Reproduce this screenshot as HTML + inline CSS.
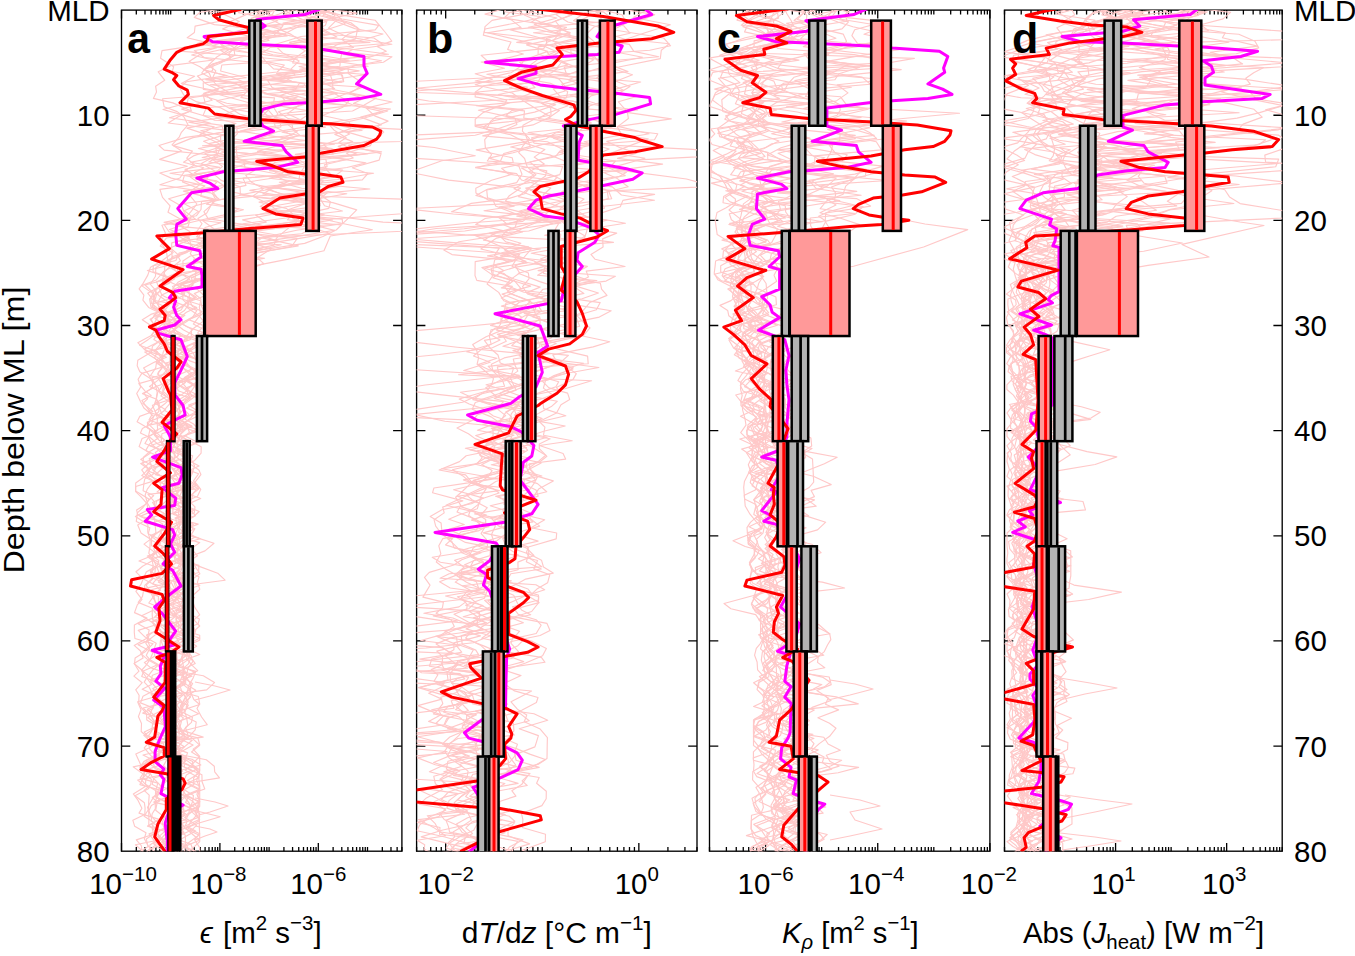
<!DOCTYPE html>
<html><head><meta charset="utf-8"><style>
html,body{margin:0;padding:0;background:#fff;}
svg{display:block;}
text{font-family:"Liberation Sans", sans-serif;font-size:29.5px;fill:#000;}
</style></head><body>
<svg width="1355" height="956" viewBox="0 0 1355 956">
<path d="M121.50 851.20v-8.3M121.50 10.10v8.3M136.31 851.20v-4.3M136.31 10.10v4.3M144.98 851.20v-4.3M144.98 10.10v4.3M151.12 851.20v-4.3M151.12 10.10v4.3M155.89 851.20v-4.3M155.89 10.10v4.3M159.79 851.20v-4.3M159.79 10.10v4.3M163.08 851.20v-4.3M163.08 10.10v4.3M165.93 851.20v-4.3M165.93 10.10v4.3M168.45 851.20v-4.3M168.45 10.10v4.3M170.70 851.20v-4.3M170.70 10.10v4.3M185.51 851.20v-4.3M185.51 10.10v4.3M194.18 851.20v-4.3M194.18 10.10v4.3M200.32 851.20v-4.3M200.32 10.10v4.3M205.09 851.20v-4.3M205.09 10.10v4.3M208.99 851.20v-4.3M208.99 10.10v4.3M212.28 851.20v-4.3M212.28 10.10v4.3M215.14 851.20v-4.3M215.14 10.10v4.3M217.65 851.20v-4.3M217.65 10.10v4.3M219.90 851.20v-8.3M219.90 10.10v8.3M234.71 851.20v-4.3M234.71 10.10v4.3M243.38 851.20v-4.3M243.38 10.10v4.3M249.53 851.20v-4.3M249.53 10.10v4.3M254.29 851.20v-4.3M254.29 10.10v4.3M258.19 851.20v-4.3M258.19 10.10v4.3M261.48 851.20v-4.3M261.48 10.10v4.3M264.34 851.20v-4.3M264.34 10.10v4.3M266.85 851.20v-4.3M266.85 10.10v4.3M269.11 851.20v-4.3M269.11 10.10v4.3M283.92 851.20v-4.3M283.92 10.10v4.3M292.58 851.20v-4.3M292.58 10.10v4.3M298.73 851.20v-4.3M298.73 10.10v4.3M303.50 851.20v-4.3M303.50 10.10v4.3M307.39 851.20v-4.3M307.39 10.10v4.3M310.69 851.20v-4.3M310.69 10.10v4.3M313.54 851.20v-4.3M313.54 10.10v4.3M316.06 851.20v-4.3M316.06 10.10v4.3M318.31 851.20v-8.3M318.31 10.10v8.3M333.12 851.20v-4.3M333.12 10.10v4.3M341.78 851.20v-4.3M341.78 10.10v4.3M347.93 851.20v-4.3M347.93 10.10v4.3M352.70 851.20v-4.3M352.70 10.10v4.3M356.59 851.20v-4.3M356.59 10.10v4.3M359.89 851.20v-4.3M359.89 10.10v4.3M362.74 851.20v-4.3M362.74 10.10v4.3M365.26 851.20v-4.3M365.26 10.10v4.3M367.51 851.20v-4.3M367.51 10.10v4.3M382.32 851.20v-4.3M382.32 10.10v4.3M390.98 851.20v-4.3M390.98 10.10v4.3M397.13 851.20v-4.3M397.13 10.10v4.3M401.90 851.20v-4.3M401.90 10.10v4.3M121.50 115.24h8.8M401.90 115.24h-8.8M121.50 220.38h8.8M401.90 220.38h-8.8M121.50 325.51h8.8M401.90 325.51h-8.8M121.50 430.65h8.8M401.90 430.65h-8.8M121.50 535.79h8.8M401.90 535.79h-8.8M121.50 640.93h8.8M401.90 640.93h-8.8M121.50 746.06h8.8M401.90 746.06h-8.8" stroke="#000" stroke-width="1.3" fill="none"/>
<rect x="121.50" y="10.10" width="280.40" height="841.10" stroke="#000" stroke-width="1.35" fill="none"/>
<path d="M416.60 851.20v-4.3M416.60 10.10v4.3M424.25 851.20v-4.3M424.25 10.10v4.3M430.71 851.20v-4.3M430.71 10.10v4.3M436.32 851.20v-4.3M436.32 10.10v4.3M441.26 851.20v-4.3M441.26 10.10v4.3M445.68 851.20v-8.3M445.68 10.10v8.3M474.75 851.20v-4.3M474.75 10.10v4.3M491.76 851.20v-4.3M491.76 10.10v4.3M503.83 851.20v-4.3M503.83 10.10v4.3M513.19 851.20v-4.3M513.19 10.10v4.3M520.83 851.20v-4.3M520.83 10.10v4.3M527.30 851.20v-4.3M527.30 10.10v4.3M532.90 851.20v-4.3M532.90 10.10v4.3M537.84 851.20v-4.3M537.84 10.10v4.3M542.26 851.20v-4.3M542.26 10.10v4.3M571.34 851.20v-4.3M571.34 10.10v4.3M588.35 851.20v-4.3M588.35 10.10v4.3M600.41 851.20v-4.3M600.41 10.10v4.3M609.77 851.20v-4.3M609.77 10.10v4.3M617.42 851.20v-4.3M617.42 10.10v4.3M623.89 851.20v-4.3M623.89 10.10v4.3M629.49 851.20v-4.3M629.49 10.10v4.3M634.43 851.20v-4.3M634.43 10.10v4.3M638.85 851.20v-8.3M638.85 10.10v8.3M667.92 851.20v-4.3M667.92 10.10v4.3M684.93 851.20v-4.3M684.93 10.10v4.3M697.00 851.20v-4.3M697.00 10.10v4.3M416.60 115.24h8.8M697.00 115.24h-8.8M416.60 220.38h8.8M697.00 220.38h-8.8M416.60 325.51h8.8M697.00 325.51h-8.8M416.60 430.65h8.8M697.00 430.65h-8.8M416.60 535.79h8.8M697.00 535.79h-8.8M416.60 640.93h8.8M697.00 640.93h-8.8M416.60 746.06h8.8M697.00 746.06h-8.8" stroke="#000" stroke-width="1.3" fill="none"/>
<rect x="416.60" y="10.10" width="280.40" height="841.10" stroke="#000" stroke-width="1.35" fill="none"/>
<path d="M709.50 851.20v-4.3M709.50 10.10v4.3M726.38 851.20v-4.3M726.38 10.10v4.3M736.26 851.20v-4.3M736.26 10.10v4.3M743.26 851.20v-4.3M743.26 10.10v4.3M748.70 851.20v-4.3M748.70 10.10v4.3M753.14 851.20v-4.3M753.14 10.10v4.3M756.89 851.20v-4.3M756.89 10.10v4.3M760.15 851.20v-4.3M760.15 10.10v4.3M763.01 851.20v-4.3M763.01 10.10v4.3M765.58 851.20v-8.3M765.58 10.10v8.3M782.46 851.20v-4.3M782.46 10.10v4.3M792.34 851.20v-4.3M792.34 10.10v4.3M799.34 851.20v-4.3M799.34 10.10v4.3M804.78 851.20v-4.3M804.78 10.10v4.3M809.22 851.20v-4.3M809.22 10.10v4.3M812.97 851.20v-4.3M812.97 10.10v4.3M816.23 851.20v-4.3M816.23 10.10v4.3M819.09 851.20v-4.3M819.09 10.10v4.3M821.66 851.20v-4.3M821.66 10.10v4.3M838.54 851.20v-4.3M838.54 10.10v4.3M848.42 851.20v-4.3M848.42 10.10v4.3M855.42 851.20v-4.3M855.42 10.10v4.3M860.86 851.20v-4.3M860.86 10.10v4.3M865.30 851.20v-4.3M865.30 10.10v4.3M869.05 851.20v-4.3M869.05 10.10v4.3M872.31 851.20v-4.3M872.31 10.10v4.3M875.17 851.20v-4.3M875.17 10.10v4.3M877.74 851.20v-8.3M877.74 10.10v8.3M894.62 851.20v-4.3M894.62 10.10v4.3M904.50 851.20v-4.3M904.50 10.10v4.3M911.50 851.20v-4.3M911.50 10.10v4.3M916.94 851.20v-4.3M916.94 10.10v4.3M921.38 851.20v-4.3M921.38 10.10v4.3M925.13 851.20v-4.3M925.13 10.10v4.3M928.39 851.20v-4.3M928.39 10.10v4.3M931.25 851.20v-4.3M931.25 10.10v4.3M933.82 851.20v-4.3M933.82 10.10v4.3M950.70 851.20v-4.3M950.70 10.10v4.3M960.58 851.20v-4.3M960.58 10.10v4.3M967.58 851.20v-4.3M967.58 10.10v4.3M973.02 851.20v-4.3M973.02 10.10v4.3M977.46 851.20v-4.3M977.46 10.10v4.3M981.21 851.20v-4.3M981.21 10.10v4.3M984.47 851.20v-4.3M984.47 10.10v4.3M987.33 851.20v-4.3M987.33 10.10v4.3M989.90 851.20v-8.3M989.90 10.10v8.3M709.50 115.24h8.8M989.90 115.24h-8.8M709.50 220.38h8.8M989.90 220.38h-8.8M709.50 325.51h8.8M989.90 325.51h-8.8M709.50 430.65h8.8M989.90 430.65h-8.8M709.50 535.79h8.8M989.90 535.79h-8.8M709.50 640.93h8.8M989.90 640.93h-8.8M709.50 746.06h8.8M989.90 746.06h-8.8" stroke="#000" stroke-width="1.3" fill="none"/>
<rect x="709.50" y="10.10" width="280.40" height="841.10" stroke="#000" stroke-width="1.35" fill="none"/>
<path d="M1004.50 851.20v-4.3M1004.50 10.10v4.3M1021.22 851.20v-4.3M1021.22 10.10v4.3M1031.00 851.20v-4.3M1031.00 10.10v4.3M1037.94 851.20v-4.3M1037.94 10.10v4.3M1043.32 851.20v-4.3M1043.32 10.10v4.3M1047.72 851.20v-4.3M1047.72 10.10v4.3M1051.44 851.20v-4.3M1051.44 10.10v4.3M1054.66 851.20v-4.3M1054.66 10.10v4.3M1057.50 851.20v-4.3M1057.50 10.10v4.3M1060.04 851.20v-4.3M1060.04 10.10v4.3M1076.76 851.20v-4.3M1076.76 10.10v4.3M1086.54 851.20v-4.3M1086.54 10.10v4.3M1093.48 851.20v-4.3M1093.48 10.10v4.3M1098.86 851.20v-4.3M1098.86 10.10v4.3M1103.26 851.20v-4.3M1103.26 10.10v4.3M1106.98 851.20v-4.3M1106.98 10.10v4.3M1110.20 851.20v-4.3M1110.20 10.10v4.3M1113.04 851.20v-4.3M1113.04 10.10v4.3M1115.58 851.20v-8.3M1115.58 10.10v8.3M1132.30 851.20v-4.3M1132.30 10.10v4.3M1142.08 851.20v-4.3M1142.08 10.10v4.3M1149.02 851.20v-4.3M1149.02 10.10v4.3M1154.40 851.20v-4.3M1154.40 10.10v4.3M1158.80 851.20v-4.3M1158.80 10.10v4.3M1162.52 851.20v-4.3M1162.52 10.10v4.3M1165.74 851.20v-4.3M1165.74 10.10v4.3M1168.58 851.20v-4.3M1168.58 10.10v4.3M1171.12 851.20v-4.3M1171.12 10.10v4.3M1187.84 851.20v-4.3M1187.84 10.10v4.3M1197.62 851.20v-4.3M1197.62 10.10v4.3M1204.56 851.20v-4.3M1204.56 10.10v4.3M1209.94 851.20v-4.3M1209.94 10.10v4.3M1214.34 851.20v-4.3M1214.34 10.10v4.3M1218.06 851.20v-4.3M1218.06 10.10v4.3M1221.28 851.20v-4.3M1221.28 10.10v4.3M1224.12 851.20v-4.3M1224.12 10.10v4.3M1226.66 851.20v-8.3M1226.66 10.10v8.3M1243.38 851.20v-4.3M1243.38 10.10v4.3M1253.16 851.20v-4.3M1253.16 10.10v4.3M1260.10 851.20v-4.3M1260.10 10.10v4.3M1265.48 851.20v-4.3M1265.48 10.10v4.3M1269.88 851.20v-4.3M1269.88 10.10v4.3M1273.60 851.20v-4.3M1273.60 10.10v4.3M1276.82 851.20v-4.3M1276.82 10.10v4.3M1279.66 851.20v-4.3M1279.66 10.10v4.3M1282.20 851.20v-4.3M1282.20 10.10v4.3M1004.50 115.24h8.8M1282.20 115.24h-8.8M1004.50 220.38h8.8M1282.20 220.38h-8.8M1004.50 325.51h8.8M1282.20 325.51h-8.8M1004.50 430.65h8.8M1282.20 430.65h-8.8M1004.50 535.79h8.8M1282.20 535.79h-8.8M1004.50 640.93h8.8M1282.20 640.93h-8.8M1004.50 746.06h8.8M1282.20 746.06h-8.8" stroke="#000" stroke-width="1.3" fill="none"/>
<rect x="1004.50" y="10.10" width="277.70" height="841.10" stroke="#000" stroke-width="1.35" fill="none"/>
<defs>
<clipPath id="cpa"><rect x="121.50" y="10.10" width="280.40" height="841.10"/></clipPath>
<clipPath id="cpb"><rect x="416.60" y="10.10" width="280.40" height="841.10"/></clipPath>
<clipPath id="cpc"><rect x="709.50" y="10.10" width="280.40" height="841.10"/></clipPath>
<clipPath id="cpd"><rect x="1004.50" y="10.10" width="277.70" height="841.10"/></clipPath>
</defs>
<g clip-path="url(#cpa)">
<g fill="none" stroke="#ffc8c8" stroke-width="1.15" stroke-linejoin="round"><polyline points="283.5,7.1 264.1,13.7 251.3,18.4 251.4,24.6 271.7,31.6 308.8,40.0 284.7,45.1 220.5,50.3 231.4,57.0 213.0,64.2 212.6,70.5 197.4,76.0 205.5,83.4 218.2,89.6 203.0,94.3 205.1,102.3 181.7,109.1 203.0,115.5 269.3,122.6 236.8,128.6 237.3,133.8 232.3,138.8 208.7,143.6 227.5,151.4 283.5,157.3 249.9,162.5 229.7,169.4 184.4,175.4 182.5,181.9 202.2,190.0 200.7,196.1 215.1,200.8 209.5,206.7 203.9,211.6 208.1,218.6 243.3,224.5 201.7,230.9 196.5,236.8 220.4,241.4 229.9,248.0 190.4,256.0 182.9,261.1 183.1,267.0 179.5,274.9 162.8,280.3 161.9,284.9 147.7,293.2 154.3,301.5 164.5,306.8 155.2,314.7 151.3,319.5 154.3,327.0 164.2,332.9 175.5,339.0 180.7,344.0 179.9,349.1 165.0,355.0 156.8,363.3 167.3,369.6 162.0,375.1 157.5,380.6 149.5,386.5 162.6,392.7 169.4,399.3 164.8,403.8 155.1,411.2 157.4,418.0 157.2,423.4 157.7,430.2 148.6,437.1 144.9,443.5 163.1,450.7 172.8,457.5 160.1,462.5 149.7,467.3 148.4,472.4 155.7,480.4 135.7,486.5 135.6,491.7 141.1,496.9 147.0,503.7 148.1,510.6 154.7,518.3 154.7,523.0 164.8,529.1 165.9,534.2 169.8,539.1 169.7,543.9 161.0,548.7 151.4,555.0 158.9,560.6 157.1,565.6 151.9,571.3 157.0,577.8 168.6,583.3 143.9,588.6 142.5,596.3 138.2,602.4 152.4,608.3 152.2,614.4 152.5,619.2 160.0,624.0 156.8,629.6 149.4,634.8 145.8,643.2 149.5,648.9 146.3,655.3 150.0,659.8 158.2,664.5 142.8,671.3 153.2,678.7 160.9,687.1 163.3,691.8 158.0,699.2 159.9,705.8 162.4,712.6 159.0,718.0 157.5,722.9 180.7,729.9 203.2,737.1 158.3,742.6 148.9,747.9 135.8,753.9 139.0,760.9 141.4,766.4 148.8,771.0 143.0,778.2 139.9,784.6 159.4,789.9 157.2,796.2 155.2,801.8 155.4,808.6 152.2,813.7 151.1,821.0 156.6,825.6 155.3,831.3 162.6,839.1 163.4,844.1 148.7,849.8 142.6,856.6"/><polyline points="248.4,7.1 238.5,12.6 269.0,18.6 283.0,25.6 277.2,33.0 217.3,40.5 225.0,48.7 199.9,54.4 189.1,61.5 199.9,66.7 209.3,73.2 211.8,79.5 216.8,85.4 228.3,92.1 188.2,98.3 187.2,103.0 163.0,109.5 183.4,115.1 210.5,123.4 186.9,128.1 207.4,134.9 223.7,142.7 217.5,147.7 193.4,155.9 183.5,162.3 203.8,167.7 194.3,172.7 208.1,177.6 201.4,183.7 159.9,189.4 162.5,197.4 170.1,205.8 168.0,212.3 181.2,219.4 161.9,225.3 165.4,233.0 160.4,241.4 163.7,246.8 166.7,253.2 167.7,260.4 166.9,265.7 147.4,270.5 168.9,277.9 169.3,283.2 154.3,290.3 158.8,295.5 170.3,303.8 165.1,309.7 150.8,314.4 142.3,319.7 151.5,325.9 167.6,330.5 164.0,338.0 152.4,346.3 151.6,352.1 137.8,360.2 137.2,365.7 139.8,371.7 152.6,379.9 152.4,387.7 144.0,393.5 147.6,398.8 142.8,403.4 152.9,411.5 139.7,416.4 137.1,421.8 150.0,429.3 148.3,437.1 152.1,444.6 158.3,449.7 163.0,455.8 140.7,463.5 149.4,469.9 147.3,474.6 135.7,483.0 135.6,490.9 149.2,499.2 145.4,504.6 136.6,510.1 137.8,514.7 148.4,520.4 155.2,525.2 155.9,532.2 151.7,538.4 144.0,544.1 154.3,552.1 152.0,559.5 153.2,565.7 151.5,572.0 152.6,579.1 146.1,585.1 150.4,591.7 154.0,599.4 159.1,607.6 141.6,615.8 154.0,623.6 158.6,629.8 146.5,635.1 149.7,640.1 138.0,644.8 153.0,652.6 149.9,659.7 145.6,665.9 141.4,670.5 146.8,678.0 151.4,684.4 142.2,689.3 157.7,696.3 162.4,702.9 167.4,711.2 160.0,718.6 172.0,725.1 162.1,732.7 166.3,740.2 164.7,748.0 158.4,753.3 158.1,758.0 159.2,765.2 145.5,770.2 140.1,778.1 157.8,783.1 155.6,790.8 155.4,796.7 169.7,804.2 172.5,811.2 164.2,817.0 151.1,823.9 156.1,829.0 154.4,833.5 146.3,838.9 147.7,845.9 154.6,851.4"/><polyline points="300.3,7.1 284.5,14.2 333.6,20.5 354.9,28.6 383.0,34.0 359.5,40.7 277.2,47.7 282.6,52.9 299.2,60.9 291.1,68.8 295.0,75.1 267.1,79.8 272.2,87.6 288.9,93.9 312.8,100.9 298.7,105.5 287.3,113.8 299.8,119.6 232.1,126.9 229.3,134.7 226.4,142.1 323.5,149.1 368.0,153.7 328.4,158.8 272.6,165.8 231.2,172.7 323.3,180.8 315.9,189.0 324.1,193.7 268.1,201.5 260.2,206.4 280.7,212.6 242.6,219.9 265.3,226.4 201.7,232.6 196.8,239.9 281.3,244.8 263.4,249.3 211.5,257.0 206.0,264.8 192.6,270.2 209.5,277.2 180.0,284.9 182.6,290.9 183.7,295.5 169.8,302.0 162.5,308.4 168.5,315.5 166.9,323.3 174.7,329.6 181.5,335.9 173.0,341.7 175.9,346.8 174.6,351.9 195.9,359.3 202.0,365.4 194.8,371.6 185.2,376.9 177.8,384.6 186.9,391.0 190.2,398.4 179.1,405.9 179.9,413.9 172.1,421.2 182.8,428.2 174.9,435.5 169.0,441.8 179.4,450.1 156.7,456.1 177.0,462.8 187.9,469.4 171.1,476.7 160.2,483.3 161.5,490.6 170.8,499.0 185.9,505.1 180.3,512.4 190.8,519.9 181.8,527.6 185.2,535.2 188.7,541.9 190.7,549.0 181.4,554.6 184.8,560.6 198.6,566.1 217.7,573.2 225.1,580.2 187.1,585.3 178.1,592.1 170.8,597.9 176.9,602.7 186.8,610.6 179.2,616.0 187.8,623.2 182.5,629.9 199.7,635.3 199.7,640.2 184.8,646.6 187.6,653.9 193.0,661.4 188.3,667.9 186.0,676.4 190.3,683.5 190.6,692.0 193.8,699.5 199.7,704.5 176.2,712.1 183.4,718.0 178.6,723.9 181.4,731.9 190.8,736.9 199.7,745.2 191.5,752.0 199.7,756.9 199.7,764.5 199.7,770.5 198.8,778.5 199.7,785.5 199.7,791.7 199.7,799.6 196.9,807.6 174.0,814.4 187.3,820.9 184.3,828.2 198.9,835.1 188.5,842.7 179.9,850.8 199.8,857.9"/><polyline points="278.9,7.1 291.4,14.6 307.8,21.9 245.9,28.6 252.5,36.7 235.2,44.8 194.3,50.5 204.2,57.5 269.9,63.8 301.2,72.2 249.5,79.8 249.8,85.6 210.8,93.3 274.5,97.9 272.8,106.3 277.8,113.9 273.5,119.6 275.4,127.2 292.1,135.3 223.3,143.0 215.9,149.6 217.2,157.2 208.9,162.0 257.4,168.8 245.8,175.5 251.1,182.0 263.4,188.6 252.7,196.3 268.8,203.9 276.9,210.4 255.7,215.2 266.2,222.1 228.2,228.9 258.1,234.5 279.2,241.5 238.0,249.9 212.3,255.9 220.0,264.0 212.7,271.3 208.6,276.2 180.4,284.1 197.4,289.3 204.5,296.0 187.1,302.5 180.0,307.4 168.4,314.9 166.4,321.3 158.4,327.3 151.4,335.4 165.2,340.5 168.7,346.5 170.1,354.7 169.8,363.1 166.7,369.1 177.9,375.4 176.4,381.6 177.0,387.2 170.5,393.6 174.8,400.6 184.8,408.4 178.4,414.7 171.6,420.7 181.4,429.1 168.4,435.7 170.8,443.9 173.1,450.1 175.9,456.7 185.9,464.5 189.6,469.7 182.1,474.9 187.5,481.5 179.4,487.4 166.1,492.3 173.4,499.4 171.4,504.1 193.8,510.0 186.2,515.9 188.0,523.6 193.4,529.2 185.6,533.8 176.5,538.7 178.0,545.4 177.7,552.9 179.6,559.2 183.0,564.1 181.0,570.9 173.8,579.0 168.4,586.1 164.5,590.7 194.6,597.6 173.5,603.6 154.1,611.5 160.0,617.6 161.1,624.8 175.7,629.3 174.4,634.6 186.6,640.7 184.9,649.1 191.6,656.1 188.4,663.8 183.4,668.4 182.7,674.3 183.4,682.5 171.5,690.7 169.1,698.9 173.2,706.3 169.3,711.7 173.2,719.8 175.6,724.4 164.6,732.8 172.3,741.1 179.9,749.1 175.5,755.8 183.6,762.4 196.7,769.0 186.3,775.1 183.4,782.1 199.7,790.0 183.8,797.0 173.7,801.9 183.6,808.0 179.4,813.6 179.7,820.9 169.8,827.5 185.3,835.0 185.5,841.6 185.6,847.1 183.8,854.0"/><polyline points="343.0,7.1 319.8,12.8 342.1,19.0 378.7,25.4 375.2,29.9 301.0,36.5 284.1,41.7 256.6,49.8 272.9,54.7 330.4,60.4 368.1,66.3 276.4,73.3 291.9,81.4 258.5,86.3 295.6,93.6 341.0,100.3 352.4,104.8 382.6,111.6 364.6,116.7 327.5,123.3 277.4,131.6 257.8,139.3 290.4,144.3 349.6,151.3 315.9,156.6 305.1,162.7 305.2,168.2 373.6,173.3 337.6,179.5 288.3,184.3 249.8,190.4 295.3,198.4 318.1,202.9 318.8,208.8 231.6,217.1 226.6,223.2 310.9,228.8 301.8,233.8 226.6,240.5 249.1,246.5 239.9,253.3 206.0,261.3 171.0,268.1 181.2,274.3 206.4,281.5 204.6,289.0 194.3,293.6 201.0,299.0 199.3,307.2 200.8,314.6 185.9,320.6 175.3,327.7 174.1,332.9 197.4,341.0 179.8,349.5 185.4,355.1 179.4,362.3 194.4,369.9 202.3,376.9 176.9,383.4 188.4,390.2 201.7,397.3 201.6,404.6 198.1,410.3 188.0,416.5 178.2,421.9 177.2,428.2 173.7,436.0 170.2,441.3 187.3,447.8 188.9,454.5 188.1,460.0 199.0,465.9 183.5,473.1 184.2,477.6 196.5,484.9 189.2,490.4 186.2,498.7 182.8,506.5 183.4,511.1 192.4,516.8 180.5,521.9 194.9,528.7 190.9,535.1 174.5,540.7 178.5,548.3 171.8,553.9 193.1,561.1 195.5,567.1 199.9,573.7 189.8,581.1 185.4,588.2 189.8,596.4 192.8,601.3 194.8,607.4 199.7,614.8 194.0,619.9 199.7,626.0 193.7,631.4 184.7,639.2 179.0,643.9 186.8,648.5 199.7,654.5 181.1,661.3 170.5,667.5 174.7,673.6 174.5,681.0 172.5,687.2 167.3,695.1 174.9,700.5 159.9,707.3 166.2,712.8 181.5,721.2 179.5,729.0 184.7,736.4 181.1,743.6 173.8,751.5 161.4,758.1 182.3,765.1 159.2,772.3 178.2,778.7 182.2,784.8 177.2,793.1 199.7,801.3 190.1,806.2 188.7,814.1 185.9,819.6 166.8,825.6 170.3,831.5 178.4,839.6 190.9,844.2 193.4,850.7 196.5,858.9"/><polyline points="289.3,7.1 335.6,13.4 332.3,19.8 251.9,26.8 223.4,35.2 197.1,43.5 229.6,49.2 216.8,57.0 208.3,65.3 215.8,70.7 212.7,77.7 232.3,82.5 249.3,89.3 240.9,97.4 275.4,104.2 236.8,109.6 215.7,118.0 236.0,123.5 200.7,130.8 230.0,137.3 232.4,142.4 198.4,148.5 226.2,155.4 190.5,162.2 219.7,167.4 170.0,173.3 216.4,180.7 224.5,185.9 212.5,192.9 215.3,199.2 206.5,204.1 238.7,208.8 226.7,216.2 202.8,220.7 213.9,228.7 218.5,236.4 178.3,241.3 204.9,247.4 179.1,253.1 175.9,260.5 153.3,265.8 153.0,271.8 168.2,276.9 164.0,283.9 154.2,290.9 150.8,297.7 151.4,303.2 161.8,311.6 169.2,320.0 167.9,326.7 160.0,333.6 159.1,341.5 144.4,348.9 156.6,357.0 167.4,364.7 170.6,372.4 151.8,377.8 155.5,384.9 157.2,392.3 156.2,398.5 158.9,406.9 162.1,414.5 176.1,419.3 149.5,425.1 154.5,429.8 154.8,434.5 164.2,439.6 161.2,444.7 150.2,451.2 143.5,457.3 142.8,463.4 149.0,468.7 141.7,475.6 151.0,480.2 182.5,488.6 192.5,495.2 173.8,500.0 173.6,505.4 166.6,511.0 164.3,518.6 152.0,523.3 164.7,529.4 150.5,535.6 160.3,543.2 156.8,550.2 148.5,557.5 158.5,564.6 146.3,572.0 143.5,578.3 140.8,584.7 135.9,591.4 142.0,599.3 137.3,604.9 134.5,612.6 147.0,618.1 134.4,625.0 134.3,632.5 134.9,638.5 153.1,643.7 145.1,651.8 135.1,658.1 134.5,664.0 139.0,671.2 133.9,676.1 142.2,682.7 135.7,689.8 139.1,695.3 138.7,702.2 141.4,707.7 146.6,714.2 146.8,719.9 157.0,725.9 144.2,732.1 151.2,740.0 144.2,747.9 151.1,755.8 156.3,762.0 133.2,766.9 142.1,773.2 151.4,779.3 150.7,784.7 144.1,790.4 149.2,795.2 148.7,801.7 148.5,809.5 144.1,816.2 153.4,822.3 152.1,827.6 153.5,834.2 136.3,839.9 141.3,845.6 142.2,852.3"/><polyline points="307.2,7.1 304.8,15.3 316.5,22.5 325.7,30.8 336.9,37.0 289.9,44.0 351.2,49.3 388.4,54.3 341.9,58.9 316.0,64.3 359.2,70.9 316.9,77.5 341.7,82.2 272.7,88.5 334.4,93.5 348.7,101.5 342.9,107.2 322.5,115.5 349.1,121.3 350.5,128.6 334.8,134.4 352.7,141.6 338.2,146.4 357.0,154.4 286.9,160.1 309.5,166.5 305.3,173.3 324.9,177.8 304.0,183.0 369.9,189.0 287.7,196.4 299.3,201.5 261.0,208.3 334.8,216.2 383.0,222.1 488.1,227.2 381.6,232.2 263.1,237.1 253.7,243.7 271.2,249.0 260.8,255.5 250.1,261.9 232.1,267.4 206.8,272.0 213.0,280.1 198.1,286.9 171.9,292.4 174.1,299.4 163.6,307.1 169.6,315.4 177.3,320.9 187.1,326.7 203.5,332.6 185.1,339.0 181.7,346.5 184.6,354.4 199.4,360.3 202.5,367.8 193.8,375.9 175.9,382.7 178.1,390.7 201.7,399.0 199.4,404.5 196.3,410.8 190.6,418.1 180.0,425.8 195.9,431.9 177.5,437.7 181.7,442.3 175.5,450.0 185.3,455.9 186.9,462.8 177.1,470.1 182.9,475.1 184.9,480.4 196.4,485.8 171.4,491.8 188.4,500.3 195.0,506.9 194.2,513.2 175.0,518.1 198.2,524.1 185.3,528.9 178.8,534.9 172.6,541.5 181.8,547.4 173.8,554.6 175.6,562.7 194.7,568.5 178.4,573.6 179.2,579.7 178.9,587.2 170.2,595.6 188.9,601.6 191.4,607.3 183.8,614.9 191.7,622.9 194.4,628.7 193.8,637.1 191.5,645.3 188.1,650.3 186.6,658.6 191.6,664.9 197.7,670.7 182.9,677.4 192.6,683.4 188.7,690.4 179.2,698.2 183.1,703.8 179.6,711.3 179.4,716.2 176.0,723.2 179.3,731.5 178.8,739.2 168.3,745.9 175.4,750.9 186.8,757.4 177.9,763.5 182.6,771.2 163.1,778.7 177.6,786.2 173.7,791.2 188.3,796.8 185.6,802.4 198.4,809.6 199.7,816.9 187.6,821.4 173.2,826.1 178.9,830.8 176.1,837.8 179.7,843.2 177.8,850.9 169.5,855.5"/><polyline points="288.1,7.1 305.0,14.0 326.7,21.7 298.4,26.5 284.8,33.7 267.2,38.9 245.0,46.4 281.7,53.7 346.7,61.0 299.6,69.2 365.9,74.5 321.7,81.5 334.6,88.6 264.3,93.8 295.3,100.1 206.3,107.7 203.1,115.4 214.8,120.3 332.8,125.8 349.6,134.1 336.7,140.1 323.6,144.7 328.8,149.2 333.4,153.9 240.3,159.7 265.4,166.7 309.4,172.8 243.0,178.1 246.0,185.4 224.2,190.1 258.1,197.5 320.4,203.9 313.3,208.6 302.2,214.7 296.5,222.1 286.2,229.9 276.4,238.1 274.1,245.1 252.3,249.7 256.4,257.0 263.8,263.6 241.5,271.8 196.5,279.5 190.5,287.2 188.4,292.9 194.6,297.5 185.9,302.5 196.8,307.4 186.4,312.3 180.3,317.2 162.3,322.3 176.9,326.8 170.0,333.7 163.8,340.7 185.8,348.4 173.0,353.0 186.4,361.0 183.1,368.3 189.8,374.1 197.3,381.2 186.8,389.7 188.6,395.9 177.6,404.0 180.8,412.1 176.3,419.9 183.2,426.6 161.9,433.7 161.2,441.8 167.2,447.2 165.3,452.7 164.8,459.0 170.8,466.5 175.6,473.7 164.6,480.8 169.4,488.1 170.0,492.6 185.6,499.1 182.0,506.7 174.0,512.8 181.0,517.7 179.5,522.3 172.1,530.0 176.2,535.3 170.6,542.2 179.4,547.0 175.9,553.8 190.5,561.7 192.2,569.1 178.4,575.1 175.4,582.8 178.2,588.2 170.1,594.1 163.1,598.8 165.0,603.4 173.6,610.8 176.0,616.0 170.1,620.8 179.1,627.5 190.8,634.2 191.2,639.2 185.0,644.4 186.6,649.9 171.9,654.7 170.0,661.9 172.5,668.3 182.8,674.8 179.9,681.5 188.1,688.6 185.9,696.1 183.1,701.3 180.3,706.1 185.2,711.2 171.5,719.4 177.9,727.7 153.7,736.0 170.0,741.4 181.3,747.7 175.9,753.8 206.3,759.8 214.3,766.2 214.7,771.8 219.5,777.9 188.1,783.0 199.7,789.2 186.3,794.7 199.0,802.2 198.5,808.4 188.8,813.2 179.8,818.0 171.8,825.3 172.4,831.9 166.1,838.7 186.6,844.7 188.8,850.8 196.6,858.1"/><polyline points="309.7,7.1 337.5,15.4 345.2,23.8 324.1,30.5 314.3,36.5 369.9,42.4 270.3,47.4 260.4,54.5 265.4,61.1 273.6,68.9 342.4,75.0 343.7,81.7 289.8,89.2 354.2,94.4 392.1,102.0 366.3,108.1 374.7,115.9 388.1,121.1 377.2,125.7 383.8,132.1 374.9,139.6 348.2,145.2 381.1,153.6 379.1,160.1 352.3,167.8 367.9,173.5 362.3,179.9 275.6,186.2 262.8,194.0 311.7,202.2 269.3,209.7 292.6,214.4 287.4,219.8 341.3,225.0 336.2,230.0 291.2,237.4 250.2,243.4 248.1,249.2 233.9,254.4 239.1,260.2 209.5,267.4 193.1,274.6 177.9,282.3 171.4,290.5 179.5,298.2 203.3,305.7 204.0,313.7 203.8,320.9 194.0,328.0 187.4,335.3 181.8,343.5 188.7,349.2 176.5,354.7 189.2,360.6 202.6,365.5 196.3,371.6 186.5,379.1 194.5,386.6 190.0,393.1 176.9,400.9 176.0,406.6 178.7,413.8 180.6,419.7 186.4,424.3 189.4,432.3 181.9,438.4 180.7,445.6 184.0,453.8 183.8,461.8 177.9,468.3 174.6,473.8 180.9,481.9 196.0,489.8 189.0,498.0 172.9,506.2 172.9,514.1 187.1,519.1 171.6,525.0 167.2,533.0 158.1,539.0 158.1,544.8 174.8,550.7 182.0,558.8 178.0,567.1 164.3,575.3 158.3,582.1 170.4,587.1 170.2,593.7 178.4,600.6 182.2,608.0 166.9,614.2 157.9,622.6 160.1,630.6 168.5,638.7 181.0,646.7 159.7,651.4 165.7,658.8 172.1,663.9 183.4,668.5 183.3,673.9 184.0,681.5 172.8,689.2 183.9,694.6 188.2,702.0 186.1,707.3 198.6,713.8 177.6,721.9 180.3,727.1 185.0,734.5 174.0,740.4 184.4,746.7 167.4,752.3 167.1,759.2 163.5,765.6 170.0,771.5 169.6,778.9 160.4,786.0 172.8,790.7 165.0,798.0 179.0,803.2 195.8,810.8 220.2,816.7 199.9,822.8 177.5,830.9 167.7,837.3 153.0,843.2 161.0,849.6 169.4,857.3"/><polyline points="309.4,7.1 340.1,14.9 375.1,20.2 379.7,25.6 385.8,33.0 391.8,41.1 377.1,46.4 386.3,51.3 362.6,59.7 320.3,64.3 343.4,69.4 271.9,77.8 304.4,83.9 308.6,92.3 286.4,97.5 305.5,104.1 278.4,111.7 288.1,118.6 349.1,126.6 450.8,131.8 471.9,139.7 273.2,144.9 221.7,151.3 325.9,159.4 327.1,166.6 296.0,172.4 269.1,178.2 339.4,186.2 315.9,190.8 323.6,196.5 490.2,202.1 474.2,208.4 374.6,215.8 291.1,222.3 245.5,227.9 230.5,236.4 198.7,243.9 218.4,252.2 231.1,257.3 229.2,264.0 223.8,270.0 228.7,276.4 198.6,281.0 180.9,288.4 189.4,293.5 189.3,300.0 192.5,306.4 202.2,311.8 188.0,319.4 203.7,325.6 197.7,332.9 203.2,340.6 191.7,347.9 180.8,352.9 171.3,358.9 186.9,364.1 196.1,372.5 185.0,378.5 192.9,383.8 201.9,390.6 187.1,398.9 181.1,406.1 188.8,414.4 184.6,419.0 193.6,424.0 201.3,432.2 201.3,436.7 195.8,442.4 178.0,450.5 192.6,455.8 190.1,464.1 198.9,469.9 200.9,474.6 195.1,482.1 200.8,489.3 197.5,496.3 181.8,503.0 188.8,508.0 195.4,515.7 183.7,522.5 181.8,527.2 188.7,532.7 183.9,539.1 177.9,544.5 193.4,551.0 197.5,555.8 186.2,562.9 188.2,571.1 199.1,576.9 197.4,582.1 199.8,589.2 192.5,595.7 185.7,603.1 185.5,609.3 189.5,613.8 176.1,618.7 178.4,624.2 178.3,631.5 199.7,638.1 187.7,644.7 188.7,651.1 182.3,658.9 177.3,663.9 194.7,672.3 188.1,677.3 179.7,684.7 181.9,692.0 198.3,696.5 199.7,703.6 197.0,708.5 201.6,717.0 207.2,724.7 174.8,733.0 171.0,738.3 167.5,744.3 167.3,749.9 183.1,757.1 179.3,764.7 191.7,770.2 177.5,775.8 180.7,782.2 181.2,788.2 186.3,795.6 179.6,802.7 191.1,808.3 174.7,816.7 182.7,824.4 182.7,832.1 170.0,837.6 184.2,845.5 190.0,851.3 199.8,856.9"/><polyline points="311.8,7.1 356.8,13.1 327.4,19.2 325.5,25.2 308.5,32.8 373.9,38.0 382.2,43.7 317.6,49.2 311.1,53.8 349.1,60.3 299.0,66.5 330.4,75.0 332.6,81.8 332.9,89.5 376.5,98.0 364.2,105.0 352.5,111.0 234.5,118.6 292.2,124.9 292.9,129.8 300.1,135.4 274.6,140.6 332.2,148.5 295.3,154.4 348.5,159.2 304.6,166.3 299.7,174.2 299.1,180.2 280.0,187.3 239.4,195.0 309.1,202.4 288.1,209.7 324.2,214.9 299.7,220.5 269.6,225.7 238.2,230.7 241.9,236.4 235.2,244.1 203.2,251.9 264.6,258.2 239.1,263.1 216.4,271.5 212.4,276.7 176.6,284.8 187.1,291.4 196.4,297.2 188.8,302.0 187.4,307.7 198.8,315.7 203.8,321.3 203.6,326.7 203.4,333.7 197.9,340.0 191.7,348.3 187.1,353.8 196.1,359.2 202.6,365.7 193.9,373.7 185.8,381.1 195.3,386.3 197.1,393.9 198.9,401.7 186.6,408.1 201.5,414.3 185.1,422.2 188.2,427.2 180.1,434.8 189.2,442.0 183.1,448.1 181.9,456.1 189.5,462.9 172.4,469.2 182.1,477.4 179.5,484.2 182.6,489.9 179.2,497.0 181.8,504.1 199.2,511.5 193.8,516.2 184.7,521.1 177.8,527.4 184.9,532.4 181.3,537.3 199.7,542.6 188.4,550.8 179.6,559.1 188.6,566.7 194.5,572.8 180.0,579.6 186.2,586.3 188.1,594.3 192.0,601.4 184.0,607.1 176.2,614.1 176.1,620.4 176.6,625.4 165.0,631.1 194.5,638.6 185.6,646.0 181.5,652.5 191.6,658.2 195.2,663.6 178.9,671.4 192.0,676.3 175.4,681.7 172.2,686.8 182.1,694.9 167.5,699.5 177.8,706.3 180.5,711.3 192.4,717.3 191.5,722.4 185.5,727.7 187.7,733.8 188.0,738.5 172.9,744.6 175.7,749.4 175.9,755.0 174.8,760.6 195.7,767.7 199.7,773.1 187.4,780.5 199.7,786.1 196.9,794.4 199.7,799.7 199.7,806.4 194.9,811.9 199.7,819.3 186.0,825.7 195.6,831.0 184.7,837.0 175.0,843.1 195.8,851.4 192.9,857.7"/><polyline points="342.2,7.1 316.2,14.7 345.4,22.4 357.6,27.6 356.7,33.5 355.5,38.9 337.3,44.6 326.8,50.8 392.0,56.8 383.4,62.3 322.9,69.2 253.4,77.5 300.0,82.5 294.8,90.3 280.7,95.4 285.0,100.7 229.8,107.7 240.2,114.4 259.1,119.3 238.6,126.4 226.3,132.7 224.7,137.7 280.7,144.9 257.4,151.4 295.7,157.6 308.3,166.0 269.4,170.6 319.5,176.8 297.0,182.2 265.9,189.3 295.8,197.8 332.8,202.6 356.7,209.9 349.8,216.8 342.6,223.7 296.6,230.2 262.1,237.9 298.3,245.9 249.0,253.9 244.2,261.7 218.5,267.7 175.3,273.6 156.6,281.7 158.9,288.1 161.8,295.0 176.0,302.4 196.9,310.4 192.5,317.5 184.5,322.9 164.8,328.7 175.9,337.0 181.6,342.9 184.1,350.5 188.2,356.9 165.7,363.0 177.6,368.8 176.1,376.1 190.8,382.7 200.7,388.0 200.2,392.5 190.0,400.1 178.4,408.5 173.3,414.3 176.6,421.1 188.6,426.1 180.8,433.4 178.5,441.0 163.9,448.6 163.8,453.5 172.5,458.3 178.4,463.1 178.2,469.2 181.8,474.7 178.9,481.3 178.0,487.0 178.1,492.8 168.1,499.2 161.3,505.5 182.0,511.1 161.1,516.2 182.0,522.2 172.4,527.2 175.2,534.4 162.0,540.6 153.7,548.8 157.9,557.0 187.5,565.5 187.0,571.5 179.6,577.9 199.8,585.3 183.0,591.3 177.4,599.6 169.2,604.3 170.5,612.8 187.9,618.0 186.1,624.2 195.8,630.4 194.2,635.2 191.9,643.2 186.2,649.9 182.1,657.0 183.1,664.8 185.2,671.9 183.1,676.6 185.0,682.9 172.2,690.6 168.1,698.3 188.3,705.1 184.7,711.7 186.5,717.1 187.8,725.1 183.3,730.6 183.2,736.5 166.2,744.9 187.6,752.9 184.4,760.5 184.3,767.2 201.9,774.8 202.1,781.8 204.8,789.0 184.7,795.9 193.2,801.8 198.2,808.6 195.8,816.1 190.0,822.6 188.0,828.3 199.7,833.8 194.6,839.6 199.7,847.7 199.8,852.2 191.3,857.2"/><polyline points="276.2,7.1 272.2,14.7 248.3,22.4 281.7,27.4 273.6,35.6 216.9,41.1 226.5,47.5 254.1,53.7 249.2,58.4 284.3,65.0 277.2,72.0 205.7,79.6 248.9,85.7 267.3,93.7 290.7,98.7 350.6,105.6 285.4,113.2 262.2,119.4 261.5,125.4 240.5,131.1 270.2,135.9 334.4,144.3 262.8,151.7 213.7,159.8 293.6,165.5 342.6,170.1 335.8,175.5 310.1,182.3 261.2,186.8 313.2,191.7 252.1,196.4 201.5,201.5 201.0,209.5 196.3,215.8 164.1,222.4 184.2,226.9 252.5,233.1 202.5,241.1 193.5,246.8 190.2,253.7 197.4,261.5 207.7,266.8 184.9,273.9 163.1,282.1 162.3,288.6 156.4,294.8 154.9,300.7 161.2,309.1 153.8,315.2 176.2,320.7 162.9,326.3 166.1,334.4 166.4,341.7 167.3,347.1 144.7,352.1 154.9,358.4 160.5,363.2 168.7,371.2 158.2,378.1 162.6,385.5 157.7,392.3 156.7,397.5 154.0,405.8 148.6,412.0 161.9,416.6 147.4,422.3 147.8,427.9 153.6,433.0 158.3,438.1 149.5,444.0 145.8,450.4 158.7,456.6 155.8,463.2 162.7,468.2 155.4,474.6 183.2,480.4 198.4,488.8 148.0,494.4 154.7,502.2 154.3,507.0 164.6,513.8 147.9,518.6 137.7,525.0 141.0,532.9 150.2,539.0 150.0,546.3 148.8,553.3 153.1,560.2 142.6,566.2 136.0,571.8 142.5,578.4 155.0,585.1 160.6,590.1 153.8,595.3 155.4,603.1 158.3,608.9 164.2,615.4 156.6,622.0 157.6,628.3 156.3,634.1 147.7,640.7 149.6,645.6 140.9,653.6 147.5,659.4 156.4,664.6 165.8,670.2 152.4,675.2 150.8,681.5 157.1,688.8 143.0,696.2 140.5,702.9 152.8,707.7 149.7,714.8 154.0,720.4 156.2,727.1 143.8,735.4 148.8,739.9 156.6,747.4 161.2,752.5 192.0,759.3 200.8,765.0 171.5,772.7 137.7,780.0 145.3,786.6 133.3,793.9 137.7,799.8 141.9,808.3 139.0,813.1 159.2,819.4 147.5,826.1 167.1,832.0 160.1,839.8 135.4,844.8 144.8,853.1 156.8,858.7"/><polyline points="274.9,7.1 267.6,14.4 296.3,20.0 312.4,25.2 261.4,33.0 268.9,40.5 239.5,46.4 224.2,54.2 286.6,60.0 319.0,67.8 304.6,76.2 210.2,84.7 252.9,89.3 201.5,95.2 226.7,103.3 267.6,109.4 273.6,116.2 280.0,121.1 280.9,127.0 220.5,134.7 220.8,142.9 228.5,151.4 202.2,157.5 259.9,165.4 286.6,170.5 277.0,176.7 288.2,181.7 267.9,188.9 289.3,197.3 259.1,202.1 286.4,208.4 292.5,213.8 332.6,220.0 290.4,226.4 241.4,233.1 243.8,239.5 256.8,247.4 213.6,255.8 216.6,262.3 204.9,269.2 191.0,276.1 183.2,283.9 176.9,290.5 172.4,298.4 153.1,303.6 155.8,310.0 184.9,315.2 174.4,322.7 183.2,329.8 198.6,338.0 197.9,345.8 186.9,353.2 186.1,361.6 191.3,369.4 176.6,375.7 164.2,383.1 162.7,391.0 168.1,395.6 155.2,403.3 165.6,409.7 157.9,415.2 173.7,422.3 162.5,429.5 177.9,436.8 165.3,443.4 169.1,448.6 174.4,454.7 174.0,461.2 181.2,465.7 181.6,472.0 171.8,477.9 175.6,483.9 175.8,490.3 178.1,495.0 167.5,501.6 164.1,507.5 149.6,516.0 162.7,523.9 161.2,532.0 157.6,538.7 188.9,546.1 181.1,553.2 165.7,559.9 160.9,567.6 163.7,573.2 156.8,578.9 152.6,583.7 176.2,590.2 178.7,598.6 161.3,603.9 170.6,611.0 173.6,616.7 151.8,621.7 160.8,630.1 160.8,635.0 161.2,641.2 163.1,646.3 176.7,653.6 177.2,659.0 169.4,666.2 172.1,671.0 185.6,677.8 185.7,683.8 174.8,689.8 169.4,698.3 173.2,706.4 171.6,712.1 161.1,720.2 165.4,725.0 175.1,730.7 177.9,738.1 158.7,744.5 160.3,752.4 145.5,760.4 152.5,766.0 167.9,773.0 165.3,780.6 183.5,788.4 175.1,793.8 170.8,800.7 174.2,808.5 185.4,813.6 170.4,819.3 176.8,825.8 184.0,832.3 162.6,840.6 167.2,847.1 181.5,854.6"/><polyline points="299.1,7.1 325.0,12.1 308.9,18.6 283.1,23.1 315.8,28.6 331.0,34.2 289.6,42.4 305.4,50.7 294.8,58.3 292.7,63.0 348.2,68.6 348.3,73.5 360.1,81.5 359.0,87.5 349.2,93.6 363.5,98.5 353.5,103.4 387.7,111.0 363.6,118.2 334.8,124.6 362.1,130.5 297.1,135.9 281.8,141.7 329.6,149.5 322.2,154.9 274.9,162.5 268.0,167.7 276.0,172.5 303.5,180.3 320.6,186.9 306.1,191.6 271.8,197.6 320.5,205.7 270.7,212.9 342.2,219.1 342.7,223.7 250.3,230.3 277.8,235.2 233.1,243.2 263.2,249.0 244.6,255.0 256.7,259.6 235.4,265.1 197.4,270.0 208.2,276.5 181.2,283.0 185.7,287.6 184.1,295.8 200.7,300.7 201.7,306.2 204.0,312.2 197.9,318.2 193.3,324.1 203.6,329.4 203.3,337.7 192.8,343.9 203.0,349.8 179.0,357.4 183.5,363.2 198.4,370.6 202.3,375.7 181.4,381.7 188.1,389.8 181.5,394.9 166.5,400.3 182.2,406.9 184.8,412.9 182.6,420.9 191.9,426.0 175.4,434.3 190.7,441.2 201.2,446.8 201.1,453.2 194.7,460.4 186.3,465.2 192.7,471.4 187.3,478.6 189.5,486.4 189.9,493.2 180.2,499.4 187.3,504.2 189.2,512.1 185.8,519.1 193.4,524.4 184.7,529.4 194.8,537.3 183.9,542.8 182.9,551.2 179.2,557.2 180.4,563.9 180.0,569.1 176.7,573.7 176.0,580.2 184.1,586.2 167.0,591.5 160.0,599.1 171.3,605.6 186.7,612.2 199.4,619.0 198.1,623.8 179.8,631.6 187.7,640.1 196.7,646.2 182.7,654.1 180.1,662.1 177.4,669.4 169.0,674.2 182.6,682.3 195.8,690.2 187.9,695.5 182.9,702.0 179.5,708.8 182.1,715.0 196.2,722.0 195.2,729.8 188.4,737.1 168.7,741.9 174.5,748.6 181.9,756.8 188.4,761.6 199.7,770.0 193.6,778.1 193.9,784.4 184.2,789.7 193.5,795.4 192.5,801.9 189.4,808.7 199.7,813.4 198.9,821.0 186.0,828.5 191.9,833.8 199.5,840.3 183.5,846.9 180.7,851.5 185.8,858.9"/><polyline points="297.0,7.1 278.6,14.3 254.9,22.7 276.6,28.1 291.1,34.4 303.5,42.3 336.0,47.2 341.7,53.5 340.4,60.0 339.9,66.3 277.5,73.2 292.4,77.9 234.4,82.5 247.1,90.7 297.2,97.7 271.5,104.6 313.3,111.5 300.3,119.7 325.5,127.1 282.0,132.3 319.7,139.4 236.1,146.3 236.7,153.2 237.5,158.3 267.2,166.7 313.1,173.2 226.7,179.4 268.2,187.0 327.2,192.7 320.2,198.6 324.5,205.8 342.4,211.0 300.9,216.0 243.1,223.7 257.3,228.9 252.2,233.7 297.3,238.4 291.6,246.5 251.0,254.2 193.6,259.3 194.0,266.7 196.0,273.5 194.5,280.8 187.1,288.0 180.9,293.1 192.1,299.6 184.2,305.0 181.1,310.0 169.0,314.8 176.1,320.7 191.3,328.9 191.6,334.5 190.3,339.6 175.9,344.1 193.2,352.6 195.5,359.0 202.6,366.5 202.3,374.0 202.2,381.4 186.4,387.9 191.1,394.4 201.6,400.5 188.6,405.1 201.5,413.4 171.2,418.6 158.4,425.1 168.7,430.3 182.7,437.3 177.1,443.0 177.2,448.6 178.3,455.5 169.7,461.8 182.1,467.6 198.5,473.8 193.5,480.9 198.9,488.7 193.0,493.5 191.0,501.5 190.2,506.4 182.8,511.3 180.4,517.2 191.4,524.0 181.1,530.9 200.3,538.8 182.4,543.8 186.2,552.2 176.1,559.6 160.2,567.6 175.5,572.6 187.3,578.2 185.5,582.9 175.6,590.8 181.3,597.3 185.7,604.2 162.8,611.9 182.6,619.2 173.5,626.1 168.5,631.1 186.2,637.0 169.6,643.9 166.8,649.6 186.8,655.6 178.1,660.8 167.2,666.1 179.5,671.7 171.0,677.7 170.8,684.4 184.3,692.5 190.5,697.0 183.4,703.2 182.4,709.5 176.8,716.0 175.4,723.8 167.4,731.1 175.0,737.1 167.9,743.6 170.1,748.3 173.7,754.8 186.2,760.5 179.8,765.9 180.4,771.4 182.0,776.0 179.5,783.0 184.1,790.6 183.5,795.7 189.2,803.1 191.5,811.6 199.4,818.7 199.3,826.6 199.7,834.1 199.7,841.6 191.4,849.3 174.7,856.9"/><polyline points="340.1,7.1 323.3,13.0 336.8,19.8 328.5,28.2 346.4,36.6 391.8,44.3 352.0,49.7 343.8,54.5 381.6,60.8 354.8,65.7 332.7,73.6 267.1,80.4 362.6,87.2 343.3,94.8 321.0,103.3 390.6,109.0 360.7,117.1 381.4,124.9 346.8,131.9 373.3,139.6 370.5,145.6 346.4,153.0 353.2,158.0 324.4,164.8 326.7,170.0 333.9,177.4 279.3,182.2 301.7,188.3 346.8,193.8 313.9,199.5 317.9,207.3 302.3,214.1 292.6,218.8 315.6,225.6 335.1,230.5 322.9,236.5 304.7,243.4 257.9,250.5 224.7,255.0 215.7,263.5 210.6,269.3 191.5,277.6 193.0,285.2 183.1,291.7 182.8,299.6 188.3,304.9 184.5,310.5 174.4,317.1 167.3,325.0 176.2,330.8 184.4,335.4 202.0,340.3 182.8,348.2 185.7,355.1 186.6,361.8 182.1,367.6 191.9,372.9 184.4,378.3 171.0,386.4 169.9,391.3 190.0,398.0 170.2,405.0 173.8,410.6 175.3,418.2 191.9,426.6 174.1,431.9 179.1,439.6 167.5,445.9 186.8,450.8 190.7,458.5 194.6,465.8 192.0,474.1 188.3,482.3 181.6,487.2 183.2,492.0 200.7,498.5 187.8,504.1 182.5,508.8 180.6,513.5 181.4,519.2 179.4,525.5 175.9,533.0 179.4,538.4 179.0,546.0 188.1,551.6 177.0,558.9 198.9,565.4 198.6,572.5 173.4,580.1 175.8,588.1 181.2,593.6 174.2,600.0 172.8,607.7 183.6,613.1 180.3,620.7 163.3,626.3 182.3,633.7 184.5,639.5 183.0,646.3 189.9,653.5 188.1,659.6 178.4,666.5 195.8,671.4 193.0,678.4 188.0,686.5 191.4,694.7 186.2,702.9 181.6,708.5 182.0,715.2 172.9,719.7 168.1,724.9 172.5,729.8 171.7,735.5 192.2,740.3 185.0,746.4 177.0,754.2 192.7,761.4 192.6,766.5 199.7,773.7 196.7,780.1 199.7,788.3 197.8,796.3 199.7,802.0 190.6,806.8 191.2,812.2 184.7,817.5 196.7,825.2 191.7,830.1 178.8,836.1 178.8,844.4 179.0,850.3 177.1,854.9"/><polyline points="235.3,7.1 200.1,12.2 194.3,17.4 214.4,24.6 267.2,29.9 287.3,35.9 207.9,42.9 216.8,47.6 191.7,55.0 213.5,60.0 171.3,65.4 158.2,71.8 164.7,80.2 155.6,86.2 156.5,91.9 153.4,98.4 172.9,102.9 190.7,110.8 178.3,116.8 168.2,123.0 230.3,130.9 193.0,137.6 173.2,145.6 192.4,151.1 186.8,158.2 194.4,165.0 185.1,170.5 179.9,178.0 159.9,184.7 210.9,192.9 219.0,199.0 183.8,203.5 198.5,211.4 191.2,216.9 187.4,223.5 169.4,229.5 183.5,234.6 190.0,239.6 170.5,247.8 173.2,252.5 162.0,260.7 150.5,267.2 147.8,275.1 143.1,283.4 139.1,288.8 143.9,295.2 142.9,300.1 148.6,307.4 160.5,313.2 150.0,319.2 156.6,327.5 151.3,335.4 137.8,342.7 145.1,350.2 159.0,354.9 163.4,360.8 166.7,365.8 141.8,373.4 138.1,379.2 140.7,387.0 136.7,393.5 140.3,401.3 143.9,408.0 153.5,416.1 151.9,423.2 142.4,428.4 140.4,432.9 150.4,437.7 157.7,444.0 173.4,449.8 160.6,456.9 150.4,462.0 141.7,469.9 146.0,475.9 153.5,481.0 147.2,489.4 145.1,495.3 147.8,503.7 150.5,508.5 135.4,516.4 147.9,524.6 147.8,532.1 150.2,539.6 162.5,546.3 154.3,554.8 139.0,561.0 155.5,566.8 154.8,573.9 164.9,581.6 162.3,586.5 154.7,594.8 148.8,603.0 164.8,609.8 162.8,616.5 151.7,621.5 156.8,629.2 170.6,635.9 160.4,640.7 159.8,647.8 177.2,653.0 162.6,661.4 153.1,669.7 147.3,677.0 144.2,682.1 149.3,687.4 152.9,694.5 154.9,701.5 153.0,708.4 142.7,713.1 159.3,717.6 152.7,723.3 151.7,731.1 148.4,735.9 163.2,742.5 163.9,747.1 158.8,755.2 144.0,761.4 139.8,767.2 150.2,774.5 145.8,779.7 145.5,784.3 157.8,792.1 152.0,799.7 147.5,807.2 150.6,815.5 155.9,821.1 169.2,827.9 149.0,833.9 153.8,840.1 155.5,845.1 146.8,851.9 147.1,858.6"/><polyline points="253.1,7.1 221.2,13.1 239.3,21.5 222.6,29.0 250.9,36.9 210.2,43.8 178.9,51.1 245.6,56.0 212.9,63.7 203.4,70.0 226.9,75.6 186.5,81.7 179.7,87.6 183.8,95.1 196.9,101.9 220.9,107.9 236.1,116.0 188.8,122.1 214.2,126.9 200.0,134.4 214.5,141.2 227.4,148.4 204.9,153.4 212.0,159.1 222.5,166.4 213.9,174.1 221.2,180.4 240.0,186.8 240.5,195.2 219.7,199.9 196.0,205.5 184.2,210.7 195.6,219.1 164.4,225.0 169.0,231.8 189.4,238.1 171.7,242.9 171.6,248.9 179.8,256.2 164.9,261.7 155.8,267.8 155.5,276.3 150.4,284.3 156.2,290.9 153.7,299.2 152.5,307.5 167.4,314.4 161.9,321.5 177.2,327.3 165.8,335.2 159.6,343.3 171.1,348.0 165.5,354.3 156.9,359.8 155.7,367.9 150.4,375.8 172.5,380.7 155.9,386.5 142.5,393.6 156.6,399.2 159.2,403.9 158.8,411.6 150.4,419.5 146.9,427.3 157.7,433.7 165.4,440.8 149.7,445.8 165.9,451.7 149.2,458.6 151.7,467.0 146.3,474.3 159.2,480.5 168.5,487.8 165.0,495.9 156.5,501.3 155.2,508.8 167.8,515.6 165.7,523.9 160.4,530.4 151.6,537.5 151.5,545.7 170.7,553.3 153.0,558.4 156.3,566.0 158.8,571.7 150.8,577.3 170.0,585.1 151.1,589.7 165.4,598.0 168.1,604.1 166.5,609.9 168.8,617.0 156.1,624.7 138.2,630.4 145.1,637.1 156.2,643.2 153.7,650.0 154.9,656.0 144.4,662.6 150.6,667.6 168.8,674.1 150.4,680.0 166.6,687.4 151.1,694.8 163.8,703.1 143.0,708.0 151.0,715.6 154.3,722.5 156.6,729.1 158.6,736.5 148.4,743.6 150.0,749.5 156.7,756.6 141.3,765.0 148.5,770.4 152.8,777.7 160.9,786.0 155.6,794.5 159.7,800.9 151.4,805.5 148.7,811.1 148.9,819.0 148.8,825.0 157.6,833.0 159.9,838.4 149.9,845.1 149.7,852.0 155.7,857.3"/><polyline points="274.1,7.1 247.8,13.9 230.9,21.4 234.0,26.5 285.5,34.1 224.9,42.0 233.8,47.5 234.8,55.3 220.2,63.2 203.9,69.8 230.2,76.8 246.6,83.0 219.7,87.9 203.7,93.4 212.1,100.3 189.7,106.0 191.4,111.0 169.5,117.8 222.0,125.4 223.5,132.3 185.5,137.4 159.0,145.5 164.2,150.1 216.2,155.5 201.4,163.4 214.8,171.0 189.1,176.1 200.4,184.3 191.7,190.2 190.2,195.8 196.9,204.0 191.1,211.3 185.2,218.2 221.0,222.7 205.1,227.5 201.3,233.3 166.4,238.0 160.2,246.1 171.4,251.7 172.5,257.8 164.8,264.0 164.6,272.0 162.7,278.8 179.9,286.6 161.7,294.9 157.7,302.7 158.9,307.9 164.5,313.7 173.3,318.2 176.4,324.9 173.2,331.6 187.7,339.3 161.9,346.0 153.9,351.4 166.5,357.2 154.6,362.1 143.5,367.9 148.8,374.7 152.3,381.9 158.3,387.8 159.9,393.0 170.9,399.2 152.4,405.3 155.3,411.8 159.0,416.7 172.2,423.5 155.6,430.5 154.5,435.4 160.2,441.4 164.2,446.4 155.3,452.5 160.5,460.9 163.9,465.5 166.1,470.4 171.1,476.5 180.5,483.4 174.0,487.9 167.7,495.4 152.5,502.4 157.1,509.2 140.0,516.4 168.9,522.9 172.9,528.6 171.1,534.8 162.0,539.7 174.8,545.2 161.1,551.3 147.3,556.1 158.4,562.3 161.1,569.9 164.8,577.2 171.7,583.3 175.5,590.6 190.5,597.0 189.1,602.6 186.9,610.0 172.5,614.7 186.2,620.1 160.1,625.8 168.5,632.8 163.0,641.1 188.7,647.0 166.0,655.1 181.2,661.3 172.4,667.3 186.9,672.5 163.4,680.3 162.8,686.6 160.5,692.5 175.7,697.9 177.1,705.5 176.3,713.3 176.3,717.8 164.6,724.1 166.9,728.9 174.4,736.5 193.1,744.9 179.9,752.5 172.7,757.3 174.0,762.9 178.6,770.4 153.9,778.0 152.1,784.3 162.4,790.0 156.0,797.3 173.4,804.4 183.8,810.0 183.5,816.1 170.8,821.7 168.1,828.6 158.5,836.9 156.7,843.9 167.7,849.2 160.2,854.5"/><polyline points="263.2,7.1 258.6,14.4 277.7,20.7 251.9,29.1 262.8,34.5 234.2,39.4 213.2,45.3 237.2,51.3 297.8,59.0 221.8,65.0 220.6,71.0 246.3,77.7 203.2,82.9 203.4,89.4 244.8,94.7 216.6,100.8 229.7,108.4 264.9,114.8 302.1,123.2 256.2,128.2 229.0,133.4 203.6,141.3 219.9,149.0 217.0,155.3 243.8,160.9 245.0,167.7 286.6,176.0 235.9,183.8 183.4,191.1 213.4,198.9 212.5,203.4 243.5,209.7 223.2,215.1 202.2,219.7 178.8,225.3 189.8,231.4 188.7,237.4 191.2,245.3 188.1,250.1 177.7,255.7 180.4,260.7 173.7,266.0 163.5,271.6 156.3,280.0 141.6,285.6 152.3,293.1 154.7,300.5 178.2,305.0 171.9,311.1 179.5,316.4 183.3,323.3 172.8,331.0 167.5,337.1 162.0,342.0 155.2,350.3 163.0,357.1 158.1,362.5 162.1,367.9 157.5,374.1 167.0,381.5 169.8,389.7 172.2,397.8 172.3,404.6 178.2,409.7 169.1,415.9 172.2,422.5 196.5,429.0 185.0,436.0 198.0,442.5 179.9,450.6 177.6,456.2 166.6,462.8 146.3,470.3 166.6,478.4 163.5,486.4 157.1,492.0 178.2,498.4 170.4,503.9 182.5,511.6 175.8,517.8 176.4,522.9 178.4,527.6 165.5,532.5 162.7,537.5 171.7,544.0 174.6,551.0 175.4,557.6 181.3,565.7 168.4,572.0 182.1,579.2 181.1,585.7 175.1,593.1 162.2,601.3 186.8,608.3 182.9,616.0 185.0,622.9 174.1,628.0 162.6,633.6 184.6,640.6 166.8,648.7 166.9,656.2 172.7,663.6 177.3,669.9 177.4,675.2 168.4,683.2 170.3,688.3 176.0,694.3 158.6,702.2 162.0,710.2 147.8,717.5 157.6,725.6 155.2,731.3 167.3,736.7 156.3,742.4 165.4,749.7 143.0,755.0 152.5,759.7 158.2,764.9 169.2,773.3 178.8,780.8 165.5,789.1 152.3,797.4 157.2,802.1 155.7,810.2 164.5,817.3 162.1,822.5 164.1,828.1 173.6,835.0 168.2,841.6 162.0,850.0 163.8,854.7"/><polyline points="331.2,7.1 322.9,15.4 350.9,22.7 359.8,29.8 348.2,34.3 341.7,39.4 353.5,47.5 302.1,55.2 321.2,62.2 309.2,68.4 341.0,73.6 343.5,80.9 310.0,85.5 337.4,93.1 313.7,98.5 276.2,103.5 262.8,111.4 270.3,118.3 327.9,123.1 333.8,129.9 346.2,137.7 338.9,142.5 347.4,147.1 381.6,151.9 333.1,157.8 365.9,162.9 346.9,167.5 298.8,174.0 310.4,180.1 275.9,187.9 320.7,195.5 330.4,201.8 328.8,208.4 304.6,213.6 295.7,220.3 304.9,225.7 329.7,233.2 293.7,239.4 251.2,245.8 219.1,251.7 216.9,259.3 177.1,264.5 177.6,271.4 189.8,279.2 172.5,286.5 175.8,292.1 188.2,297.0 187.7,301.8 181.8,307.1 166.3,312.7 163.7,317.8 173.2,323.7 169.1,330.8 181.4,336.0 162.9,341.6 179.6,349.3 176.6,354.7 180.5,360.9 180.4,367.1 168.2,375.2 185.5,382.5 176.4,388.4 168.9,396.5 176.7,401.8 170.9,408.0 172.2,413.8 162.4,422.0 172.8,428.4 172.9,436.3 170.7,443.0 167.4,449.8 168.4,457.6 169.3,465.3 175.5,470.4 180.1,476.7 188.0,483.4 179.0,490.7 172.5,498.3 179.1,505.4 178.4,512.0 178.9,520.2 179.3,525.6 178.8,532.7 197.4,537.9 214.0,543.2 205.0,550.9 187.8,557.5 165.3,564.1 179.9,569.2 171.7,576.4 179.2,582.0 182.7,587.6 189.3,593.0 183.4,598.2 180.2,606.4 174.5,614.6 180.2,620.7 181.6,625.7 173.5,633.4 178.7,641.8 162.9,648.2 174.8,654.9 177.5,662.3 174.2,668.3 164.3,674.8 173.5,680.8 172.9,688.9 175.8,694.2 180.3,701.8 174.1,707.2 182.6,713.4 172.5,720.7 177.9,726.3 178.6,733.1 197.7,737.7 199.7,744.4 193.1,749.1 199.7,756.3 191.9,764.6 185.2,770.2 198.9,777.7 182.9,785.3 176.5,792.5 174.0,799.1 173.8,806.9 175.7,813.5 176.7,821.0 184.3,826.3 169.1,833.9 161.6,842.0 170.7,847.6 154.1,854.5"/><polyline points="262.4,7.1 209.9,12.6 221.2,21.0 195.1,26.1 194.4,32.5 187.2,37.7 210.5,43.4 162.0,50.6 160.6,58.2 173.7,66.7 172.3,71.3 194.6,76.3 181.4,83.4 203.2,88.3 229.8,93.5 162.6,98.8 164.1,106.7 177.2,111.6 184.0,116.9 188.0,124.8 181.4,132.3 179.4,136.8 172.0,144.8 181.7,150.9 159.6,159.4 187.3,166.3 159.8,173.0 171.3,178.1 204.9,185.9 196.7,190.9 168.6,198.7 182.0,206.5 184.4,212.8 189.8,220.6 187.8,227.3 171.1,232.2 186.0,240.2 193.0,246.7 186.3,252.8 167.0,260.3 171.5,265.0 163.7,272.7 167.6,279.1 145.0,285.0 153.9,293.3 153.9,300.2 151.9,306.2 163.4,312.4 157.3,317.9 153.8,324.0 159.7,331.3 148.4,339.4 139.6,345.2 157.4,351.6 154.6,358.0 163.4,366.0 158.2,372.4 159.6,377.8 138.8,383.6 144.9,390.9 151.2,395.4 141.9,400.6 147.5,408.1 151.9,414.9 148.9,420.0 168.0,426.7 160.1,431.7 142.1,438.5 139.1,446.6 150.2,453.2 140.7,459.4 156.0,467.5 152.9,474.4 144.7,479.1 143.8,484.2 143.1,490.8 153.7,495.5 149.0,500.0 143.0,507.5 137.4,512.9 136.3,521.4 149.9,527.7 148.3,533.7 157.8,538.4 166.7,544.0 157.8,552.1 163.3,558.8 163.6,564.2 150.2,570.5 152.1,578.8 144.9,585.1 144.1,590.6 158.5,596.4 158.3,601.2 160.4,609.3 154.8,617.5 137.6,623.6 149.2,629.9 147.6,637.7 134.2,645.4 140.5,651.0 143.1,658.0 134.0,663.5 143.6,671.5 141.7,676.5 162.7,684.1 152.8,688.6 159.2,695.5 137.6,701.7 141.0,709.8 138.4,716.6 141.5,723.5 141.2,731.5 147.1,736.7 148.2,742.9 158.8,749.1 159.3,756.7 144.2,764.2 144.8,772.2 141.9,780.3 148.8,788.4 135.0,795.7 144.4,802.7 145.1,808.1 144.8,814.6 132.8,820.2 134.7,826.3 146.0,832.8 144.3,838.7 148.5,846.3 139.8,851.9 142.6,857.5"/><polyline points="294.8,7.1 258.5,12.1 255.3,17.3 310.4,21.9 291.8,27.3 260.3,34.5 242.8,39.8 235.7,46.5 228.8,53.8 230.3,58.8 206.7,66.8 201.7,73.0 216.2,81.0 303.4,86.5 219.6,94.8 239.0,100.0 270.0,108.5 262.4,115.7 286.3,123.4 297.2,131.7 279.0,139.9 202.5,145.7 285.7,150.5 231.8,158.2 206.7,164.4 185.0,169.2 194.9,175.8 216.9,182.0 210.5,189.0 216.8,197.2 210.8,205.7 206.8,213.1 197.9,218.5 202.0,223.7 196.7,231.7 182.1,239.3 205.7,243.8 186.9,252.1 172.0,256.8 169.7,263.5 176.8,271.9 174.4,279.1 164.5,285.0 159.8,291.2 149.6,299.0 151.0,307.2 161.6,312.4 155.0,318.6 165.6,325.3 158.2,332.9 153.9,339.4 165.6,346.9 163.1,352.4 162.0,359.8 162.0,365.7 168.1,373.7 173.7,380.4 165.1,387.7 161.0,395.9 170.5,402.8 164.2,410.2 173.1,415.3 175.5,423.4 168.4,431.7 173.4,437.7 175.3,443.1 171.4,451.1 187.7,457.4 162.7,464.1 152.6,469.7 161.1,476.2 172.8,484.5 172.0,491.2 173.5,498.5 168.4,504.9 165.4,511.7 171.6,519.6 169.1,525.1 160.5,531.2 163.2,537.1 165.6,544.1 179.7,549.7 183.5,558.0 173.9,564.3 162.9,572.5 164.6,578.9 189.4,585.2 177.5,591.4 176.8,596.3 163.4,602.2 165.2,609.2 154.9,616.8 178.8,623.7 181.7,629.5 177.3,636.2 166.1,642.1 168.8,646.7 175.3,652.0 160.3,656.7 176.3,664.1 175.8,671.0 203.3,675.7 214.5,682.6 206.7,689.9 152.5,697.3 161.3,701.9 147.4,709.3 156.6,717.5 163.6,724.9 176.0,731.4 187.8,737.8 181.3,742.5 175.6,750.4 168.0,758.0 153.3,763.3 155.2,768.7 172.0,774.8 184.0,782.9 166.8,789.7 172.7,795.1 153.7,802.1 183.7,809.1 183.7,814.9 175.5,822.7 161.3,829.5 155.6,834.9 166.8,843.0 161.4,848.9 166.5,856.9"/><polyline points="318.0,218.0 345.0,224.0 372.4,229.7 330.3,236.0 324.0,250.7 288.3,259.1 256.7,265.4 230.0,272.0"/><polyline points="195.0,682.0 215.0,686.0 230.0,690.0 210.0,696.0 195.0,700.0"/><polyline points="195.0,798.0 215.0,802.0 228.0,806.0 210.0,812.0 195.0,816.0"/><polyline points="195.0,826.0 210.0,829.0 217.0,832.0 205.0,836.0 195.0,840.0"/></g>
<polyline points="319.8,9.2 305.1,14.5 263.0,18.7 256.7,19.7 265.1,26.0 260.0,29.0 248.3,31.9 204.1,36.6 212.6,41.8 246.2,43.9 305.1,47.1 321.9,49.2 364.0,56.5 364.0,66.0 367.2,73.4 356.6,83.9 380.8,94.4 359.8,98.6 321.9,101.8 284.1,103.9 263.0,109.1 258.0,118.0 263.0,126.0 273.6,131.2 244.1,141.3 282.0,145.5 286.2,151.8 297.7,162.3 275.7,167.6 234.6,170.8 223.1,171.8 196.8,178.1 210.4,183.4 217.8,188.6 191.5,192.8 177.8,208.6 186.3,219.1 176.8,224.4 175.7,233.9 176.8,245.4 199.9,250.7 201.0,257.0 187.3,266.5 201.0,269.2 202.0,275.5 202.0,287.1 174.7,291.3 169.4,297.6 175.7,300.8 173.6,307.1 176.8,315.5 181.0,319.7 174.7,325.0 155.8,330.2 158.9,333.4 181.0,339.7 187.3,356.5 181.0,370.2 174.7,382.8 175.0,395.0 183.1,405.5 185.2,415.0 174.7,420.2 164.2,425.5 170.5,437.1 170.5,450.7 152.6,457.1 181.0,467.6 182.1,474.9 178.9,483.3 162.1,487.6 175.7,498.1 174.7,505.4 147.3,509.6 151.6,514.9 145.2,521.2 172.6,529.6 174.7,535.0 170.5,543.9 174.7,552.3 163.1,563.9 172.6,570.2 181.0,586.0 168.4,595.5 154.7,607.0 162.1,613.3 175.7,631.2 168.4,641.7 174.2,645.0 152.2,650.3 164.7,655.4 160.3,666.4 161.0,673.7 155.9,681.1 164.7,688.4 153.7,700.1 163.9,707.4 165.4,726.5 159.5,739.7 155.1,751.4 155.1,761.7 163.9,769.0 160.3,774.9 163.9,779.3 161.0,793.6 183.1,805.2 168.4,812.6 165.2,823.1 167.3,841.0 167.3,852.0" fill="none" stroke="#ff00ff" stroke-width="3" stroke-linejoin="round"/>
<polyline points="241.0,9.2 213.6,15.5 218.9,19.7 237.8,25.0 248.3,27.5 248.3,32.3 208.3,36.6 207.3,40.8 203.1,43.9 185.2,48.1 176.8,52.3 170.5,59.7 164.2,69.2 171.5,72.3 176.8,75.5 173.6,79.7 178.9,86.0 187.3,90.2 188.4,94.4 180.0,102.8 208.3,108.1 214.7,114.0 246.2,118.6 305.1,122.8 330.3,123.8 372.4,127.0 380.8,131.2 379.8,135.0 376.6,139.2 364.0,145.5 321.9,152.9 305.1,157.1 256.7,161.3 271.5,165.5 288.3,171.8 305.1,173.9 319.8,173.9 340.9,177.1 343.0,182.3 328.2,186.5 319.8,191.8 305.1,193.9 279.9,198.1 263.0,208.6 275.7,213.9 303.0,218.1 300.9,224.4 235.7,229.7 204.1,232.8 156.8,236.0 169.4,248.6 151.6,259.1 183.1,269.6 182.1,270.3 160.0,286.0 172.6,292.3 175.7,297.6 170.5,301.8 160.0,309.2 165.2,315.5 164.2,320.7 149.4,327.0 155.8,330.2 158.9,336.5 164.2,343.9 167.3,351.2 181.0,361.8 176.8,368.1 163.1,378.6 168.4,391.2 170.5,395.0 172.0,410.0 162.1,422.3 176.8,433.9 169.4,441.3 164.2,450.7 156.8,461.3 170.5,472.8 153.7,483.3 162.1,489.7 161.0,504.4 153.7,511.7 171.5,522.3 164.2,533.8 154.7,546.0 163.1,553.4 171.5,563.9 162.1,573.4 131.6,579.7 130.5,586.0 162.1,594.4 164.2,600.7 158.9,608.1 160.0,620.7 155.8,632.3 167.3,639.6 178.9,647.0 171.5,652.3 156.8,657.5 165.2,662.4 165.2,682.3 153.7,697.1 164.2,705.5 162.1,710.7 157.9,716.0 154.7,737.0 146.3,742.3 164.2,747.6 164.2,756.0 151.6,762.3 141.0,769.4 166.3,773.7 183.1,778.9 185.2,783.1 182.1,789.4 166.3,798.9 166.3,809.4 157.9,824.1 154.7,836.8 164.2,850.4 166.0,853.0" fill="none" stroke="#ff0000" stroke-width="3" stroke-linejoin="round"/>
<rect x="249.30" y="20.61" width="11.30" height="105.14" fill="#b3b3b3" stroke="#000" stroke-width="2.5"/>
<line x1="254.60" y1="21.61" x2="254.60" y2="124.75" stroke="#000" stroke-width="2.7"/>
<rect x="307.30" y="20.61" width="14.40" height="105.14" fill="#ff9999" stroke="#000" stroke-width="2.5"/>
<line x1="315.50" y1="21.61" x2="315.50" y2="124.75" stroke="#ff0000" stroke-width="3"/>
<rect x="225.30" y="125.75" width="8.10" height="105.14" fill="#b3b3b3" stroke="#000" stroke-width="2.5"/>
<line x1="229.30" y1="126.75" x2="229.30" y2="229.89" stroke="#000" stroke-width="2.7"/>
<rect x="306.30" y="125.75" width="12.50" height="105.14" fill="#ff9999" stroke="#000" stroke-width="2.5"/>
<line x1="313.10" y1="126.75" x2="313.10" y2="229.89" stroke="#ff0000" stroke-width="3"/>
<rect x="204.20" y="230.89" width="3.10" height="105.14" fill="#b3b3b3" stroke="#000" stroke-width="2.5"/>
<line x1="205.50" y1="231.89" x2="205.50" y2="335.03" stroke="#000" stroke-width="2.7"/>
<rect x="204.90" y="230.89" width="50.80" height="105.14" fill="#ff9999" stroke="#000" stroke-width="2.5"/>
<line x1="239.40" y1="231.89" x2="239.40" y2="335.03" stroke="#ff0000" stroke-width="3"/>
<rect x="196.90" y="336.03" width="10.20" height="105.14" fill="#b3b3b3" stroke="#000" stroke-width="2.5"/>
<line x1="202.00" y1="337.03" x2="202.00" y2="440.16" stroke="#000" stroke-width="2.7"/>
<rect x="171.70" y="336.03" width="2.80" height="105.14" fill="#ff9999" stroke="#000" stroke-width="2.5"/>
<line x1="173.10" y1="337.03" x2="173.10" y2="440.16" stroke="#ff0000" stroke-width="3"/>
<rect x="183.70" y="441.16" width="6.00" height="105.14" fill="#b3b3b3" stroke="#000" stroke-width="2.5"/>
<line x1="186.70" y1="442.16" x2="186.70" y2="545.30" stroke="#000" stroke-width="2.7"/>
<rect x="167.10" y="441.16" width="2.20" height="105.14" fill="#ff9999" stroke="#000" stroke-width="2.5"/>
<line x1="168.20" y1="442.16" x2="168.20" y2="545.30" stroke="#ff0000" stroke-width="3"/>
<rect x="183.90" y="546.30" width="8.90" height="105.14" fill="#b3b3b3" stroke="#000" stroke-width="2.5"/>
<line x1="188.40" y1="547.30" x2="188.40" y2="650.44" stroke="#000" stroke-width="2.7"/>
<rect x="166.00" y="546.30" width="2.20" height="105.14" fill="#ff9999" stroke="#000" stroke-width="2.5"/>
<line x1="167.10" y1="547.30" x2="167.10" y2="650.44" stroke="#ff0000" stroke-width="3"/>
<rect x="171.00" y="651.44" width="4.20" height="105.14" fill="#000" stroke="#000" stroke-width="2.5"/>
<line x1="173.30" y1="652.44" x2="173.30" y2="755.58" stroke="#000" stroke-width="2.7"/>
<rect x="166.60" y="651.44" width="2.70" height="105.14" fill="#ff9999" stroke="#000" stroke-width="2.5"/>
<line x1="168.20" y1="652.44" x2="168.20" y2="755.58" stroke="#ff0000" stroke-width="3"/>
<rect x="173.20" y="756.58" width="7.10" height="105.14" fill="#000" stroke="#000" stroke-width="2.5"/>
<line x1="176.80" y1="757.58" x2="176.80" y2="860.71" stroke="#000" stroke-width="2.7"/>
<rect x="168.50" y="756.58" width="2.80" height="105.14" fill="#ff9999" stroke="#000" stroke-width="2.5"/>
<line x1="170.00" y1="757.58" x2="170.00" y2="860.71" stroke="#ff0000" stroke-width="3"/>
</g>
<g clip-path="url(#cpb)">
<g fill="none" stroke="#ffc8c8" stroke-width="1.15" stroke-linejoin="round"><polyline points="548.6,7.1 571.4,15.1 555.2,21.0 560.5,27.4 559.7,34.6 516.7,42.4 570.5,47.2 571.3,55.4 481.1,62.0 504.4,68.3 475.2,73.8 492.4,79.2 475.2,84.8 512.2,93.0 523.6,101.1 537.3,109.4 550.7,116.8 532.9,124.9 494.6,131.9 357.9,137.2 383.1,142.3 434.3,147.5 475.3,155.7 441.8,160.7 423.6,167.2 409.3,172.1 448.6,180.1 520.6,188.0 509.3,195.7 505.4,201.1 539.8,209.2 498.6,217.3 507.2,224.1 464.8,231.0 353.4,238.0 408.4,246.4 519.7,254.5 512.8,261.2 484.5,268.2 503.9,273.5 511.7,280.3 530.7,286.1 502.1,294.1 518.9,300.8 501.4,306.1 529.8,312.1 524.5,320.3 494.7,328.4 489.5,333.9 500.0,339.9 483.3,347.9 473.5,356.0 490.2,362.2 463.7,370.5 499.6,376.8 425.2,385.0 395.8,389.7 439.8,394.6 503.5,401.6 497.3,409.0 477.5,414.7 473.5,419.7 457.0,428.0 468.4,433.7 475.1,438.6 494.3,445.5 481.0,452.9 497.4,460.9 501.1,468.2 513.8,475.9 495.8,481.5 485.2,488.4 464.4,496.8 446.0,505.3 474.4,511.9 485.7,519.4 485.6,525.8 481.1,533.6 486.6,539.7 487.8,547.7 471.5,555.0 476.6,559.5 464.6,564.8 479.2,569.8 480.2,574.7 490.5,580.4 481.6,587.6 466.6,594.7 476.3,602.9 489.4,609.3 496.4,614.6 478.5,622.3 453.1,630.5 437.8,637.0 454.9,643.9 461.7,652.2 419.9,659.1 458.1,663.9 447.0,672.2 448.0,679.9 419.6,687.5 456.2,694.5 465.4,699.6 456.1,704.2 431.7,709.8 473.8,715.3 462.3,723.4 447.4,728.8 483.9,736.9 497.2,742.9 456.2,748.9 465.9,755.3 455.4,761.0 477.7,766.7 449.7,772.0 439.9,779.3 446.8,784.3 469.9,791.2 465.6,796.6 475.2,802.0 469.8,808.7 439.7,813.3 444.2,819.5 460.0,826.5 468.0,834.7 477.7,840.8 482.3,845.4 478.1,853.7"/><polyline points="505.8,7.1 504.8,11.8 540.2,16.5 531.2,22.3 566.5,27.4 555.8,32.6 574.8,38.0 603.3,45.4 547.3,52.3 552.3,58.7 568.1,64.9 541.0,71.5 559.2,79.1 565.7,87.2 589.0,92.0 545.5,98.4 568.0,105.8 547.3,113.2 538.6,118.6 586.2,124.7 577.8,132.4 537.1,137.4 523.6,142.6 544.9,149.5 534.2,157.1 544.3,163.9 528.8,171.7 557.3,177.0 551.2,183.7 530.3,190.4 574.8,198.5 538.0,205.8 518.8,211.2 551.4,216.9 529.5,225.2 512.4,233.3 459.0,241.8 443.8,250.0 452.0,254.6 515.3,260.9 512.0,266.2 528.4,273.0 529.1,278.7 522.6,286.7 527.5,294.0 547.5,300.4 505.2,308.8 521.3,316.7 519.3,325.2 532.0,329.7 498.4,336.3 525.8,340.9 522.0,347.0 516.6,352.0 562.5,360.5 551.5,366.2 525.1,374.6 528.4,381.2 518.9,386.2 485.1,391.6 472.9,399.6 513.9,407.9 516.3,415.6 520.1,420.6 491.3,428.4 514.0,435.2 486.9,442.5 484.1,448.8 480.0,455.4 492.4,460.4 507.3,465.8 495.3,473.8 473.4,480.4 483.2,487.1 466.3,494.9 472.1,499.7 487.3,507.7 480.1,516.0 502.4,520.7 512.7,526.0 510.4,534.1 482.7,542.0 473.2,548.0 469.3,556.0 484.6,564.3 493.0,570.9 503.3,578.7 496.6,587.0 467.0,591.7 460.3,599.2 483.0,605.5 469.5,611.4 477.1,616.4 477.5,623.2 466.1,628.9 490.4,635.7 473.3,642.8 425.9,648.0 332.3,652.9 286.8,660.2 363.8,667.5 460.0,673.6 464.8,679.0 437.3,684.5 458.7,689.9 466.6,695.7 472.8,703.9 496.9,709.3 466.5,715.2 482.5,723.2 487.9,729.6 417.8,734.1 403.7,741.2 490.9,745.7 453.7,754.1 433.6,762.5 459.8,770.9 441.3,779.4 444.7,784.8 421.1,791.1 436.7,798.3 451.2,806.3 467.5,812.2 471.3,820.1 460.6,827.5 453.0,832.1 454.7,836.8 448.5,842.5 454.2,849.9 447.9,856.1"/><polyline points="574.5,7.1 603.8,12.3 614.2,20.4 594.0,27.0 585.8,34.6 595.7,43.0 566.9,49.1 593.0,54.0 597.1,60.2 607.7,65.5 587.2,71.9 568.4,79.7 590.1,87.9 637.5,96.3 618.4,101.8 625.8,110.2 608.9,114.7 610.7,120.3 611.0,128.1 555.9,132.8 546.0,138.7 510.7,147.0 549.7,154.9 564.1,160.8 566.2,167.4 626.4,172.3 618.9,176.8 583.6,185.2 561.8,191.5 584.0,199.0 576.6,204.9 525.4,209.7 557.9,218.1 564.9,224.1 573.0,229.1 585.1,236.0 575.4,242.2 550.1,247.2 572.0,255.0 551.2,260.5 587.4,266.4 573.5,274.0 574.6,281.7 552.6,288.9 553.0,295.0 542.5,301.3 575.4,309.6 524.9,315.7 514.2,321.8 466.4,326.3 396.6,332.3 385.9,338.8 457.2,347.2 523.3,353.7 547.5,361.0 531.2,367.3 535.6,375.1 558.7,381.8 555.9,386.8 537.3,393.4 525.6,401.0 526.9,407.5 514.6,415.0 521.7,419.6 515.1,425.3 512.7,430.4 527.1,438.1 534.5,444.2 489.5,450.8 491.5,458.5 527.2,466.7 504.3,473.2 524.2,479.6 524.1,485.7 521.1,491.2 497.8,496.7 512.2,504.3 512.8,509.9 498.8,517.0 518.0,522.3 520.4,530.2 504.9,534.8 513.1,541.3 527.7,546.9 528.9,553.3 526.3,561.8 541.3,569.0 510.8,573.8 507.0,581.2 528.0,589.0 532.6,595.0 484.6,600.2 493.9,608.5 505.2,615.4 547.0,623.4 550.0,630.4 540.1,635.5 511.2,641.5 502.5,647.4 510.1,652.4 541.4,657.4 545.0,662.3 488.0,670.6 457.2,678.5 451.7,683.4 531.6,691.0 521.2,696.4 511.0,701.8 517.4,709.2 526.8,714.9 524.3,721.8 540.2,729.1 547.4,737.6 547.2,745.8 547.1,752.9 547.0,758.6 538.7,764.1 506.8,772.0 539.2,777.5 536.6,783.3 546.3,791.2 546.2,798.8 541.9,805.6 521.5,813.5 522.9,819.7 522.2,827.5 545.5,834.2 545.3,841.8 522.4,850.3 537.6,855.9"/><polyline points="562.9,7.1 556.2,14.7 567.9,22.0 588.4,27.3 533.5,32.8 575.9,38.3 554.4,43.6 562.7,50.5 547.1,59.0 529.8,67.2 569.5,73.9 395.1,82.2 359.5,90.6 561.8,97.4 541.4,103.1 559.4,110.6 548.1,118.3 592.9,126.1 657.8,133.8 654.5,139.8 574.9,145.9 559.9,151.1 555.5,156.7 533.9,161.3 501.6,168.2 508.8,174.3 558.6,181.4 530.2,187.6 524.6,193.8 508.4,198.6 471.3,203.4 451.5,211.8 517.7,219.5 515.3,226.9 505.1,232.0 501.2,237.4 505.8,241.9 531.4,248.1 500.3,255.7 551.3,261.2 514.4,267.4 498.5,272.2 514.0,279.0 540.1,287.1 526.7,292.6 542.4,297.5 506.0,303.0 504.3,310.4 501.3,315.8 500.6,324.0 496.6,330.1 540.9,338.4 556.2,343.5 541.8,350.0 504.2,357.9 491.3,364.2 493.0,371.0 510.0,376.5 512.2,382.1 516.1,390.3 495.0,396.8 519.7,401.8 514.4,407.3 505.1,413.3 500.9,421.2 498.2,426.8 504.0,433.9 493.5,441.2 506.2,447.9 520.5,452.5 489.0,459.4 520.1,467.2 506.7,471.8 463.4,479.9 477.3,484.7 519.4,489.5 516.8,495.8 503.2,500.7 514.6,505.9 514.4,512.4 490.7,517.6 498.3,525.9 510.0,530.6 512.7,538.8 504.3,547.0 481.1,552.2 454.6,560.3 464.1,567.2 455.2,574.7 466.5,582.3 482.1,589.6 445.5,596.0 474.3,603.3 468.9,608.7 433.3,615.9 457.6,621.0 407.4,627.1 374.6,634.2 352.5,640.9 442.9,647.6 451.8,654.1 431.8,659.0 429.4,666.2 478.3,673.4 450.0,679.9 418.5,687.6 445.0,695.6 462.3,703.4 440.2,708.1 433.4,713.9 472.4,721.5 464.5,728.5 458.7,735.7 449.8,743.9 444.7,751.2 449.2,758.0 462.0,766.2 443.8,771.9 476.2,778.4 470.0,784.2 448.1,792.3 441.4,799.5 457.8,807.3 460.5,814.1 446.0,820.4 448.4,826.4 449.6,832.1 486.3,839.0 468.9,845.3 456.1,852.2"/><polyline points="547.6,7.1 510.1,12.3 504.0,18.0 548.0,25.3 570.2,32.6 546.5,38.4 546.7,44.2 568.7,52.4 593.7,59.8 585.8,64.5 558.5,69.8 508.5,75.6 550.4,83.3 567.7,91.4 566.5,97.7 549.1,105.5 512.0,110.4 506.1,115.2 521.7,120.7 497.9,128.8 475.2,135.3 394.7,141.2 310.5,146.7 287.5,152.2 393.4,157.0 513.4,164.7 546.8,170.9 545.2,176.3 537.4,181.5 527.1,189.5 518.5,196.6 543.7,202.2 499.3,206.7 527.7,213.9 546.4,219.0 519.9,226.1 496.6,232.6 483.6,240.2 528.6,246.8 501.8,252.8 526.0,261.2 515.1,265.9 519.7,273.0 511.4,278.9 505.6,285.2 524.0,292.3 572.5,299.0 574.4,307.2 524.3,313.4 539.8,318.9 530.4,325.3 514.7,331.0 502.8,336.0 506.3,341.3 492.3,347.7 439.1,354.5 359.2,362.3 393.5,368.3 520.1,376.6 530.5,384.4 510.5,391.7 494.3,398.5 516.1,404.4 497.5,409.1 505.7,415.6 496.6,422.9 477.5,430.2 511.8,436.8 507.2,445.2 525.2,451.3 485.3,458.1 475.4,464.3 501.7,470.7 505.7,476.9 471.4,482.6 463.3,490.5 455.6,497.2 460.8,505.4 457.0,512.0 474.0,518.6 489.2,526.7 460.8,532.0 456.4,537.6 465.4,542.4 490.4,547.2 490.1,555.6 473.4,560.8 470.0,567.7 483.0,574.7 496.6,582.8 487.2,590.7 484.4,598.2 465.6,605.3 494.6,611.4 473.3,617.9 486.7,622.9 452.9,629.8 389.0,634.6 326.6,642.8 344.6,648.7 458.9,653.8 494.0,660.2 464.2,665.4 486.9,673.3 497.3,679.0 460.4,686.1 472.3,694.6 474.2,701.1 447.7,706.6 443.5,712.0 459.3,717.0 465.5,722.4 479.7,727.2 501.2,733.5 457.9,738.5 445.0,746.1 468.6,751.3 486.9,757.8 508.0,764.3 511.2,772.4 470.7,779.7 481.5,788.1 469.7,796.3 499.8,802.1 499.5,809.9 467.6,817.8 456.5,824.1 462.2,832.5 477.1,838.4 472.6,846.8 491.8,852.6 494.8,858.4"/><polyline points="528.3,7.1 529.9,13.1 492.0,20.4 485.0,26.6 484.2,32.4 550.2,39.7 526.5,44.9 547.6,51.4 524.6,59.7 519.1,67.4 511.0,72.7 475.2,81.0 527.4,87.1 475.2,92.2 506.6,100.0 504.4,104.9 478.4,110.2 515.0,118.2 516.9,124.4 502.3,131.5 577.5,139.1 542.7,144.4 513.1,152.7 488.7,158.1 518.9,166.3 522.0,174.2 516.7,182.6 487.4,189.3 475.9,195.4 493.1,200.3 495.6,206.0 515.5,213.9 485.2,218.5 475.7,224.4 502.7,230.5 475.5,235.6 486.8,240.3 499.7,246.0 511.1,252.7 494.6,260.1 493.1,268.0 493.0,274.3 512.8,281.2 504.7,287.4 510.9,293.9 530.8,301.0 521.8,309.2 507.0,314.4 517.1,319.3 525.5,324.6 491.1,329.7 489.4,336.5 491.1,344.2 466.6,351.8 496.9,358.3 478.0,364.6 488.4,369.5 519.4,375.4 499.8,380.4 485.7,387.8 496.4,396.3 475.3,402.5 472.2,409.3 491.2,416.9 503.0,425.2 498.3,432.5 496.3,437.4 522.6,443.5 477.1,450.7 482.2,457.8 476.7,463.9 452.4,469.7 462.9,475.9 471.1,483.0 486.3,488.7 480.4,497.1 479.6,503.4 470.2,510.7 468.6,515.3 479.6,523.8 475.9,530.8 447.9,539.1 453.8,544.1 462.1,552.5 432.2,557.2 440.4,562.3 477.1,568.1 456.4,575.1 439.6,581.8 450.2,588.0 485.1,592.8 461.4,598.2 467.2,604.3 466.8,609.1 454.0,614.3 467.8,621.7 481.6,628.7 461.2,635.9 462.2,644.3 475.8,650.1 478.6,654.6 404.6,663.1 377.1,668.1 395.2,675.7 444.3,682.5 441.8,687.0 428.7,693.3 441.9,699.1 417.9,705.6 433.4,712.1 449.1,717.4 444.6,724.7 463.3,731.2 449.8,737.0 442.4,743.9 451.1,749.6 469.5,756.1 447.9,761.3 446.4,768.9 463.3,777.3 459.9,783.7 428.6,789.1 458.2,793.6 449.0,800.6 446.9,808.1 464.6,814.3 418.5,819.6 433.5,827.4 445.6,835.7 417.1,840.2 424.7,844.7 424.2,849.6 437.0,854.6"/><polyline points="661.7,7.1 643.4,11.8 633.2,17.5 670.3,24.8 645.1,32.8 625.9,39.2 669.3,43.8 661.3,50.2 660.3,58.6 618.8,67.0 558.1,75.2 608.0,82.4 623.5,90.2 570.2,95.2 595.0,103.2 627.2,111.0 628.4,118.5 618.0,126.4 649.1,133.8 606.8,141.4 620.8,147.9 636.8,153.2 617.5,158.4 662.6,164.1 603.6,172.4 617.3,178.6 628.1,186.8 593.6,195.3 601.3,202.0 604.5,208.3 576.1,215.3 474.3,222.5 405.1,230.1 465.2,234.9 581.2,241.0 558.8,247.5 574.9,254.4 565.9,260.1 572.2,268.2 568.7,273.6 593.6,282.0 565.3,289.0 557.2,296.6 600.2,302.6 596.4,309.8 578.2,315.2 528.8,321.8 540.0,328.6 575.9,337.1 541.0,344.9 545.6,352.8 537.2,360.3 573.2,367.5 566.7,373.2 541.8,380.6 549.0,387.9 567.6,393.1 569.7,399.5 561.0,404.8 556.5,413.0 539.2,421.4 565.2,426.0 544.7,431.0 528.2,436.2 520.5,442.3 527.6,450.2 516.0,457.3 541.2,462.9 528.7,469.4 520.1,477.8 537.5,483.6 546.7,491.8 523.2,497.6 515.4,502.3 516.1,507.0 474.6,513.9 504.0,519.3 500.9,526.5 522.4,531.5 502.8,538.6 506.2,547.0 518.6,555.2 505.6,559.8 498.1,564.5 457.6,572.9 511.4,580.7 497.4,588.6 513.7,595.3 517.6,603.5 521.5,609.9 530.7,614.8 506.5,620.1 502.3,624.9 501.9,630.8 524.7,638.6 517.9,645.7 501.0,653.5 523.7,661.6 498.6,668.2 521.0,675.6 505.4,682.7 485.8,690.0 484.9,697.7 493.7,703.1 493.4,708.7 505.2,713.2 508.0,721.3 487.0,726.5 437.0,731.2 368.8,736.5 385.4,742.8 483.4,748.5 506.7,754.7 508.7,762.8 499.0,767.5 497.3,773.1 482.6,778.9 504.9,783.5 493.8,790.4 490.1,796.5 478.4,804.6 510.3,810.7 488.8,816.9 514.7,822.7 507.9,829.4 508.1,835.8 529.6,843.9 511.8,849.2 496.8,854.6"/><polyline points="610.3,7.1 654.7,14.6 642.4,19.6 603.6,26.6 604.7,32.7 628.2,40.2 600.9,47.6 598.6,55.2 562.3,61.6 581.4,69.6 564.7,75.9 640.7,82.0 620.2,87.9 591.0,95.9 585.0,101.7 569.6,107.4 626.6,112.4 671.3,118.9 617.1,126.6 621.8,134.9 584.1,141.7 609.1,149.0 590.3,157.2 600.2,165.7 628.4,171.4 686.5,179.0 713.0,186.4 607.2,191.0 608.4,198.5 582.5,205.7 548.8,211.6 539.6,218.9 588.2,223.6 586.6,231.6 584.2,238.7 572.2,245.9 531.3,253.3 576.2,261.1 544.9,267.0 543.4,273.2 561.0,277.8 571.4,284.9 583.9,293.4 550.1,300.4 552.4,306.2 576.5,313.6 574.5,321.3 572.7,325.9 574.3,334.3 609.7,341.7 593.2,346.9 552.8,354.9 556.5,361.4 573.0,368.9 554.0,375.6 545.6,380.2 543.4,388.1 552.9,395.2 542.7,401.2 543.7,408.6 565.8,415.8 529.3,424.2 519.1,429.4 507.7,436.1 502.5,441.4 526.5,447.5 499.9,452.3 528.0,457.7 526.0,466.0 529.0,473.4 535.7,479.9 521.2,485.8 521.3,492.2 524.0,497.7 521.3,503.7 520.8,508.5 523.0,514.2 533.0,521.9 502.6,527.4 510.9,535.4 509.2,541.3 527.0,548.3 533.9,555.5 517.9,562.1 518.1,569.7 489.2,577.0 501.6,584.4 519.7,590.1 538.4,595.0 538.5,600.0 512.5,606.7 518.3,614.4 536.1,619.7 541.1,625.2 536.2,633.5 507.1,640.0 501.3,647.9 512.8,653.8 490.2,662.3 471.5,667.9 497.1,673.7 507.0,680.5 505.8,687.4 506.3,692.1 494.9,698.6 497.6,705.2 519.9,713.4 529.2,720.7 499.9,728.4 514.4,735.0 478.5,739.5 459.8,746.8 507.6,752.4 510.1,757.7 515.7,765.0 507.3,771.5 527.5,776.2 521.6,784.6 511.8,790.7 515.9,796.1 493.3,803.5 478.4,808.7 509.2,816.3 514.8,821.3 500.6,828.2 485.2,835.1 518.0,841.4 512.8,847.9 512.4,852.6"/><polyline points="616.7,7.1 593.9,13.8 580.1,20.5 623.8,25.8 630.0,33.2 601.4,39.9 629.3,44.4 633.8,51.4 658.8,56.7 598.0,61.8 610.6,68.0 632.5,74.7 615.9,81.3 630.0,86.5 620.3,92.5 609.2,100.0 590.2,105.6 579.8,113.2 589.6,118.4 613.0,126.4 598.3,131.8 648.2,138.9 632.6,144.6 611.9,152.9 645.0,158.2 616.1,166.4 566.4,174.8 564.3,181.0 605.5,189.3 560.3,195.1 512.6,203.5 406.0,208.7 453.4,214.0 559.4,222.2 555.2,229.4 560.8,234.7 559.6,241.3 550.9,249.4 555.8,256.1 534.3,263.1 558.2,270.0 554.0,276.3 600.4,283.3 601.6,289.1 607.0,295.4 589.8,302.5 582.8,310.9 576.6,315.4 582.9,321.7 590.0,327.9 584.1,334.9 537.2,342.9 560.9,349.9 587.6,356.1 588.2,363.8 504.2,369.1 458.5,374.7 591.6,380.8 564.9,388.8 528.5,395.9 557.3,401.2 551.3,406.6 535.5,415.0 539.8,422.0 544.9,427.2 543.5,435.2 572.2,440.8 539.5,445.5 563.1,453.5 565.6,459.1 529.2,463.7 530.3,469.2 537.6,476.6 534.3,483.1 528.3,491.5 520.5,497.9 503.6,504.0 519.2,508.8 519.6,513.7 544.7,519.7 531.0,527.7 556.7,533.0 556.2,538.9 528.4,547.0 526.4,552.4 541.5,560.2 543.5,567.1 553.2,573.1 525.7,579.1 516.5,584.3 504.7,589.4 538.7,596.5 538.3,603.1 531.7,611.5 514.2,617.0 497.5,623.3 519.6,631.2 514.9,636.7 532.4,641.4 546.4,648.4 542.6,655.7 525.6,663.0 506.0,669.8 497.1,677.0 492.6,684.0 468.9,692.2 489.1,699.1 507.6,704.1 497.9,708.8 534.0,713.8 547.7,720.2 519.2,728.7 538.4,735.6 536.6,741.6 534.9,746.9 516.3,754.1 509.5,762.5 495.6,767.6 530.0,773.6 522.1,780.9 527.2,785.5 488.8,792.7 482.4,799.7 493.9,804.6 480.1,812.0 501.9,819.9 487.9,825.7 505.1,832.8 484.9,839.1 496.3,846.2 511.2,851.0 510.1,857.8"/><polyline points="546.9,7.1 529.2,11.8 556.8,18.0 534.3,24.4 553.5,32.1 584.7,38.6 538.2,46.9 538.1,54.3 562.4,61.0 557.1,67.8 523.9,73.7 585.0,81.6 553.2,88.9 560.6,96.8 468.4,101.7 363.4,107.7 387.0,114.8 533.6,119.5 523.0,125.2 522.4,131.1 529.4,138.6 523.1,145.7 518.7,152.6 524.6,158.5 527.2,166.9 535.9,174.7 527.4,181.3 514.0,188.7 530.5,195.0 567.2,202.3 558.8,210.3 516.8,216.1 561.0,222.9 522.4,228.3 489.3,233.2 504.2,238.4 520.9,243.2 504.3,249.7 513.1,254.9 534.1,261.0 543.8,266.6 518.2,273.2 539.8,281.6 563.3,289.3 564.9,297.6 536.3,302.6 541.7,311.1 532.3,316.6 554.8,324.4 573.0,330.0 545.5,337.4 521.1,342.6 523.1,349.1 525.4,354.0 532.1,361.9 497.3,366.9 499.3,375.1 506.4,380.3 520.4,385.3 500.1,393.2 477.6,400.9 524.0,409.4 520.8,417.4 513.4,423.5 492.8,428.9 493.2,435.4 487.8,441.4 485.7,449.9 493.1,456.0 503.9,461.1 504.2,469.3 480.3,476.6 518.7,481.8 536.0,489.9 538.2,496.1 522.2,501.0 502.6,509.2 504.1,514.5 494.9,520.1 495.2,526.6 491.5,534.5 493.2,539.7 495.6,545.7 461.2,552.5 481.8,560.8 486.1,565.9 492.1,571.5 469.1,578.2 490.1,584.0 484.0,591.7 457.4,596.8 465.8,601.9 459.0,606.9 423.9,613.3 452.9,618.0 470.8,625.5 444.2,630.8 456.5,636.9 457.4,644.2 473.3,650.0 468.9,657.7 467.2,662.4 441.8,670.0 468.6,677.4 463.9,684.4 456.8,692.5 440.8,697.3 442.8,703.7 438.3,709.6 441.0,714.8 428.6,721.4 450.1,728.0 479.4,734.2 478.6,741.2 445.4,746.7 479.6,754.1 474.8,759.1 459.4,764.5 468.1,771.1 467.0,777.7 462.5,782.8 481.0,790.2 491.3,795.2 496.7,803.2 494.4,809.5 481.3,817.0 477.9,825.3 502.2,830.3 481.8,838.0 478.1,845.0 454.0,851.1 483.3,858.1"/><polyline points="590.7,7.1 600.1,15.5 601.8,21.9 509.8,29.6 540.5,38.0 560.9,42.8 609.5,48.2 590.4,56.2 607.0,63.4 628.0,71.6 588.9,76.4 561.8,84.3 565.1,91.0 545.6,96.9 597.9,105.2 637.8,110.0 581.6,116.5 591.4,123.0 576.1,127.7 528.1,132.5 558.8,138.8 592.0,144.9 558.7,152.5 615.5,161.0 609.3,168.1 625.2,175.6 576.2,182.8 588.8,188.2 654.6,194.4 622.9,200.4 620.3,206.7 597.7,214.1 592.2,222.3 586.8,227.8 616.7,233.1 602.6,238.9 603.1,247.0 590.9,254.4 595.0,259.2 625.0,266.5 586.2,271.1 588.4,276.9 572.6,285.1 598.4,293.0 582.1,298.8 526.6,307.3 544.3,312.3 576.5,318.2 579.7,326.2 552.1,332.6 551.6,337.8 538.1,343.5 512.9,350.6 541.6,358.4 583.6,363.2 568.3,368.0 576.3,373.6 573.1,379.4 556.3,387.4 560.0,391.9 539.8,399.5 483.9,407.5 414.4,414.5 444.8,421.2 504.1,427.0 526.4,432.6 547.1,437.3 526.0,443.4 534.2,448.3 545.8,455.3 538.6,461.1 528.9,468.0 535.0,475.5 514.0,483.0 529.5,489.5 495.5,496.2 510.5,501.0 490.2,505.7 514.1,513.2 521.3,521.3 514.0,527.4 507.6,532.4 496.9,540.7 477.3,545.7 490.8,550.8 518.6,555.9 537.6,560.5 533.8,568.9 549.8,574.7 547.6,582.8 536.9,589.1 528.9,596.6 539.1,602.6 511.2,610.0 492.5,616.4 472.4,621.8 483.3,629.8 435.8,636.3 471.4,641.0 484.8,646.4 503.5,654.3 441.2,662.7 443.7,668.3 500.5,674.4 498.1,682.4 500.2,689.3 498.2,695.5 463.0,703.6 455.6,709.7 476.5,714.8 466.3,719.4 462.0,727.8 484.2,735.2 474.5,742.1 478.7,749.9 452.5,755.2 468.0,763.4 491.0,769.1 453.4,775.5 487.3,781.5 475.0,789.8 444.3,797.1 433.7,801.9 445.7,810.3 429.9,816.7 419.6,825.1 417.1,830.7 444.0,836.7 473.3,845.0 472.2,851.4 498.2,859.2"/><polyline points="512.5,7.1 524.7,15.3 540.4,22.0 560.7,28.1 570.1,34.1 546.8,42.2 543.8,48.6 481.1,55.3 489.0,62.4 558.2,67.8 551.5,72.7 528.7,80.4 535.0,87.6 498.2,94.5 541.0,103.0 550.7,108.1 551.0,115.0 526.3,119.9 475.2,125.1 506.0,130.1 482.7,135.9 547.4,141.7 562.1,148.9 562.6,154.0 529.8,162.0 539.8,170.1 553.6,175.7 565.3,181.5 525.7,188.1 549.9,194.2 565.5,200.0 549.5,208.2 533.9,213.1 522.8,221.4 464.1,228.8 408.4,233.4 411.4,241.3 499.3,248.1 494.5,255.4 508.1,261.9 481.9,267.6 492.3,274.9 514.4,280.6 521.0,288.6 512.3,293.2 501.3,298.0 513.0,304.0 529.6,308.7 519.2,314.0 503.7,320.7 490.5,325.4 526.5,332.8 484.4,340.4 490.3,348.3 498.0,355.0 500.2,363.0 513.7,367.7 511.5,374.7 526.2,382.4 505.8,388.1 480.9,394.0 462.7,402.3 410.1,410.3 394.6,416.6 524.0,422.6 521.6,428.5 503.6,434.2 485.1,441.0 506.4,445.6 494.2,450.7 495.5,457.8 481.8,464.4 492.1,470.6 488.4,476.2 478.1,484.0 453.6,489.8 483.5,498.1 471.4,503.8 441.9,509.7 430.2,516.4 441.1,523.1 441.8,530.3 452.4,538.7 445.5,544.9 469.0,552.2 473.6,557.9 505.5,563.5 489.1,569.5 459.6,575.4 476.3,581.6 479.2,589.7 401.3,597.2 361.7,603.8 479.3,611.4 479.4,618.2 470.2,623.0 457.3,629.3 480.5,635.9 453.9,642.9 453.9,649.8 444.6,655.2 455.1,663.4 467.5,668.2 381.4,673.5 326.1,678.3 438.5,684.3 464.2,691.5 469.2,698.6 456.3,706.8 466.8,714.9 466.4,721.3 486.4,729.2 479.8,737.2 476.6,742.9 475.1,749.1 478.1,756.0 447.0,763.6 429.4,771.8 463.3,780.1 470.1,785.0 488.3,791.6 471.9,797.9 455.3,804.0 467.6,811.1 427.2,815.7 435.0,823.3 439.4,831.7 468.2,836.4 459.4,841.2 452.2,847.7 472.8,852.3 476.3,857.0"/><polyline points="591.6,7.1 622.1,14.8 626.5,23.0 613.0,29.7 663.7,38.0 670.6,45.8 649.7,50.3 571.5,55.7 616.0,61.8 564.2,67.1 566.8,75.2 487.3,81.6 415.4,88.3 499.2,95.3 572.8,101.1 588.9,107.4 581.2,115.4 590.4,122.6 567.3,129.5 531.6,137.8 534.0,143.1 582.1,148.8 567.2,154.5 595.9,161.5 568.7,166.4 576.5,172.7 576.2,180.2 612.3,186.9 621.4,195.0 654.5,200.2 595.9,207.3 560.4,213.5 607.0,220.3 575.7,227.7 544.6,235.2 571.2,240.3 562.1,245.5 557.9,252.3 540.5,259.0 558.8,265.5 538.1,270.6 615.4,276.2 606.1,281.1 543.1,289.2 536.2,296.8 575.7,304.9 611.2,310.7 599.3,317.1 576.2,321.9 544.4,328.4 517.1,335.1 537.7,339.7 539.9,346.7 525.6,354.7 554.5,361.8 598.9,367.5 557.4,375.0 547.6,380.2 520.4,385.2 536.0,391.7 530.0,398.3 513.6,403.3 527.4,410.5 512.9,418.1 482.7,424.3 512.1,431.5 550.1,438.8 539.3,443.9 539.3,448.7 546.9,456.3 539.9,461.8 512.5,469.2 536.9,476.1 553.3,480.9 538.6,489.1 535.3,493.8 532.8,500.7 515.8,506.8 529.9,512.7 530.1,518.4 539.7,526.1 513.7,533.5 538.1,541.1 510.0,547.5 526.6,553.2 531.0,559.1 541.8,566.8 449.2,573.8 440.1,578.3 535.9,584.8 544.7,589.7 523.9,596.5 505.1,604.8 487.2,609.5 463.2,616.8 500.3,621.6 496.3,628.7 513.0,636.8 511.0,643.3 518.5,651.7 511.7,658.5 411.7,666.6 421.5,672.7 500.1,677.3 506.0,685.1 514.6,690.9 538.0,697.5 536.4,702.5 521.7,710.2 497.4,718.0 513.4,723.1 513.9,730.8 507.4,739.1 502.0,744.0 517.0,748.9 530.4,754.4 545.4,759.5 531.2,767.5 492.0,775.7 518.1,783.4 487.6,788.8 493.7,794.1 473.0,801.9 486.7,809.3 505.2,814.5 486.6,822.1 516.6,826.9 495.1,833.6 523.0,839.7 509.4,847.0 505.8,852.9"/><polyline points="631.8,7.1 585.2,12.5 573.5,20.6 598.5,27.0 613.0,33.8 610.9,39.8 605.8,46.3 614.5,51.8 642.6,57.2 604.9,64.6 605.6,70.8 596.9,77.6 605.7,86.1 609.3,92.7 545.6,99.4 476.2,105.7 524.5,110.9 523.8,118.1 576.6,125.5 576.6,130.8 553.3,138.2 567.4,142.9 692.9,149.4 735.1,155.0 590.4,162.4 521.5,168.0 533.9,174.9 525.0,179.8 580.3,185.0 608.5,190.8 611.7,198.8 574.5,203.9 575.3,209.3 585.7,216.3 625.4,223.3 579.6,230.3 568.5,236.4 613.5,242.4 531.1,248.7 487.5,255.9 517.2,260.8 551.9,266.8 537.6,275.3 596.8,280.6 553.5,287.5 557.4,295.6 547.2,301.8 533.0,307.0 535.2,313.5 538.7,318.9 558.4,326.7 558.4,335.1 518.8,340.8 502.9,346.2 524.6,350.8 568.4,355.4 561.2,361.8 542.0,369.4 521.8,377.0 486.1,384.8 507.3,391.0 529.0,399.2 521.0,404.2 505.7,411.9 511.4,416.5 511.9,424.2 515.1,432.1 518.8,437.0 495.1,445.2 492.5,452.9 519.1,459.3 491.3,464.8 522.1,470.4 541.9,476.0 517.8,480.8 520.6,486.0 514.3,492.7 522.6,499.2 516.9,507.1 501.0,515.6 514.1,521.7 503.1,527.4 483.3,532.9 512.1,539.0 511.9,547.1 490.2,554.6 505.0,562.4 485.4,568.5 484.2,574.4 503.6,581.0 462.4,585.8 505.2,594.2 487.9,600.9 493.0,605.7 476.8,612.7 492.3,620.4 480.4,627.7 489.9,632.3 481.8,638.3 503.8,642.8 492.1,648.6 478.7,656.0 457.1,662.3 450.8,669.6 491.0,675.3 497.7,681.8 506.8,689.1 487.7,695.7 482.3,700.3 501.6,705.1 475.5,711.1 492.2,718.1 462.2,725.0 481.6,731.4 499.9,736.7 517.5,744.3 514.3,752.2 516.1,760.3 539.2,767.4 500.2,774.5 461.3,781.5 445.0,786.4 465.0,792.8 457.3,800.0 490.5,806.4 493.3,812.1 494.9,816.8 472.3,821.6 465.8,827.9 472.5,833.4 465.1,837.9 463.8,843.8 495.4,848.6 489.6,856.6"/><polyline points="509.8,7.1 485.0,14.1 511.0,19.6 521.1,27.4 487.4,32.8 521.6,40.8 546.0,46.9 556.1,51.5 538.3,59.1 528.0,66.8 518.7,71.4 516.8,77.0 527.6,82.5 509.5,87.8 532.1,92.7 518.9,98.1 555.8,104.7 534.6,112.1 493.9,120.6 483.2,126.9 491.7,131.7 484.7,139.7 485.4,148.0 491.6,154.7 487.3,161.0 562.6,166.6 559.8,174.6 531.1,182.4 486.7,190.0 487.5,197.8 514.2,206.1 484.0,210.7 525.4,215.4 553.0,223.4 528.7,231.0 418.9,238.3 372.1,243.0 531.2,249.0 523.9,257.5 493.9,265.2 503.7,270.5 492.8,277.7 510.1,283.0 501.4,287.9 553.2,294.0 519.3,302.2 511.0,309.0 539.7,316.8 540.2,323.3 529.6,330.3 520.1,337.9 511.7,345.6 550.5,353.6 513.3,359.0 514.7,364.8 517.8,371.1 506.5,378.9 512.5,387.2 499.3,393.6 520.5,399.7 517.8,406.2 511.4,413.6 509.1,421.1 525.1,426.5 532.4,432.9 507.7,440.0 503.8,448.1 466.2,455.7 459.5,461.6 439.1,470.0 465.6,474.9 471.6,482.1 492.8,488.4 499.1,493.0 480.3,499.2 460.7,506.6 486.4,515.1 471.5,520.1 491.0,524.6 479.0,530.6 442.8,538.6 438.8,545.8 440.8,553.7 436.3,562.0 446.2,569.6 460.6,577.3 486.4,583.0 501.4,589.9 490.7,597.1 503.8,602.8 491.4,610.1 507.4,616.1 523.4,622.7 495.4,630.4 450.8,637.9 436.1,643.9 447.4,651.0 469.7,658.8 465.7,665.8 483.2,673.8 494.4,682.2 498.1,687.8 473.5,694.2 451.2,700.8 454.0,708.2 395.4,715.4 339.1,722.3 315.8,728.7 368.4,736.5 439.6,742.0 451.8,747.7 447.6,755.6 494.1,760.8 517.1,766.6 472.8,774.4 469.4,780.6 470.9,786.8 482.7,795.2 465.0,803.4 456.0,809.8 490.7,817.7 467.2,824.5 441.9,830.2 421.2,836.9 446.8,843.1 471.0,849.1 465.9,856.5"/><polyline points="563.7,7.1 561.3,12.9 524.5,21.3 485.0,29.0 483.3,35.1 511.0,42.0 507.6,49.4 523.3,54.0 491.3,62.1 540.5,66.8 486.8,74.2 515.3,79.9 484.0,85.7 475.2,92.1 475.2,96.9 509.6,102.7 493.9,108.1 483.0,112.6 475.2,119.3 475.2,126.4 510.6,134.7 524.7,141.9 476.2,149.9 512.2,157.7 513.2,162.4 475.5,167.2 513.1,173.9 491.6,180.2 475.8,188.3 475.9,193.0 489.2,200.6 540.7,205.2 520.0,212.2 527.4,218.1 504.0,225.0 522.5,232.0 496.6,238.1 489.6,242.7 480.9,249.0 509.8,255.8 475.2,261.6 475.1,269.9 475.0,275.5 476.8,280.4 512.3,286.4 507.3,292.1 526.8,300.2 536.1,304.7 535.1,310.3 502.7,315.8 510.4,324.2 501.1,330.6 486.1,336.8 472.7,344.6 476.7,350.3 478.6,357.8 477.1,364.2 484.1,370.3 493.5,378.6 492.0,383.7 486.8,391.0 459.2,399.0 469.2,404.0 484.0,409.1 493.4,416.0 515.1,423.2 498.5,429.3 475.7,435.6 493.1,443.6 470.0,450.0 499.5,456.2 479.8,463.4 441.6,468.7 485.5,476.5 468.3,482.9 433.9,488.0 432.5,492.8 462.8,500.9 442.7,507.0 444.2,512.9 434.1,519.8 435.7,526.2 441.7,534.0 452.0,541.6 454.2,547.9 481.2,552.7 461.7,559.7 453.9,565.0 429.3,572.4 424.5,577.4 430.0,585.2 426.5,591.1 422.9,597.1 443.4,602.1 442.4,607.9 436.1,613.2 451.2,620.1 454.3,626.5 440.9,634.9 420.8,640.5 460.2,645.5 436.8,651.1 442.6,656.5 442.2,664.8 431.3,669.6 437.9,674.8 434.0,681.3 454.3,689.3 472.8,694.5 460.4,702.2 468.3,710.5 446.8,718.6 444.1,724.7 407.5,730.2 366.6,737.5 378.4,746.0 447.1,751.5 417.6,757.9 435.3,764.7 457.3,769.7 433.8,776.3 435.4,783.8 442.6,789.6 426.4,797.9 419.4,804.3 445.7,808.8 438.7,816.6 417.2,822.4 440.0,827.5 439.5,834.2 488.7,839.7 455.8,844.2 449.8,850.7 417.0,858.6"/><polyline points="549.3,7.1 573.4,14.1 551.7,22.6 528.3,27.3 558.6,34.3 553.0,41.0 566.1,47.5 553.7,54.9 519.6,62.2 526.6,68.8 541.8,75.3 537.7,82.5 454.2,87.8 384.5,93.6 428.7,101.0 522.9,109.5 496.0,116.7 490.5,121.4 486.4,129.5 525.6,135.2 527.6,139.9 530.3,146.4 503.8,153.5 500.3,161.5 475.5,167.8 516.6,173.6 521.5,180.0 550.8,188.0 543.4,194.7 541.9,200.9 566.8,209.2 587.8,216.8 554.2,221.8 436.2,228.5 384.0,236.8 450.4,242.4 540.4,249.0 512.4,254.6 527.1,262.9 491.1,268.2 492.4,276.2 487.1,284.0 498.7,292.4 503.7,300.8 518.3,305.8 506.0,312.3 501.2,320.2 527.7,326.6 497.4,334.4 516.2,341.5 530.1,349.0 519.0,355.8 532.7,361.2 488.2,366.4 496.6,374.6 502.5,380.2 504.6,386.2 460.4,392.2 478.2,400.6 493.2,405.7 525.9,411.8 542.1,418.6 528.8,424.1 504.2,429.3 523.6,436.1 498.7,443.5 465.4,448.3 488.5,454.4 504.7,461.6 510.1,469.6 494.8,477.7 469.8,483.0 499.4,490.6 457.1,496.2 479.1,502.9 477.3,508.8 459.4,514.7 448.7,519.3 464.3,524.5 448.6,529.4 465.4,536.8 490.4,541.9 461.7,550.2 474.5,557.1 483.2,561.6 461.8,569.6 461.3,577.6 455.2,582.1 469.8,590.1 489.7,596.2 428.7,603.2 366.4,611.1 410.7,615.8 444.8,621.1 502.7,626.8 470.6,632.0 465.6,638.1 480.5,645.2 489.0,653.2 457.7,661.0 456.5,666.0 450.1,673.6 450.5,681.0 454.3,686.6 458.6,694.4 474.1,701.7 489.3,709.4 444.4,715.2 435.8,723.5 456.4,730.9 417.7,736.7 441.8,743.3 464.0,751.8 384.7,758.5 305.0,765.8 304.5,772.3 376.1,776.9 461.3,782.0 470.4,790.5 461.2,796.4 454.2,802.7 456.4,811.1 490.2,817.4 476.6,825.0 473.7,830.2 460.6,836.3 450.5,842.5 446.2,848.0 462.0,852.9"/></g>
<polyline points="645.4,9.2 651.7,14.5 626.5,21.8 615.9,25.0 600.0,32.0 597.0,36.6 615.9,44.0 622.2,46.0 619.1,52.3 597.0,54.4 561.2,56.5 485.5,62.2 536.0,67.1 536.0,73.4 518.1,78.6 540.2,84.9 573.9,89.1 615.9,93.3 649.6,97.6 650.6,103.9 615.9,114.4 588.6,119.6 563.3,126.0 582.3,135.4 579.1,142.4 578.1,160.2 603.3,164.4 626.5,168.7 642.2,172.9 632.8,179.2 603.3,185.5 578.1,190.7 548.6,196.0 536.0,200.2 528.6,208.6 544.4,216.0 567.6,219.1 590.7,227.6 599.1,234.9 594.9,242.3 578.1,252.8 577.0,260.2 582.3,266.5 578.1,271.3 565.0,285.0 561.2,300.8 546.5,303.9 495.0,313.8 540.2,326.0 543.4,334.4 547.6,346.0 538.1,352.3 542.3,372.3 536.0,387.0 519.2,397.0 510.8,403.4 467.6,415.0 477.1,420.2 510.8,426.6 521.3,431.8 533.9,445.5 531.8,456.0 523.4,462.3 520.0,480.0 535.0,500.2 538.1,504.4 531.8,513.8 504.5,522.3 435.0,532.4 496.0,542.9 498.1,546.0 489.7,560.8 478.2,569.2 486.6,574.4 483.4,585.0 489.7,591.3 500.0,620.0 509.7,649.1 506.6,657.5 506.0,680.0 505.5,708.6 481.3,720.2 464.5,732.8 468.7,738.1 481.3,741.2 504.5,746.5 517.1,752.8 522.3,760.2 518.1,769.6 500.2,777.9 472.9,787.3 475.0,790.5 481.0,800.0 481.0,842.0 469.0,852.0" fill="none" stroke="#ff00ff" stroke-width="3" stroke-linejoin="round"/>
<polyline points="535.0,8.8 603.3,16.6 658.0,26.0 673.8,32.3 651.7,38.7 599.1,42.9 557.0,48.1 562.3,54.4 552.8,65.0 521.3,72.3 504.5,80.7 521.3,88.1 542.3,95.5 573.9,104.9 576.0,110.2 570.7,116.5 565.5,119.6 578.1,126.0 588.6,128.1 603.3,131.2 634.9,137.5 641.2,140.3 662.2,146.6 634.9,151.8 603.3,155.0 588.6,171.8 578.1,178.1 540.2,186.5 533.9,191.8 540.2,197.1 542.3,208.6 561.2,213.9 580.2,218.1 588.6,222.3 599.1,227.6 607.5,230.7 597.0,237.0 561.2,246.5 561.2,266.5 565.5,273.8 561.2,290.2 577.0,301.8 582.3,313.4 586.5,326.0 582.3,334.4 569.7,343.9 548.6,349.1 538.1,355.5 565.5,366.0 568.6,374.4 565.5,384.9 557.0,393.3 540.2,403.8 538.1,405.5 517.1,416.0 512.9,424.4 508.7,432.9 475.0,444.4 502.3,453.9 501.3,466.5 500.2,485.5 502.3,489.7 536.0,500.2 504.5,512.8 527.6,521.2 529.7,529.6 523.4,537.6 516.0,546.0 515.0,558.7 508.7,562.9 487.6,570.2 487.6,577.6 506.6,586.0 523.4,592.3 528.6,597.6 523.4,602.8 508.7,613.3 508.7,634.4 527.6,641.7 538.1,647.0 527.6,652.3 504.5,656.5 469.7,663.8 470.8,667.6 481.3,678.1 441.3,691.8 451.9,697.1 481.3,703.4 506.6,708.6 517.1,713.9 508.7,726.5 511.8,733.9 510.8,738.1 504.5,744.4 505.5,758.9 500.2,765.2 477.1,781.0 410.0,791.0 410.0,801.5 477.1,807.3 500.2,808.4 540.2,815.7 541.3,819.9 500.2,831.5 475.0,844.1 460.3,851.5" fill="none" stroke="#ff0000" stroke-width="3" stroke-linejoin="round"/>
<rect x="577.80" y="20.61" width="9.20" height="105.14" fill="#b3b3b3" stroke="#000" stroke-width="2.5"/>
<line x1="582.30" y1="21.61" x2="582.30" y2="124.75" stroke="#000" stroke-width="2.7"/>
<rect x="599.90" y="20.61" width="14.80" height="105.14" fill="#ff9999" stroke="#000" stroke-width="2.5"/>
<line x1="607.90" y1="21.61" x2="607.90" y2="124.75" stroke="#ff0000" stroke-width="3"/>
<rect x="565.20" y="125.75" width="11.30" height="105.14" fill="#b3b3b3" stroke="#000" stroke-width="2.5"/>
<line x1="570.70" y1="126.75" x2="570.70" y2="229.89" stroke="#000" stroke-width="2.7"/>
<rect x="590.40" y="125.75" width="11.30" height="105.14" fill="#ff9999" stroke="#000" stroke-width="2.5"/>
<line x1="596.20" y1="126.75" x2="596.20" y2="229.89" stroke="#ff0000" stroke-width="3"/>
<rect x="548.40" y="230.89" width="10.20" height="105.14" fill="#b3b3b3" stroke="#000" stroke-width="2.5"/>
<line x1="553.50" y1="231.89" x2="553.50" y2="335.03" stroke="#000" stroke-width="2.7"/>
<rect x="565.20" y="230.89" width="10.20" height="105.14" fill="#ff9999" stroke="#000" stroke-width="2.5"/>
<line x1="570.10" y1="231.89" x2="570.10" y2="335.03" stroke="#ff0000" stroke-width="3"/>
<rect x="522.90" y="336.03" width="4.70" height="105.14" fill="#b3b3b3" stroke="#000" stroke-width="2.5"/>
<line x1="527.70" y1="337.03" x2="527.70" y2="440.16" stroke="#000" stroke-width="2.7"/>
<rect x="528.10" y="336.03" width="7.30" height="105.14" fill="#ff9999" stroke="#000" stroke-width="2.5"/>
<line x1="531.50" y1="337.03" x2="531.50" y2="440.16" stroke="#ff0000" stroke-width="3"/>
<rect x="505.70" y="441.16" width="7.10" height="105.14" fill="#b3b3b3" stroke="#000" stroke-width="2.5"/>
<line x1="509.50" y1="442.16" x2="509.50" y2="545.30" stroke="#000" stroke-width="2.7"/>
<rect x="512.20" y="441.16" width="8.50" height="105.14" fill="#ff9999" stroke="#000" stroke-width="2.5"/>
<line x1="516.50" y1="442.16" x2="516.50" y2="545.30" stroke="#ff0000" stroke-width="3"/>
<rect x="492.00" y="546.30" width="9.10" height="105.14" fill="#b3b3b3" stroke="#000" stroke-width="2.5"/>
<line x1="498.10" y1="547.30" x2="498.10" y2="650.44" stroke="#000" stroke-width="2.7"/>
<rect x="501.90" y="546.30" width="5.60" height="105.14" fill="#ff9999" stroke="#000" stroke-width="2.5"/>
<line x1="504.50" y1="547.30" x2="504.50" y2="650.44" stroke="#ff0000" stroke-width="3"/>
<rect x="482.90" y="651.44" width="11.90" height="105.14" fill="#b3b3b3" stroke="#000" stroke-width="2.5"/>
<line x1="491.20" y1="652.44" x2="491.20" y2="755.58" stroke="#000" stroke-width="2.7"/>
<rect x="495.20" y="651.44" width="8.50" height="105.14" fill="#ff9999" stroke="#000" stroke-width="2.5"/>
<line x1="498.80" y1="652.44" x2="498.80" y2="755.58" stroke="#ff0000" stroke-width="3"/>
<rect x="477.90" y="756.58" width="10.90" height="105.14" fill="#b3b3b3" stroke="#000" stroke-width="2.5"/>
<line x1="485.50" y1="757.58" x2="485.50" y2="860.71" stroke="#000" stroke-width="2.7"/>
<rect x="489.20" y="756.58" width="9.40" height="105.14" fill="#ff9999" stroke="#000" stroke-width="2.5"/>
<line x1="494.00" y1="757.58" x2="494.00" y2="860.71" stroke="#ff0000" stroke-width="3"/>
</g>
<g clip-path="url(#cpc)">
<g fill="none" stroke="#ffc8c8" stroke-width="1.15" stroke-linejoin="round"><polyline points="755.3,7.1 740.4,14.1 737.0,20.1 767.4,27.9 769.0,35.7 803.7,40.3 762.3,45.8 752.9,54.1 732.5,62.4 709.1,70.0 747.4,76.1 758.4,84.2 729.8,89.3 732.0,93.9 738.6,99.7 756.5,107.1 765.3,112.2 758.9,118.7 751.6,123.8 710.6,129.0 714.8,133.8 709.1,139.7 712.1,144.5 736.1,151.1 727.7,158.6 710.4,164.7 710.8,170.0 720.4,176.9 725.4,184.8 728.0,190.6 747.9,196.0 736.4,201.6 725.7,207.9 717.0,212.5 715.2,220.7 716.3,228.1 717.2,234.6 730.0,242.4 736.0,249.4 727.7,256.5 715.6,261.0 715.1,266.1 714.2,273.3 717.8,279.7 731.0,286.6 739.7,294.2 739.7,299.7 742.5,304.8 737.6,310.3 733.5,316.1 730.8,323.8 730.5,329.3 736.1,334.5 729.0,340.3 733.5,347.9 742.4,353.9 747.0,360.3 753.5,365.2 765.6,372.0 745.7,379.7 740.3,385.5 743.3,391.3 763.2,397.3 752.5,405.2 754.6,409.8 740.5,416.2 753.2,423.3 746.5,430.7 747.4,436.2 758.2,444.6 758.7,452.8 751.5,459.9 755.3,464.6 764.7,471.8 755.5,478.5 752.1,485.8 763.9,493.1 754.2,499.6 755.7,506.5 753.8,514.4 763.8,520.5 762.0,528.3 753.6,534.5 757.5,541.7 753.9,550.0 766.1,558.2 765.3,564.7 759.4,570.9 774.4,576.6 773.1,584.0 768.6,591.0 754.1,596.2 762.8,602.7 767.7,609.1 766.3,617.2 763.2,622.3 762.1,628.5 764.2,636.5 760.1,643.8 756.3,648.3 754.6,655.2 757.1,662.0 757.6,669.8 763.8,676.6 759.0,681.2 758.5,686.9 769.8,694.1 767.0,701.8 769.2,709.4 768.7,715.7 759.3,721.2 753.5,729.1 753.5,737.5 753.5,745.5 762.5,751.9 773.4,759.8 775.1,767.7 785.2,775.1 767.3,779.6 785.2,785.0 772.2,791.5 775.0,798.7 783.5,806.8 776.1,811.5 774.8,816.2 753.7,824.2 762.0,831.1 765.4,836.3 770.7,841.5 776.6,846.8 776.0,851.5 765.0,857.9"/><polyline points="851.6,7.1 845.6,13.8 846.9,21.2 812.1,26.6 843.2,34.1 846.5,41.3 841.9,46.3 814.8,53.1 782.4,61.4 777.7,68.5 829.4,74.6 884.9,79.7 837.2,84.8 848.0,92.9 836.0,101.1 786.5,106.7 830.6,112.4 861.2,117.5 798.3,122.6 854.1,129.5 874.2,135.4 794.6,143.6 795.3,152.0 801.2,158.3 805.7,164.6 876.5,172.8 854.2,178.6 831.4,187.0 835.8,193.4 834.5,200.2 854.9,205.0 829.7,211.3 818.6,216.2 825.5,220.8 798.4,225.5 778.0,232.5 817.3,238.9 808.9,246.6 797.2,255.1 802.3,261.8 777.2,269.2 774.0,275.3 776.7,281.2 765.1,289.2 752.9,295.7 757.3,302.8 784.6,309.9 780.0,315.2 774.2,323.2 790.2,328.7 773.5,336.7 769.4,341.8 785.2,349.1 775.8,355.8 770.3,363.3 771.0,370.3 772.0,374.9 770.5,383.3 781.1,391.6 766.0,399.8 773.3,407.3 775.1,413.1 777.2,418.0 785.7,426.3 769.8,433.9 758.9,440.3 775.4,448.5 778.0,454.5 793.3,460.9 786.3,467.7 800.8,475.8 769.8,480.9 784.7,486.6 775.3,495.1 788.4,503.0 802.8,509.5 790.0,515.9 789.8,520.6 796.5,527.4 800.6,534.3 801.2,542.7 796.6,548.1 780.4,553.9 780.5,561.9 793.8,569.9 799.6,577.2 804.3,585.0 812.3,592.0 813.2,598.7 807.7,605.8 801.9,611.3 803.6,619.2 816.0,626.4 829.9,633.8 801.1,638.7 788.8,646.0 786.7,653.2 784.1,658.4 804.6,666.8 792.6,672.4 787.5,678.0 779.8,685.2 771.6,693.0 800.1,700.6 793.2,708.0 788.3,714.1 776.1,718.7 795.9,723.8 793.0,730.4 813.9,738.5 797.8,743.5 805.0,748.4 806.9,756.6 793.1,762.8 808.6,769.9 816.7,776.6 793.7,784.1 799.4,788.9 810.1,797.1 813.7,802.2 825.7,807.0 798.3,813.7 808.1,822.1 813.3,829.9 798.7,837.9 813.7,843.0 811.8,847.7 804.1,853.3"/><polyline points="839.3,7.1 833.0,15.1 822.9,23.4 809.1,30.7 800.7,38.7 851.1,43.2 821.2,49.4 828.7,54.8 815.6,60.0 888.9,67.5 760.5,75.9 743.2,82.6 756.4,90.0 840.5,96.8 845.6,103.7 866.4,108.8 804.1,117.0 781.9,122.0 858.8,126.9 869.6,132.5 876.6,138.4 826.5,144.8 777.6,149.9 824.9,157.7 807.1,165.4 860.7,171.4 852.9,179.8 819.1,186.2 856.8,191.4 793.6,198.4 863.1,206.5 855.2,214.2 826.0,221.1 821.5,229.5 802.9,234.9 800.4,239.8 780.9,247.7 777.0,254.6 767.2,261.9 754.7,269.6 753.6,275.9 741.4,283.2 743.2,290.3 755.8,297.4 764.4,305.1 747.1,309.9 753.4,317.3 750.1,325.3 761.1,333.4 751.7,341.8 755.1,349.1 770.0,355.1 759.5,361.9 758.8,370.3 764.6,376.3 764.3,381.8 764.0,389.6 757.8,396.4 767.2,404.7 775.3,411.2 759.0,415.8 762.5,424.2 784.3,432.3 766.3,437.2 772.1,441.9 775.7,448.1 780.9,455.3 802.0,460.8 784.1,467.8 766.3,475.2 768.4,481.7 760.8,487.6 776.2,494.7 781.2,501.2 768.6,507.6 782.7,513.8 784.0,520.6 769.4,525.3 766.0,532.6 775.4,540.0 767.1,544.9 767.2,552.1 771.9,556.7 771.6,561.9 768.0,567.0 771.5,575.4 764.1,581.6 788.7,588.9 778.6,595.7 776.5,603.1 776.8,609.2 771.2,617.5 781.6,624.9 772.7,633.1 779.9,639.5 801.9,647.4 791.5,652.8 790.1,658.0 795.2,662.6 793.7,670.8 803.6,678.0 785.0,683.7 779.8,688.5 836.0,696.9 858.3,703.9 783.6,711.4 806.8,718.8 784.5,725.1 796.2,731.5 808.8,737.8 814.0,743.6 810.9,748.9 781.3,755.7 814.6,763.8 792.7,769.0 792.7,776.6 778.2,783.8 779.6,790.2 775.4,797.3 771.0,805.3 771.9,813.7 787.6,821.2 765.1,829.2 746.4,835.6 774.7,842.7 794.1,849.2 786.5,854.2"/><polyline points="803.9,7.1 820.1,15.4 848.5,21.8 842.0,28.9 813.8,34.5 816.4,40.6 803.3,46.6 870.7,54.5 883.5,59.7 872.0,65.6 823.9,70.7 766.6,77.5 799.9,84.4 814.3,91.0 826.3,97.8 839.6,104.6 840.2,110.3 837.1,115.3 809.9,123.7 787.3,128.4 855.3,135.4 823.6,140.3 801.5,146.4 847.2,154.8 841.9,161.3 806.6,168.7 833.5,173.9 812.0,180.9 822.7,188.4 777.4,193.0 856.4,198.6 870.6,206.1 825.7,213.0 825.2,221.3 830.2,229.7 781.0,236.8 782.8,243.1 749.6,247.9 783.2,256.1 756.7,263.7 764.0,270.2 760.7,275.7 766.1,283.5 766.7,290.8 767.6,298.2 762.9,305.6 768.6,312.7 754.0,319.1 748.1,326.0 763.6,332.0 774.6,338.6 760.1,344.3 777.6,349.1 764.5,357.5 768.1,365.1 765.7,373.3 757.5,380.9 785.0,388.9 773.1,396.0 774.0,400.9 769.9,408.2 770.0,415.6 768.2,423.4 766.8,430.7 765.1,438.2 766.1,446.6 767.6,452.9 769.7,458.5 772.1,463.4 768.1,468.9 780.4,475.1 775.8,483.0 770.6,490.7 787.4,498.6 773.4,505.0 790.8,510.7 785.7,516.5 776.1,521.5 789.8,528.7 792.4,536.6 781.6,541.9 783.3,548.5 783.3,554.5 786.9,561.1 801.3,567.0 779.7,574.3 768.8,579.4 764.2,584.3 785.9,589.6 775.3,595.9 776.9,602.7 779.8,610.4 767.3,617.2 781.5,623.6 792.1,628.7 786.4,636.9 788.5,641.5 804.3,649.0 778.8,653.7 793.9,661.7 800.8,666.5 790.9,671.8 779.9,676.8 788.6,685.2 797.2,690.4 823.9,695.1 831.0,700.5 812.2,707.4 801.1,713.8 796.1,718.5 781.1,725.0 803.2,730.4 798.4,737.0 801.7,743.8 785.8,750.5 778.8,758.0 771.8,763.5 784.3,770.8 795.7,777.6 795.2,784.0 785.4,790.9 783.0,795.9 784.3,801.2 774.5,809.4 787.5,814.7 792.6,821.5 795.3,826.0 795.1,832.8 784.9,840.4 788.6,845.8 793.5,852.0 781.5,858.7"/><polyline points="765.4,7.1 804.0,12.4 794.1,20.5 807.9,25.9 774.0,33.5 760.8,40.7 745.6,46.7 765.3,53.5 914.4,58.4 876.1,65.0 736.0,72.8 767.4,79.0 760.1,83.7 778.6,89.8 752.6,96.8 809.7,103.4 772.2,110.0 762.1,117.9 770.1,124.5 736.5,130.3 723.5,137.2 744.3,145.0 767.6,152.8 767.8,159.5 800.3,165.0 771.6,170.2 767.8,175.4 749.1,180.2 740.5,185.1 760.7,192.6 757.5,199.6 741.9,206.9 774.0,214.0 783.0,221.7 738.1,228.0 751.3,233.9 722.0,240.1 750.5,246.7 756.5,251.6 744.1,259.6 745.7,265.8 735.0,271.3 730.6,276.6 736.7,281.5 739.1,287.7 738.2,296.1 736.1,301.0 734.8,309.3 747.1,314.1 759.7,318.9 777.4,325.2 754.0,332.3 780.0,339.9 768.1,347.5 764.9,353.3 764.1,359.5 763.7,366.1 759.7,373.1 763.3,378.2 767.2,385.6 764.0,393.8 747.9,400.5 762.7,407.3 757.6,413.8 780.7,420.3 750.2,425.2 753.7,433.4 762.5,438.2 763.2,446.0 765.1,452.3 763.5,457.3 779.6,463.7 754.8,471.7 790.7,477.3 779.7,483.7 787.4,488.5 794.7,494.3 768.6,502.5 777.5,507.5 763.3,513.1 771.4,519.2 776.7,525.3 782.8,532.9 791.1,540.5 777.1,547.8 776.1,553.5 779.3,559.3 777.8,567.2 780.9,575.7 792.9,583.6 797.5,589.4 771.5,594.8 776.2,599.9 779.0,607.0 787.7,613.4 788.0,621.7 799.4,628.2 779.5,635.3 785.0,643.4 774.6,651.1 773.7,657.9 766.4,663.8 770.2,669.8 778.9,674.6 774.6,679.6 788.3,686.2 781.7,692.9 780.7,697.6 773.1,705.1 762.3,712.7 768.6,720.6 772.2,726.4 782.8,733.3 805.1,741.1 793.5,747.4 773.1,754.6 773.4,760.6 784.1,767.7 779.5,775.2 782.8,783.6 766.3,790.8 780.4,798.0 773.3,804.8 783.3,811.6 801.0,817.0 799.7,823.8 815.8,830.4 800.3,838.0 800.8,842.8 781.7,850.0 805.3,854.6"/><polyline points="850.8,7.1 817.8,14.3 837.9,22.0 852.9,26.8 878.6,32.5 881.0,38.1 865.2,45.7 803.8,53.6 808.3,58.5 821.8,64.2 808.0,69.7 862.2,77.1 870.3,84.2 809.5,89.4 805.5,96.4 834.9,104.0 868.2,109.2 843.0,115.0 906.5,121.0 827.6,129.4 840.2,133.9 839.6,140.9 803.5,146.4 811.1,154.4 818.4,159.4 883.4,166.1 854.8,174.1 808.9,180.4 816.5,188.8 861.2,195.2 773.2,203.5 760.7,209.7 766.2,215.0 769.1,222.4 777.3,229.3 775.9,234.7 771.6,242.8 745.5,249.9 747.0,255.5 753.0,263.9 753.7,271.8 736.0,276.9 752.0,282.5 757.3,288.4 775.9,296.9 776.4,304.8 751.0,310.9 744.8,317.1 748.2,323.6 762.6,328.9 777.1,336.9 760.9,343.0 765.7,349.6 755.7,356.1 767.1,360.7 758.2,367.9 766.2,373.5 762.2,379.8 765.2,385.7 780.4,392.3 785.4,399.7 785.3,407.7 788.9,412.7 785.9,419.9 777.4,424.7 773.0,430.4 775.1,436.3 756.9,440.9 759.3,447.5 757.4,452.4 762.4,457.9 766.1,464.0 787.1,471.1 775.2,478.3 787.9,484.4 783.7,489.9 771.0,495.8 773.6,502.3 779.3,508.5 769.8,514.9 781.0,523.2 784.0,528.4 778.0,536.5 811.8,544.2 821.1,552.7 798.4,559.1 767.3,565.5 784.0,572.8 774.5,578.1 777.2,583.2 773.9,589.0 794.7,594.7 799.9,601.2 794.6,609.4 787.0,617.3 795.4,623.4 774.7,628.8 778.9,635.3 796.1,643.5 795.3,649.0 792.3,655.6 792.0,663.6 800.2,671.9 822.4,677.1 830.2,682.2 824.4,686.9 806.4,691.5 778.5,697.3 801.4,703.1 788.3,708.9 790.4,715.5 786.5,720.6 789.6,725.4 804.8,730.1 795.5,737.5 800.3,744.0 791.7,750.6 792.5,758.2 769.3,764.6 785.0,771.2 769.6,777.9 775.5,785.0 784.3,790.6 796.3,799.0 799.8,804.5 780.9,811.9 787.0,819.2 797.7,825.8 786.1,831.3 804.4,837.1 787.3,843.5 774.9,850.1 789.9,856.4"/><polyline points="785.4,7.1 774.3,14.9 756.2,21.3 789.9,26.1 779.2,30.8 745.2,37.8 726.0,44.5 733.3,51.6 749.1,58.1 732.7,66.1 744.1,72.2 741.5,78.5 758.2,86.1 768.3,93.3 779.4,98.4 743.2,105.6 741.5,113.4 758.0,120.9 728.2,126.7 736.5,134.6 748.5,142.1 753.0,146.7 750.4,151.3 742.2,157.6 809.7,163.8 740.8,171.8 737.5,177.0 749.6,183.9 776.7,191.4 753.3,196.4 751.5,201.6 764.2,208.2 774.2,213.4 785.5,218.0 729.7,223.4 758.1,230.0 743.3,235.0 740.2,241.7 742.8,246.9 744.9,255.2 745.5,260.4 749.7,265.4 735.1,271.5 740.7,278.3 737.9,284.4 727.8,289.1 735.5,294.7 738.8,300.2 734.0,306.3 745.3,312.0 738.3,316.7 754.9,321.8 755.5,329.5 742.3,336.9 738.9,342.8 734.3,348.0 749.8,352.8 755.3,359.9 748.4,367.1 742.0,373.8 737.9,380.5 747.1,387.0 755.2,395.4 741.1,402.0 763.3,408.7 765.0,415.1 754.6,420.1 762.8,426.3 756.8,433.6 758.5,440.8 768.3,446.9 759.0,451.5 782.7,457.2 778.1,464.9 772.4,471.8 771.2,478.5 765.3,484.5 767.9,490.8 769.4,499.1 766.4,505.2 756.7,513.6 763.3,519.0 764.2,527.3 763.0,533.1 756.3,539.3 758.5,545.8 763.9,552.2 765.5,558.1 769.8,563.2 770.1,571.3 759.9,576.1 769.2,582.0 770.0,589.9 771.1,596.5 766.9,603.6 755.8,608.3 764.2,616.5 769.1,623.1 777.6,631.2 762.6,638.9 764.7,646.9 769.0,653.1 772.4,660.4 765.5,666.6 768.9,672.7 773.8,680.7 771.9,686.9 765.4,693.8 762.3,702.2 771.6,707.2 770.8,715.4 753.5,720.1 753.5,728.0 762.1,735.8 767.6,742.8 785.1,747.9 780.7,753.0 769.5,760.5 768.3,766.0 757.0,773.5 775.9,780.3 760.7,788.0 768.5,793.5 782.1,799.8 776.5,805.5 789.7,813.9 774.5,819.8 772.3,826.1 779.3,832.6 788.7,839.3 769.5,844.1 777.1,849.3 804.5,857.7"/><polyline points="846.4,7.1 832.2,12.3 817.2,19.6 777.0,27.1 767.7,33.2 795.0,38.9 771.7,47.3 751.4,54.0 773.9,60.1 751.2,67.3 757.1,75.2 773.9,81.1 776.4,87.5 793.1,94.1 816.4,102.1 764.1,107.0 797.3,112.0 821.3,117.7 818.8,123.3 842.2,131.6 855.4,138.6 808.9,146.1 778.0,153.2 792.1,159.9 769.9,166.3 765.9,172.2 782.3,176.8 813.3,182.3 764.7,190.0 758.7,194.7 805.8,200.8 760.8,207.3 775.3,213.3 822.3,221.7 736.8,226.6 737.3,232.2 746.2,240.5 751.2,247.0 751.3,252.7 762.1,260.2 753.5,266.4 743.7,271.0 763.7,276.5 755.5,281.4 740.4,288.7 763.3,294.6 765.7,300.3 767.3,305.9 762.5,313.7 780.6,320.4 752.9,326.4 743.0,334.3 748.4,341.1 758.5,348.4 762.0,356.2 754.0,364.1 752.5,370.1 757.8,376.6 769.0,382.5 772.5,389.8 785.9,395.2 766.8,403.0 780.0,408.8 765.3,416.6 767.1,421.8 767.8,430.0 762.1,438.3 774.9,443.3 780.7,451.1 765.6,456.3 765.9,461.1 780.9,469.1 776.3,476.0 783.0,483.5 798.2,489.8 783.6,495.5 791.0,501.0 784.3,509.1 783.5,516.6 763.5,521.8 765.3,527.8 784.6,534.6 776.6,542.1 784.5,548.9 786.7,555.5 774.5,560.7 755.3,567.6 755.7,573.3 776.1,578.3 764.5,583.5 774.5,588.1 778.4,593.9 775.5,602.3 787.2,608.5 783.5,613.8 798.6,622.2 778.7,629.0 773.7,636.7 777.8,642.8 779.1,649.8 775.5,658.1 800.4,663.5 787.2,668.8 786.3,674.4 805.0,679.9 807.0,687.2 775.7,695.1 779.2,703.0 781.4,708.5 780.8,713.1 778.7,718.7 799.1,725.7 800.3,733.1 790.5,741.3 801.9,747.5 795.8,753.4 803.3,761.8 812.1,769.6 803.1,775.6 796.8,781.6 811.0,787.0 810.1,794.6 809.8,801.7 796.5,808.4 786.9,816.5 797.9,821.8 788.3,828.2 798.9,835.3 792.4,840.6 798.3,848.3 793.4,855.3"/><polyline points="790.4,7.1 780.9,14.6 773.4,20.6 774.5,28.9 789.1,34.5 800.5,42.2 754.2,49.9 739.7,58.1 739.0,62.7 723.1,71.0 720.5,77.4 734.9,83.9 739.2,90.4 738.3,97.7 735.4,103.7 749.4,108.8 758.5,116.3 764.8,121.8 743.1,128.2 751.3,135.2 742.0,142.4 744.5,149.9 728.6,158.3 743.9,164.7 753.5,173.1 726.0,181.3 745.1,186.2 729.2,194.2 735.4,199.0 735.3,204.4 729.0,210.0 738.0,217.1 744.0,221.9 736.2,228.8 755.0,234.4 742.9,242.3 738.7,248.4 728.3,253.0 735.2,257.8 720.7,265.7 720.7,272.0 736.1,277.6 730.1,285.2 736.9,293.3 750.6,299.7 763.5,307.8 757.2,315.2 743.9,320.8 743.8,328.7 766.7,333.4 741.5,341.8 754.1,350.1 760.5,358.6 751.6,364.8 768.4,373.3 751.7,379.1 744.6,386.6 764.0,395.1 765.1,400.5 763.8,408.3 766.3,413.0 766.0,418.5 747.5,427.0 746.9,434.8 759.7,440.9 759.8,447.5 763.1,455.7 759.1,463.2 768.1,470.0 764.6,474.7 766.0,481.2 760.5,488.3 767.8,495.3 769.1,501.3 771.4,506.4 766.8,511.4 769.2,518.5 768.1,524.4 784.7,532.6 773.4,540.7 765.0,548.6 773.1,554.5 769.9,561.3 775.2,569.6 774.6,574.3 768.2,582.2 776.9,587.5 771.2,594.9 766.2,599.7 752.7,607.7 760.3,614.2 760.8,619.4 760.5,624.5 760.6,630.1 769.5,638.1 807.0,643.9 815.4,649.6 823.7,655.3 780.8,662.8 769.2,670.6 768.8,676.7 758.5,682.7 757.1,689.6 763.0,695.6 770.5,701.1 773.7,709.0 762.4,715.8 782.9,724.0 782.6,729.0 780.5,735.2 773.1,741.6 779.6,746.3 803.6,750.8 792.3,759.0 787.2,763.8 781.5,769.2 776.6,774.7 775.7,781.5 777.3,787.5 780.6,792.2 783.3,797.8 784.2,805.3 798.7,812.3 793.5,819.1 779.2,823.6 776.0,829.6 773.4,837.3 775.9,844.8 789.6,850.4 778.0,855.7"/><polyline points="825.3,7.1 807.3,12.3 821.8,18.7 786.5,23.3 800.3,28.9 807.3,34.1 770.9,42.4 778.1,48.5 854.2,54.6 891.2,62.3 801.0,67.5 829.9,73.8 794.8,80.5 810.1,85.4 752.1,92.8 754.9,99.5 738.8,107.1 728.6,113.3 758.6,120.9 758.4,125.6 770.6,131.3 803.7,137.2 832.5,145.6 831.0,151.9 827.2,158.4 826.6,164.1 791.2,168.6 766.6,176.7 777.0,181.7 749.0,188.2 797.3,193.4 839.8,200.6 803.4,206.5 763.5,211.3 795.9,219.3 777.6,226.2 800.4,232.6 801.8,239.5 786.4,245.3 771.4,253.6 769.7,261.6 757.9,269.1 763.2,276.3 758.7,283.3 757.3,288.5 754.0,295.3 762.9,300.5 761.4,308.9 768.6,314.6 755.2,320.3 763.5,326.0 765.0,332.2 771.5,338.1 776.5,343.2 780.1,348.1 780.8,354.9 771.0,359.5 769.9,365.6 771.8,371.9 774.1,378.6 768.9,385.2 769.9,393.0 784.9,398.4 785.3,404.2 805.0,411.3 774.3,417.0 788.8,423.5 790.0,431.6 784.3,440.0 783.9,445.2 797.8,450.5 789.3,456.0 784.8,461.1 768.1,469.0 794.7,476.4 787.9,482.1 793.6,487.6 784.2,494.0 814.5,499.9 797.2,508.0 804.2,515.4 825.7,522.2 817.5,529.9 789.9,537.8 786.0,545.0 788.3,550.2 807.4,557.7 802.8,562.6 797.3,570.9 770.6,576.2 822.3,582.1 844.6,588.0 797.1,593.4 781.9,600.2 769.9,607.4 771.6,613.8 815.8,622.2 816.7,628.2 788.7,634.6 785.0,640.3 785.3,647.0 778.8,654.8 790.3,660.0 779.9,664.8 806.8,672.7 795.7,679.4 821.8,684.6 813.0,689.2 796.0,694.6 793.9,702.6 783.3,710.1 781.7,717.8 783.8,724.6 788.4,732.1 823.8,737.2 828.1,744.0 840.3,750.3 826.3,755.3 830.2,761.6 839.1,766.1 822.1,771.4 781.9,777.7 797.3,783.2 816.1,788.0 784.6,796.4 787.3,801.8 781.5,807.4 804.4,813.6 779.0,821.0 808.1,827.0 820.2,834.4 824.1,839.2 810.9,846.2 811.9,853.2"/><polyline points="763.6,7.1 761.9,14.4 779.2,21.8 791.6,28.3 775.7,36.4 795.8,41.2 757.3,47.2 756.6,53.8 750.3,61.7 820.3,69.6 793.9,77.3 787.9,83.8 783.8,92.1 741.2,96.9 757.8,105.2 754.4,113.4 749.3,120.3 735.3,128.3 758.2,133.5 779.0,141.0 765.8,147.5 741.5,154.0 737.8,159.0 712.2,164.2 710.8,171.9 729.4,179.4 736.8,185.0 735.4,191.3 724.9,197.4 730.1,201.9 754.5,209.9 765.2,214.9 752.5,220.7 744.8,226.2 745.5,232.1 750.3,238.2 730.6,244.4 723.4,251.4 722.8,257.2 735.6,263.6 741.4,269.7 722.9,276.3 738.9,281.0 738.5,287.6 748.0,295.5 748.4,300.9 744.2,305.5 751.1,310.4 756.3,315.9 747.2,323.0 754.6,331.3 750.1,336.3 760.7,341.9 758.3,348.0 757.4,355.9 748.1,363.1 759.0,367.7 767.0,372.8 780.8,377.8 807.1,384.1 768.2,389.8 753.4,397.4 742.2,405.4 763.8,412.4 765.8,419.8 765.8,428.2 770.3,434.8 754.3,442.7 748.9,447.7 761.3,455.8 763.5,462.0 773.0,468.0 766.7,473.4 760.6,479.2 766.1,484.8 767.1,490.4 805.6,498.5 816.2,506.1 771.4,512.5 764.7,517.7 775.4,523.9 776.1,529.1 766.7,534.2 770.1,540.0 765.1,544.6 772.9,549.5 783.7,556.6 761.4,563.3 769.9,569.7 787.6,577.1 776.5,583.2 778.8,587.9 782.8,594.9 779.5,601.0 778.4,609.5 779.2,616.8 777.6,623.2 778.0,629.5 778.3,636.1 771.3,642.6 768.0,648.5 775.2,656.1 775.4,663.0 779.9,669.0 781.6,676.8 777.3,684.9 776.8,691.5 781.4,696.4 779.5,703.9 777.4,710.5 769.1,718.7 766.5,725.3 770.5,731.5 767.4,737.4 781.7,742.0 783.9,747.6 774.0,754.9 766.4,762.5 761.0,767.7 768.9,774.3 767.5,779.4 762.6,787.8 765.8,794.3 759.1,801.6 769.8,806.6 792.7,814.9 774.4,820.0 771.7,825.2 773.7,832.1 772.7,839.9 756.6,847.5 766.0,854.3"/><polyline points="757.6,7.1 777.3,11.8 778.5,18.2 747.3,25.8 744.5,31.9 779.6,39.6 766.2,45.9 729.1,50.4 742.1,55.3 759.3,60.2 727.2,67.2 729.3,74.4 739.9,82.6 714.7,89.1 743.6,96.1 763.7,102.8 745.5,110.1 725.6,115.9 730.5,121.3 769.7,127.9 799.3,135.5 736.5,143.1 744.8,150.7 724.1,158.3 730.6,163.7 744.5,171.0 742.3,177.6 711.4,183.1 733.2,190.5 752.5,198.4 748.1,205.9 761.6,210.7 746.0,218.0 728.9,224.5 753.7,230.4 755.5,236.6 738.2,241.8 721.8,248.9 731.4,254.3 729.3,259.5 730.2,264.5 743.2,272.0 736.2,278.3 752.6,284.2 729.7,289.1 734.4,295.5 746.2,303.3 741.0,310.1 740.2,314.9 734.7,319.5 741.7,325.5 737.7,330.8 728.6,338.6 737.5,345.1 736.4,350.6 738.9,357.9 750.3,364.7 735.4,371.0 757.6,375.7 775.6,383.9 756.8,388.6 751.7,396.9 743.2,404.5 748.2,409.8 767.5,417.9 764.9,424.4 768.9,431.6 739.8,439.0 757.1,446.9 746.4,452.7 752.0,461.2 760.9,469.0 761.5,473.9 751.8,479.9 767.3,485.5 778.7,491.8 763.9,497.5 762.0,502.5 755.4,508.9 757.7,514.5 759.8,521.5 749.0,526.8 761.8,533.0 747.8,537.7 754.9,544.1 761.5,550.3 774.9,558.4 775.0,565.0 770.3,569.6 777.6,576.0 770.4,583.9 777.8,590.2 769.1,595.0 769.4,600.2 769.8,606.3 771.3,614.6 780.5,620.3 791.3,626.5 777.7,631.5 774.6,637.5 767.5,643.1 765.0,650.0 764.0,656.7 766.2,664.0 768.3,670.1 765.7,676.3 770.6,681.6 782.7,687.4 771.2,694.9 766.3,700.5 753.6,706.5 778.8,713.9 755.1,718.5 753.5,725.2 763.2,731.8 765.3,740.0 757.3,747.1 762.0,754.2 768.6,760.2 774.6,765.7 766.2,771.4 770.7,779.0 771.5,784.8 774.4,789.7 774.8,795.3 789.7,799.9 776.0,806.1 794.7,813.9 791.3,822.2 771.1,827.6 780.4,832.7 771.7,840.4 775.7,848.9 781.4,855.3"/><polyline points="783.9,7.1 786.9,13.7 791.1,20.5 793.6,25.7 779.8,31.0 772.4,39.2 772.1,47.3 759.0,54.2 799.0,60.1 768.5,64.8 783.9,70.7 764.5,75.7 750.5,80.6 735.2,87.3 730.0,95.2 749.8,102.5 776.5,110.0 755.6,116.0 762.9,123.4 766.2,130.3 734.7,138.2 730.2,146.0 760.7,153.4 738.2,158.4 752.1,166.4 795.1,171.5 769.7,177.9 761.2,185.6 755.3,192.7 771.9,201.1 762.1,205.6 772.3,213.8 777.8,220.8 763.5,226.3 748.6,232.6 766.8,240.6 752.0,246.9 742.6,252.2 737.7,259.6 759.1,264.4 741.6,272.2 749.0,279.7 751.1,286.6 750.9,291.3 753.1,297.9 748.7,305.5 756.6,313.2 759.2,317.9 763.3,324.9 755.6,330.3 770.1,334.9 759.9,340.2 754.4,348.1 750.2,355.3 744.2,360.1 762.6,365.7 779.0,371.2 798.3,377.7 778.5,384.6 775.1,389.5 777.1,395.5 760.0,401.3 769.6,406.9 782.1,411.8 777.7,418.5 762.9,423.4 761.3,430.6 772.2,438.9 761.3,446.5 804.3,451.1 837.2,457.2 824.4,463.8 806.8,470.7 789.8,477.4 797.2,482.3 784.5,490.1 768.0,496.8 772.7,504.4 774.1,508.9 769.7,513.5 768.1,519.5 771.5,524.9 788.1,532.7 775.2,537.3 774.1,542.4 769.3,549.5 786.0,556.0 783.3,561.6 766.2,568.3 765.8,573.0 764.2,579.4 777.1,586.0 774.5,591.4 768.5,599.1 769.4,604.6 773.1,610.7 788.9,618.0 782.4,624.5 795.2,630.3 787.0,637.4 781.1,644.5 781.7,652.0 770.3,660.3 782.0,668.6 801.7,676.3 774.4,684.0 779.9,690.3 800.6,698.4 798.4,705.3 802.1,713.8 775.7,718.6 773.6,724.8 782.9,729.8 812.9,734.3 790.7,739.1 798.3,745.0 780.9,751.1 796.5,756.9 797.5,762.6 784.3,768.8 774.8,777.0 784.6,783.2 787.5,788.3 797.2,793.9 792.9,800.1 814.7,805.0 823.2,813.1 786.3,818.1 795.7,822.9 792.8,830.5 798.2,835.7 790.8,840.4 779.9,846.4 776.7,851.1 787.0,857.8"/><polyline points="756.3,7.1 757.1,14.5 747.3,20.5 741.3,25.2 799.4,32.9 791.1,39.7 771.7,44.4 754.5,51.2 743.6,58.4 768.0,64.5 745.5,72.9 760.7,78.9 756.9,85.9 762.6,90.9 750.5,97.5 751.9,103.7 754.8,111.5 746.4,119.6 751.9,125.5 760.9,132.8 736.9,138.1 741.6,146.4 767.6,152.3 781.0,160.1 736.5,166.7 730.6,174.8 759.7,179.9 761.1,185.4 764.3,193.0 774.0,201.1 739.5,209.4 757.2,214.8 780.0,220.5 755.9,228.6 752.1,233.9 747.8,240.5 740.0,248.0 737.3,253.3 733.1,261.4 745.6,266.4 735.7,273.9 735.8,281.6 745.4,289.4 738.3,296.5 738.8,304.2 735.2,312.2 747.4,317.7 762.6,323.3 760.6,330.5 756.4,336.2 760.1,341.9 754.8,347.1 736.5,353.8 747.3,358.5 746.9,364.9 759.3,372.7 760.2,378.3 757.4,385.9 746.7,392.5 743.7,400.3 745.5,406.6 751.3,411.3 757.2,419.3 752.1,424.1 754.4,431.2 765.8,437.2 776.2,445.0 754.3,453.0 756.4,457.9 769.9,465.3 782.4,473.2 772.9,481.1 764.2,487.6 768.4,494.1 761.0,499.0 782.6,504.5 775.1,510.8 773.9,519.2 770.7,527.6 767.4,534.0 773.0,542.2 769.4,550.5 758.5,558.8 767.7,564.4 751.6,572.2 750.1,577.8 752.6,583.0 766.0,589.9 753.1,597.5 759.8,604.8 774.8,610.2 782.2,615.6 769.9,621.4 760.6,629.8 760.3,637.8 769.1,645.7 762.4,652.0 761.3,660.2 763.9,668.5 765.7,676.4 753.6,682.7 763.0,690.7 767.3,698.0 778.8,703.3 768.5,708.7 773.0,714.0 765.9,722.4 753.5,727.4 753.5,732.2 753.7,740.4 757.9,745.6 775.6,750.1 774.3,755.7 769.2,763.7 764.6,771.2 773.4,777.4 792.1,784.6 790.8,789.4 780.4,797.5 776.5,802.7 771.3,809.7 775.5,817.9 756.5,825.8 769.5,833.8 762.6,840.4 750.5,848.2 750.4,855.7"/><polyline points="829.9,7.1 848.9,12.1 839.5,19.0 884.0,26.2 864.0,34.2 890.2,39.9 849.6,46.1 828.6,53.4 815.1,60.4 859.5,67.5 838.9,73.8 834.9,79.7 781.3,84.7 782.9,90.4 773.6,95.1 828.5,101.1 803.6,108.5 844.9,113.7 825.5,121.2 870.1,127.7 837.8,134.0 876.3,141.7 881.4,149.9 814.9,155.9 814.7,163.9 786.6,171.7 854.9,178.2 845.7,186.1 843.1,194.2 826.5,201.0 820.2,208.7 854.9,213.5 810.2,218.0 810.7,226.0 814.8,232.2 810.0,238.5 820.6,245.3 821.0,253.2 773.2,258.2 777.0,266.0 779.2,272.0 792.9,279.5 780.0,287.6 794.4,295.9 795.6,304.0 796.2,310.6 788.0,318.9 782.8,323.9 798.7,329.7 790.9,334.9 793.9,342.1 801.8,348.9 793.0,354.5 786.2,360.2 783.1,364.8 784.6,371.1 774.5,377.7 769.1,385.1 780.6,393.6 763.7,399.3 765.6,407.3 766.1,414.1 780.5,421.2 794.3,429.4 810.9,437.9 811.7,446.0 804.4,450.7 805.6,457.6 788.4,464.4 789.8,470.3 813.3,476.3 831.2,484.6 811.1,490.4 814.4,496.6 801.1,502.2 797.5,508.5 808.6,515.8 781.8,521.7 806.1,527.8 792.6,533.3 774.9,538.9 791.0,544.7 781.5,549.5 789.4,555.4 800.7,560.4 783.3,566.5 786.1,572.6 799.8,577.9 806.1,583.9 791.7,590.7 787.6,597.8 794.7,602.3 807.8,609.3 813.2,614.8 797.5,621.1 813.6,625.7 816.2,631.8 806.5,637.4 804.1,644.0 807.7,651.5 818.3,656.5 817.5,662.4 824.8,667.7 798.9,672.8 790.7,680.6 798.8,686.1 789.8,692.4 780.8,700.5 795.3,705.4 814.3,710.0 804.2,715.6 809.5,720.8 792.2,727.4 795.7,732.4 783.8,738.9 793.0,746.0 777.3,751.6 795.5,759.3 858.6,767.4 838.1,772.7 788.6,779.1 783.3,785.8 802.3,792.3 810.5,799.8 782.8,808.3 788.1,815.5 800.3,821.6 807.7,829.7 827.2,834.5 821.2,839.8 802.0,847.9 814.5,853.4"/><polyline points="794.8,7.1 773.5,13.3 770.4,20.1 765.1,25.9 769.1,32.6 754.9,37.6 719.6,45.2 731.6,52.2 790.3,60.0 751.4,65.3 735.7,70.2 772.7,74.8 763.5,81.4 761.0,88.3 729.0,94.0 721.8,99.8 722.3,106.7 722.8,111.5 745.7,118.6 795.3,127.0 788.3,133.0 809.9,138.0 771.8,143.7 763.7,148.8 737.2,153.7 726.7,159.8 740.4,165.4 750.4,172.9 766.0,179.1 805.8,186.5 794.0,194.1 783.7,199.3 755.0,203.8 753.4,209.0 744.2,217.1 740.8,225.0 742.9,231.1 740.2,236.3 753.4,242.6 765.4,249.4 758.3,256.0 754.3,262.6 737.1,270.0 730.3,275.9 724.4,281.1 744.5,287.6 745.9,295.8 750.2,302.2 747.4,309.0 757.6,316.5 770.1,321.5 751.7,326.4 743.6,332.3 750.7,338.4 749.0,342.9 750.8,348.4 762.0,353.0 750.5,358.0 745.5,364.6 757.6,369.2 755.8,374.9 765.2,382.0 762.1,387.2 765.8,393.8 764.6,399.7 764.4,407.4 763.0,414.7 762.6,421.7 754.5,427.1 759.4,431.7 750.7,437.9 759.7,444.0 741.6,449.1 752.4,456.3 748.3,464.8 750.8,471.8 767.6,477.3 766.1,485.7 759.8,491.9 753.6,499.9 762.1,504.9 761.5,510.9 759.6,516.8 760.7,522.5 768.8,530.3 764.6,537.5 768.8,544.5 768.0,552.5 770.7,560.6 768.8,568.7 765.3,575.7 756.9,583.2 771.7,588.7 752.6,595.7 724.0,603.5 730.9,608.7 755.7,614.6 760.2,621.4 764.5,628.3 768.1,635.1 768.7,640.6 773.4,647.9 766.2,653.4 769.1,658.5 763.2,663.0 768.0,671.3 763.8,676.6 772.5,682.6 775.8,689.3 778.6,696.0 791.8,702.1 799.8,708.1 776.6,714.6 776.1,722.0 779.3,728.9 774.7,735.4 771.5,743.0 771.6,748.8 768.6,757.1 766.6,763.4 752.8,771.5 752.6,779.8 759.0,787.2 763.0,792.2 752.0,798.3 754.5,806.6 761.0,814.0 751.3,820.5 751.1,828.9 755.7,835.6 769.7,841.4 757.3,849.9 765.3,858.2"/><polyline points="799.2,7.1 806.8,15.3 806.4,21.4 809.0,26.6 792.3,33.1 785.3,40.1 761.2,45.8 727.9,54.0 753.3,62.2 773.6,69.7 813.2,76.5 809.1,82.5 755.1,87.8 751.8,92.9 763.0,101.4 759.5,109.0 747.6,116.1 762.5,122.4 790.7,128.4 771.6,133.7 805.4,140.6 781.0,147.8 767.3,155.0 787.9,161.2 764.1,168.7 825.7,174.4 888.0,180.5 812.7,185.4 725.7,190.7 747.8,197.9 785.3,205.8 785.7,212.0 792.0,220.3 752.5,226.8 761.4,233.3 747.8,238.4 751.4,243.4 740.3,249.6 738.3,256.6 739.0,263.4 725.1,268.7 722.1,275.7 726.1,280.7 742.0,288.0 740.0,292.6 742.7,300.8 744.5,308.9 732.9,314.0 750.2,322.2 752.6,330.1 745.2,336.2 747.5,343.3 740.5,349.8 742.2,356.2 742.0,360.9 746.0,368.1 750.9,374.8 748.2,379.6 754.4,384.5 758.8,389.2 754.9,397.6 747.7,402.6 751.6,408.7 756.3,413.6 761.2,419.4 765.2,426.9 762.8,432.9 765.5,438.5 754.7,446.7 758.8,454.2 755.1,459.9 758.5,466.7 748.3,473.8 744.4,481.6 743.7,487.3 744.2,493.7 744.6,499.0 755.9,504.6 757.5,509.1 758.4,515.4 750.4,522.4 747.0,527.6 747.6,535.7 748.3,544.2 755.6,548.9 753.8,555.1 749.4,562.5 752.5,569.1 760.1,577.5 760.7,584.4 763.1,590.8 754.2,598.6 751.4,603.8 759.6,610.6 764.6,617.1 765.5,625.3 771.4,632.2 763.0,640.5 760.5,648.8 768.5,656.1 775.9,662.1 776.4,670.0 776.6,675.6 779.2,681.6 766.0,689.3 773.7,697.4 761.9,705.8 770.2,711.2 774.8,715.8 774.2,721.2 768.0,727.8 769.6,735.9 778.8,743.8 768.7,752.3 753.3,757.9 754.0,764.6 753.5,771.2 756.8,776.6 768.6,781.2 773.0,786.0 773.9,792.7 774.3,797.9 778.0,805.8 771.2,810.6 751.5,815.2 751.3,822.8 751.1,828.5 753.2,836.8 756.1,842.0 760.1,848.6 756.5,854.8"/><polyline points="796.3,7.1 805.3,11.7 797.2,19.4 819.2,25.6 820.5,31.8 835.9,38.2 814.2,44.3 824.0,50.3 814.8,58.7 849.1,63.7 834.4,71.8 821.0,78.1 783.6,83.2 774.1,91.5 748.7,99.1 820.7,105.6 959.5,113.3 889.5,119.7 760.0,124.7 769.2,130.8 747.1,138.4 743.4,143.4 748.1,151.4 763.7,159.1 743.9,164.7 789.1,171.3 836.2,178.1 827.2,186.1 809.9,193.7 778.5,201.3 780.4,209.1 776.8,214.5 758.9,220.9 738.6,226.2 734.9,232.1 743.1,239.1 752.9,244.1 746.9,252.4 749.0,259.0 763.3,263.8 780.8,268.4 741.4,275.7 745.8,280.8 744.2,288.7 762.0,295.8 758.9,303.1 763.2,309.8 758.4,314.8 762.4,319.4 732.9,326.5 745.8,334.1 760.8,341.6 761.0,347.8 771.6,355.1 756.9,363.3 762.4,370.0 776.2,377.9 768.1,384.1 772.9,391.3 768.2,398.5 784.1,404.3 783.4,410.8 791.0,417.1 779.9,422.2 781.9,427.5 761.9,435.4 753.2,440.4 767.0,447.9 768.2,453.9 777.1,461.2 767.1,469.2 766.6,477.3 764.8,483.1 760.5,490.8 763.2,497.4 767.6,504.0 771.7,512.2 777.3,516.8 789.4,523.2 794.9,529.1 787.6,534.3 797.2,541.9 783.3,550.3 783.8,558.3 783.2,565.0 778.5,573.3 785.6,579.3 806.3,586.5 790.4,593.0 791.7,599.1 789.1,605.8 799.2,613.2 773.9,621.1 777.2,627.4 758.6,634.9 767.5,641.3 791.5,648.7 776.6,656.4 776.9,662.0 792.7,669.9 777.0,677.4 768.5,685.0 775.9,691.0 787.7,699.4 804.0,707.8 788.3,712.8 799.0,717.8 808.6,725.0 787.7,730.3 799.8,735.4 790.9,743.6 818.2,749.9 805.3,755.7 841.7,760.2 830.6,766.0 801.8,773.8 799.5,780.8 796.3,788.7 790.6,794.4 804.5,799.0 774.0,805.5 776.2,810.6 778.6,817.0 801.4,823.5 778.8,829.3 804.6,833.9 786.7,841.8 798.0,849.1 816.0,855.6"/><polyline points="834.7,7.1 828.6,15.6 884.0,21.6 854.7,29.7 851.9,35.6 857.3,43.2 905.1,48.7 865.1,54.9 826.5,61.4 901.2,69.6 839.4,75.9 810.5,81.5 851.4,87.2 799.7,94.9 776.5,102.5 765.6,109.2 768.9,116.2 845.7,121.9 896.8,128.9 898.9,137.2 829.3,145.3 835.2,152.8 843.3,157.9 831.5,162.8 866.2,169.3 865.4,176.3 823.0,181.4 770.1,188.7 823.6,197.0 836.0,204.9 820.0,212.7 840.5,218.3 859.7,224.6 850.8,230.7 805.3,235.9 809.0,243.6 769.5,250.4 760.2,255.2 765.8,261.0 791.7,266.6 778.8,273.9 792.3,280.3 793.2,286.9 792.1,292.5 792.5,299.1 795.5,303.9 796.7,312.0 788.6,320.2 798.9,328.5 798.6,334.4 798.9,342.3 791.2,347.7 782.2,352.6 789.7,360.7 783.4,365.7 791.8,374.0 794.0,380.5 786.1,387.3 800.1,395.6 802.6,401.8 793.6,407.7 784.5,415.0 795.9,421.7 794.1,428.3 791.4,434.8 785.3,440.3 812.0,448.6 803.2,453.4 812.5,458.9 812.9,466.2 813.3,474.6 813.7,482.1 809.2,487.5 800.3,492.5 782.9,499.8 798.5,507.4 801.0,514.2 793.0,519.6 792.9,528.0 792.0,534.4 806.1,542.7 803.5,547.2 794.8,555.2 800.0,560.7 795.7,566.9 804.6,574.7 786.4,582.9 798.3,589.4 794.0,594.1 805.7,600.9 805.9,605.6 812.9,611.2 800.5,619.2 818.7,624.5 824.1,629.3 829.8,634.3 830.8,639.6 827.5,645.0 824.1,651.9 814.5,659.6 803.7,666.4 793.4,671.8 829.2,677.0 831.2,684.6 816.9,690.5 828.2,697.9 825.5,704.3 838.6,709.9 817.9,717.7 829.5,723.2 836.0,728.2 829.6,736.3 819.3,743.6 811.5,750.6 824.0,757.1 822.3,762.5 831.7,769.1 814.3,774.0 810.3,780.2 798.5,786.9 790.9,793.3 812.4,798.3 801.8,804.8 796.7,812.4 803.8,820.8 801.6,828.9 813.6,834.3 801.9,841.5 804.3,847.7 811.2,855.1"/><polyline points="761.4,7.1 741.4,14.3 750.2,20.8 769.9,29.1 777.4,35.9 754.1,40.9 754.1,46.4 746.5,51.6 709.1,58.1 724.6,66.6 734.8,72.0 753.6,80.1 746.5,85.5 744.5,94.0 763.4,101.5 752.0,108.3 766.3,116.0 754.5,122.6 718.1,129.3 719.6,136.6 743.2,142.8 735.2,149.5 725.8,154.4 710.2,160.8 742.1,166.3 768.6,173.3 739.6,180.9 764.4,186.0 751.9,191.8 752.1,197.6 743.4,203.9 741.9,211.0 741.0,215.7 739.5,220.7 739.8,226.7 745.1,232.1 767.6,240.0 771.1,244.9 749.1,250.8 751.7,258.4 755.8,265.5 737.7,270.4 746.3,278.5 747.1,283.1 734.4,288.5 732.5,296.4 736.1,304.8 740.1,313.2 753.2,320.2 739.3,325.1 734.4,332.0 743.4,338.6 753.3,345.8 753.6,354.0 753.5,361.5 756.5,369.4 754.4,374.1 757.1,380.5 758.7,388.9 735.7,395.0 742.0,402.9 742.7,410.4 744.9,418.1 746.0,425.2 740.7,432.6 749.5,441.1 753.2,447.5 751.7,454.9 754.6,461.4 754.2,467.0 749.9,472.9 755.4,481.4 769.4,487.7 759.8,493.8 764.3,501.9 768.4,508.6 760.9,515.7 759.4,524.0 761.8,529.0 747.8,535.0 733.0,540.8 745.2,546.5 762.4,551.2 764.2,556.7 762.3,562.3 766.4,569.3 771.5,577.4 762.0,582.0 760.0,587.6 769.1,594.8 781.5,602.9 785.0,607.5 767.5,613.4 758.7,619.8 768.6,624.4 774.8,629.2 771.3,636.4 792.8,644.5 786.9,652.2 776.2,659.0 773.4,664.4 767.3,670.2 772.6,678.7 777.5,686.8 777.5,692.8 783.2,698.3 779.6,702.8 768.1,710.3 760.1,716.8 770.2,722.2 765.9,730.0 753.5,736.5 767.3,741.6 761.4,748.3 775.2,755.5 786.7,760.7 782.7,768.6 779.2,774.6 775.4,780.1 774.0,787.1 760.0,794.6 762.3,801.0 763.4,807.3 760.5,814.9 777.9,819.9 775.6,825.3 777.7,830.6 784.3,835.5 763.8,843.8 750.4,850.2 801.8,856.8"/><polyline points="744.0,7.1 749.2,13.8 776.0,20.3 750.2,24.9 761.5,30.9 770.7,37.5 757.5,42.6 738.2,49.0 719.7,55.3 734.2,61.4 748.1,66.3 712.7,72.4 709.1,80.0 729.9,88.5 714.7,95.3 712.4,100.0 719.1,104.9 727.5,110.7 741.5,115.3 728.3,121.0 717.5,128.6 722.3,137.0 731.9,142.1 713.2,150.5 724.3,156.8 710.4,163.8 710.7,170.8 711.1,177.3 727.8,183.2 733.2,190.8 723.6,196.6 723.0,202.7 753.7,208.7 729.3,213.7 731.4,219.7 742.5,227.8 741.1,232.8 754.3,237.4 765.9,242.1 745.0,246.8 734.9,253.6 718.5,259.7 749.3,265.9 714.2,274.2 721.4,280.8 746.9,286.1 739.1,293.5 731.0,300.6 720.0,305.4 727.7,310.4 728.8,315.8 739.4,323.9 741.1,331.7 729.5,339.1 740.2,347.1 734.3,354.8 742.6,359.4 751.9,367.7 745.9,376.1 740.7,382.1 740.5,389.2 742.2,395.5 740.9,401.0 741.0,405.7 747.2,411.8 756.7,417.0 747.9,425.0 748.2,429.6 766.4,436.0 754.1,441.1 758.3,447.9 766.3,454.2 767.1,459.5 752.4,465.9 748.6,472.4 759.7,479.2 756.9,484.6 755.3,490.0 744.3,495.3 744.7,499.9 745.2,506.0 750.0,514.2 756.6,522.1 760.9,527.1 752.0,533.5 748.0,540.4 755.3,546.9 754.2,552.1 755.3,557.9 749.4,564.1 753.0,570.6 760.1,577.2 760.2,585.1 773.8,592.2 766.4,600.6 757.0,608.8 767.9,616.1 767.4,620.7 772.5,626.2 762.5,633.4 766.1,640.4 767.8,647.0 774.4,652.4 769.6,657.1 774.9,664.5 771.7,671.1 759.4,676.5 768.3,684.5 766.2,690.6 762.9,695.2 764.3,701.9 764.2,709.1 762.8,713.9 753.6,720.0 753.5,727.5 767.8,734.9 762.3,740.5 760.1,745.4 753.4,751.9 753.4,760.3 773.3,765.5 770.2,772.7 766.0,780.3 755.9,787.5 759.4,793.2 754.9,798.5 756.0,804.7 760.3,811.9 766.1,819.2 779.7,825.9 766.8,833.9 767.6,840.3 752.0,846.5 750.4,854.3"/><polyline points="781.1,7.1 769.4,11.7 751.1,19.7 742.8,26.6 768.7,34.9 773.8,43.2 739.1,50.2 742.6,55.7 753.7,62.2 757.3,68.9 753.3,73.7 718.4,78.2 725.8,86.3 715.5,92.7 713.0,98.7 709.1,106.2 730.4,113.1 724.8,119.2 744.0,126.3 717.6,133.2 748.6,139.9 757.6,148.1 765.0,156.5 744.7,161.7 733.6,167.7 754.5,172.5 790.5,178.8 758.1,185.4 742.0,191.2 763.1,196.3 768.0,201.5 799.1,207.1 764.6,213.5 760.0,218.2 757.3,223.0 777.8,228.9 794.6,236.8 771.9,244.3 725.4,249.3 729.0,254.9 727.8,261.8 745.5,266.7 733.8,272.9 730.7,280.2 733.9,286.0 746.4,292.0 732.9,298.0 746.4,305.5 747.8,311.0 737.9,317.3 742.1,324.4 751.5,329.2 742.2,334.1 743.0,339.5 741.8,345.1 742.3,353.1 747.9,360.7 743.5,366.4 752.2,373.6 764.0,378.2 759.4,385.8 764.1,394.3 744.1,399.6 758.6,406.6 760.2,414.0 760.2,419.0 756.8,425.3 761.1,431.0 747.9,438.0 755.5,444.0 751.4,449.1 754.0,457.5 778.5,464.9 765.4,470.2 751.8,476.7 750.2,482.7 756.4,489.2 762.7,495.0 759.6,501.1 763.6,506.7 764.4,513.5 755.5,518.3 762.6,523.6 761.0,528.3 747.4,532.9 750.7,537.5 748.2,543.0 759.3,550.3 757.1,555.1 749.5,563.0 751.6,569.9 750.1,577.4 750.4,583.6 756.8,588.3 754.7,594.6 753.5,599.3 751.4,604.5 755.5,612.0 762.8,616.5 763.9,621.9 767.4,629.8 765.1,638.0 773.0,645.3 769.3,650.2 776.8,657.8 766.0,665.1 762.7,670.6 778.8,678.4 774.3,686.9 764.2,694.7 790.8,699.4 773.8,707.6 771.5,715.5 758.3,721.6 755.7,728.4 753.5,735.7 768.7,740.4 761.2,746.5 774.1,754.8 770.9,760.5 759.7,766.2 767.0,771.7 767.7,778.0 764.1,784.7 767.6,791.0 761.7,797.6 753.1,803.4 756.0,811.6 772.2,819.6 776.9,825.1 785.0,833.2 759.5,838.8 768.9,845.5 759.5,851.3"/><polyline points="880.0,215.0 925.0,224.0 967.7,229.6 923.6,247.0 853.5,266.2 820.0,272.0"/><polyline points="830.0,680.0 855.0,684.0 873.0,689.0 850.0,695.0 828.0,700.0"/><polyline points="830.0,795.0 860.0,800.0 880.0,806.0 850.0,812.0 855.0,820.0 882.0,829.0 850.0,836.0 830.0,840.0"/></g>
<polyline points="866.9,8.8 854.2,14.5 805.9,20.8 815.0,26.0 806.9,31.3 757.5,36.6 776.4,41.8 808.0,42.9 869.0,46.0 892.1,48.1 939.4,51.3 947.8,56.5 943.6,68.1 944.7,72.3 927.9,83.9 942.6,89.1 952.0,94.4 927.9,98.6 892.1,100.7 869.0,102.8 826.9,108.1 826.9,126.0 841.6,130.2 812.2,141.3 856.3,145.5 858.5,151.8 871.1,162.3 845.8,167.6 805.9,170.8 789.0,171.8 757.5,178.1 781.7,184.4 786.9,188.6 757.5,193.9 756.4,208.6 764.8,219.1 752.2,224.4 748.0,236.0 750.1,245.4 778.5,250.7 779.6,257.0 769.1,266.5 779.6,269.6 779.6,289.2 761.7,296.6 770.1,305.0 772.2,312.3 779.6,317.6 758.5,330.2 784.8,339.7 789.0,355.5 785.9,370.2 786.9,384.9 789.0,399.6 786.9,424.4 786.9,437.1 780.0,450.0 761.7,457.1 776.4,460.2 780.0,475.0 771.2,489.7 776.4,491.8 761.7,510.7 772.0,516.0 763.8,521.2 776.4,524.4 790.0,540.0 799.6,558.7 790.0,590.0 780.6,607.0 799.6,623.9 795.0,640.0 777.5,651.2 790.0,655.0 786.9,665.5 784.8,681.3 791.1,686.6 784.8,697.1 791.1,703.4 790.1,732.8 788.0,738.1 781.7,747.6 780.6,758.9 791.1,767.3 789.0,776.8 796.4,780.0 793.2,793.6 810.0,800.0 824.8,804.2 818.5,809.4 805.0,830.0 806.0,852.0" fill="none" stroke="#ff00ff" stroke-width="3" stroke-linejoin="round"/>
<polyline points="788.0,8.8 736.4,15.5 747.0,21.8 776.4,26.0 791.1,31.3 776.4,38.7 786.9,42.9 763.8,49.2 764.8,54.4 724.9,59.3 740.7,70.2 757.5,75.5 752.2,82.8 765.9,92.3 759.6,97.6 742.8,102.8 770.1,108.1 771.2,114.4 808.0,118.6 866.9,121.7 917.3,124.9 951.0,130.8 950.0,135.0 944.7,141.3 933.1,146.6 904.7,149.7 871.1,156.0 817.4,161.3 841.6,166.6 871.1,171.8 904.7,175.0 935.2,177.1 945.7,182.3 921.6,191.8 902.6,195.0 873.2,198.1 858.5,204.4 853.2,208.6 869.0,214.9 881.6,217.0 908.9,220.2 881.6,224.4 850.0,226.5 791.1,231.8 728.0,236.4 744.9,248.6 727.0,259.1 761.7,269.6 765.9,270.3 747.0,277.6 737.5,286.0 753.3,297.6 735.4,310.2 741.7,320.7 723.8,327.1 733.3,334.4 744.9,344.9 751.2,355.5 767.0,363.9 751.2,378.6 759.6,389.1 771.2,399.6 770.1,406.6 780.0,418.0 788.0,428.7 782.0,445.0 778.0,465.0 768.0,483.3 774.3,487.6 773.3,493.9 774.3,504.4 770.1,514.9 776.4,520.0 780.6,525.0 776.4,536.6 770.1,546.0 783.8,556.6 785.0,565.0 781.7,572.3 747.0,580.1 744.9,586.0 782.7,595.5 776.4,607.0 778.5,613.3 774.3,621.8 773.3,632.3 782.7,639.6 797.5,649.1 782.7,657.5 792.2,661.3 800.0,670.0 809.0,680.2 800.0,695.0 791.1,709.7 779.6,720.2 776.4,736.0 769.1,742.3 791.1,746.3 793.2,758.9 779.6,769.4 797.5,772.6 818.5,775.8 828.0,782.1 819.5,789.4 797.5,809.4 783.8,825.2 781.7,836.8 791.1,844.1 797.5,851.5" fill="none" stroke="#ff0000" stroke-width="3" stroke-linejoin="round"/>
<rect x="809.20" y="20.61" width="16.10" height="105.14" fill="#b3b3b3" stroke="#000" stroke-width="2.5"/>
<line x1="817.90" y1="21.61" x2="817.90" y2="124.75" stroke="#000" stroke-width="2.7"/>
<rect x="871.20" y="20.61" width="19.70" height="105.14" fill="#ff9999" stroke="#000" stroke-width="2.5"/>
<line x1="882.60" y1="21.61" x2="882.60" y2="124.75" stroke="#ff0000" stroke-width="3"/>
<rect x="791.70" y="125.75" width="13.60" height="105.14" fill="#b3b3b3" stroke="#000" stroke-width="2.5"/>
<line x1="798.90" y1="126.75" x2="798.90" y2="229.89" stroke="#000" stroke-width="2.7"/>
<rect x="882.80" y="125.75" width="18.20" height="105.14" fill="#ff9999" stroke="#000" stroke-width="2.5"/>
<line x1="893.20" y1="126.75" x2="893.20" y2="229.89" stroke="#ff0000" stroke-width="3"/>
<rect x="781.80" y="230.89" width="7.50" height="105.14" fill="#b3b3b3" stroke="#000" stroke-width="2.5"/>
<line x1="789.50" y1="231.89" x2="789.50" y2="335.03" stroke="#000" stroke-width="2.7"/>
<rect x="789.80" y="230.89" width="59.70" height="105.14" fill="#ff9999" stroke="#000" stroke-width="2.5"/>
<line x1="830.70" y1="231.89" x2="830.70" y2="335.03" stroke="#ff0000" stroke-width="3"/>
<rect x="791.70" y="336.03" width="16.50" height="105.14" fill="#b3b3b3" stroke="#000" stroke-width="2.5"/>
<line x1="800.60" y1="337.03" x2="800.60" y2="440.16" stroke="#000" stroke-width="2.7"/>
<rect x="772.80" y="336.03" width="10.20" height="105.14" fill="#ff9999" stroke="#000" stroke-width="2.5"/>
<line x1="778.90" y1="337.03" x2="778.90" y2="440.16" stroke="#ff0000" stroke-width="3"/>
<rect x="788.20" y="441.16" width="14.80" height="105.14" fill="#b3b3b3" stroke="#000" stroke-width="2.5"/>
<line x1="797.50" y1="442.16" x2="797.50" y2="545.30" stroke="#000" stroke-width="2.7"/>
<rect x="777.60" y="441.16" width="9.20" height="105.14" fill="#ff9999" stroke="#000" stroke-width="2.5"/>
<line x1="783.80" y1="442.16" x2="783.80" y2="545.30" stroke="#ff0000" stroke-width="3"/>
<rect x="801.40" y="546.30" width="15.50" height="105.14" fill="#b3b3b3" stroke="#000" stroke-width="2.5"/>
<line x1="810.70" y1="547.30" x2="810.70" y2="650.44" stroke="#000" stroke-width="2.7"/>
<rect x="786.40" y="546.30" width="10.30" height="105.14" fill="#ff9999" stroke="#000" stroke-width="2.5"/>
<line x1="791.60" y1="547.30" x2="791.60" y2="650.44" stroke="#ff0000" stroke-width="3"/>
<rect x="806.20" y="651.44" width="0.50" height="105.14" fill="#b3b3b3" stroke="#000" stroke-width="2.5"/>
<line x1="806.50" y1="652.44" x2="806.50" y2="755.58" stroke="#000" stroke-width="2.7"/>
<rect x="793.70" y="651.44" width="11.60" height="105.14" fill="#ff9999" stroke="#000" stroke-width="2.5"/>
<line x1="799.80" y1="652.44" x2="799.80" y2="755.58" stroke="#ff0000" stroke-width="3"/>
<rect x="810.20" y="756.58" width="6.70" height="105.14" fill="#b3b3b3" stroke="#000" stroke-width="2.5"/>
<line x1="811.40" y1="757.58" x2="811.40" y2="860.71" stroke="#000" stroke-width="2.7"/>
<rect x="798.70" y="756.58" width="10.10" height="105.14" fill="#ff9999" stroke="#000" stroke-width="2.5"/>
<line x1="804.80" y1="757.58" x2="804.80" y2="860.71" stroke="#ff0000" stroke-width="3"/>
</g>
<g clip-path="url(#cpd)">
<g fill="none" stroke="#ffc8c8" stroke-width="1.15" stroke-linejoin="round"><polyline points="1111.2,7.1 1132.1,11.8 1123.7,17.6 1113.0,23.1 1148.9,28.5 1118.2,35.8 1080.1,43.1 1098.1,49.6 1052.5,54.4 1082.0,62.4 1070.5,67.2 1130.2,72.7 1070.9,78.8 1075.1,86.1 1122.3,90.9 1198.5,97.6 1128.0,104.2 1092.8,109.9 1087.9,116.2 1191.6,123.8 1082.1,130.6 1082.4,138.1 1081.4,146.1 1149.8,151.5 1125.5,159.1 1070.6,167.4 1132.0,172.0 1085.7,179.1 1116.6,187.0 1053.0,194.7 1057.9,201.2 1044.6,207.2 1053.3,212.3 1060.7,218.4 1079.0,223.1 1127.6,228.8 1112.8,236.4 1047.4,242.9 1047.6,251.1 1023.8,257.2 1022.9,265.6 1031.5,271.8 1035.4,279.4 1041.6,287.0 1026.2,294.5 1024.0,302.6 1030.4,310.3 1025.5,315.9 1024.0,324.3 1029.5,332.3 1027.0,338.8 1043.8,345.7 1047.6,352.3 1050.2,358.2 1044.2,364.1 1040.2,370.0 1054.7,377.4 1026.5,383.2 1024.2,391.0 1041.3,395.6 1023.9,403.6 1064.4,411.4 1090.7,419.4 1028.4,426.9 1024.2,433.3 1025.6,441.4 1023.2,449.3 1024.4,454.1 1036.4,461.5 1025.1,467.3 1022.6,474.6 1030.5,479.1 1028.8,484.4 1045.6,490.2 1038.6,496.4 1040.3,504.5 1023.8,511.6 1018.5,517.8 1018.6,525.5 1019.8,533.3 1027.2,539.0 1020.3,545.6 1032.4,550.7 1018.9,556.3 1024.0,563.0 1018.1,570.7 1030.5,579.0 1033.0,586.9 1020.5,594.2 1031.8,600.0 1025.7,605.4 1027.5,612.3 1031.4,618.1 1023.5,626.2 1037.1,632.6 1023.3,639.2 1043.9,643.7 1024.0,651.1 1025.9,657.0 1026.8,663.4 1020.3,668.1 1028.6,675.2 1044.3,681.4 1039.2,686.3 1051.8,692.9 1032.9,699.8 1049.5,705.4 1045.9,711.1 1028.7,718.7 1020.0,724.3 1029.5,732.4 1044.3,737.8 1026.9,744.9 1044.7,750.3 1043.5,754.9 1058.7,762.9 1055.2,770.9 1058.9,776.0 1027.6,781.8 1041.5,787.1 1047.8,795.2 1041.3,802.0 1026.8,807.3 1033.1,814.8 1031.8,819.4 1022.1,827.1 1026.9,834.3 1043.7,840.4 1030.4,847.8 1026.2,853.9"/><polyline points="1159.3,7.1 1166.1,12.0 1185.8,17.2 1130.8,23.8 1164.1,29.1 1120.5,34.1 1199.0,41.0 1155.0,49.1 1205.0,55.5 1287.6,62.9 1200.0,69.5 1139.4,77.3 1177.5,84.1 1087.2,89.4 1110.5,95.0 1081.9,100.8 1187.0,106.0 1187.7,112.8 1185.2,119.0 1135.0,123.5 1183.7,128.6 1144.4,133.9 1265.7,139.7 1258.8,144.8 1149.9,151.4 1199.8,156.3 1111.7,163.4 1127.3,170.9 1164.1,176.2 1075.9,183.3 1076.2,189.4 1080.6,197.8 1061.3,203.7 1043.8,208.3 1106.2,213.7 1051.2,218.9 1122.8,226.1 1063.9,232.1 1057.2,237.8 1078.4,242.4 1109.4,250.8 1118.2,255.9 1045.3,263.8 1045.4,272.1 1051.1,280.6 1062.1,288.9 1046.6,297.0 1035.8,302.4 1062.9,310.0 1059.6,317.1 1039.0,322.1 1030.6,330.1 1046.3,334.8 1035.1,341.5 1040.1,346.2 1061.6,352.9 1057.2,359.4 1066.7,365.4 1049.6,371.7 1054.6,376.3 1056.1,381.8 1039.0,387.7 1024.4,393.4 1026.9,401.6 1023.0,406.2 1019.2,411.3 1024.7,416.7 1037.5,424.4 1031.7,432.5 1041.3,437.9 1051.3,442.7 1051.5,447.7 1023.1,453.9 1016.9,460.7 1022.7,467.5 1015.5,473.8 1019.0,479.0 1027.0,487.4 1026.5,492.0 1026.8,497.7 1034.7,504.6 1037.3,509.7 1029.9,516.3 1034.4,524.1 1023.7,529.2 1022.2,537.6 1036.7,544.8 1063.9,549.4 1072.4,557.0 1022.9,565.1 1040.9,571.3 1032.1,578.2 1035.3,586.3 1026.8,593.2 1025.8,600.7 1040.0,606.2 1030.6,612.4 1039.4,617.0 1038.0,621.6 1026.9,629.2 1032.1,636.2 1023.8,642.9 1028.4,651.4 1025.5,656.4 1022.1,661.1 1019.5,666.7 1019.8,673.1 1036.8,680.1 1039.4,687.2 1034.5,692.1 1022.3,699.8 1014.7,706.3 1015.6,713.9 1025.4,720.7 1030.3,727.1 1025.1,731.9 1029.3,736.6 1023.8,742.3 1027.2,748.6 1027.7,754.0 1025.9,761.7 1031.2,769.6 1036.0,777.9 1027.6,784.0 1026.9,790.5 1027.0,796.2 1027.5,804.0 1026.5,808.9 1023.0,816.3 1017.5,821.8 1025.3,829.1 1046.6,834.9 1030.2,841.5 1019.8,846.9 1016.8,851.7 1019.7,857.6"/><polyline points="1143.0,7.1 1114.7,12.1 1150.0,20.1 1199.2,25.3 1300.0,32.3 1298.8,39.3 1121.9,44.1 1117.4,50.9 1078.8,58.3 1079.9,64.5 1113.0,71.1 1116.4,77.9 1117.1,85.3 1135.9,90.2 1190.5,95.7 1100.8,101.6 1062.7,108.1 1062.8,113.5 1142.9,120.9 1082.4,126.0 1099.8,133.2 1097.2,139.5 1081.8,145.1 1068.2,153.3 1054.7,159.6 1124.0,167.1 1137.7,172.3 1099.1,177.7 1054.6,186.1 1052.9,194.6 1052.8,203.0 1051.1,209.0 1066.6,214.1 1043.6,222.4 1076.1,228.0 1037.5,233.9 1027.8,241.2 1025.6,247.1 1020.1,252.3 1034.6,260.7 1028.3,265.9 1025.1,274.2 1030.6,280.9 1034.6,289.0 1037.1,295.9 1036.4,302.1 1031.9,309.9 1034.9,316.4 1028.4,321.0 1022.6,329.2 1021.5,334.7 1018.1,340.6 1013.3,346.6 1007.6,351.4 1013.0,356.8 1018.3,363.8 1019.9,371.2 1021.3,379.3 1033.5,385.8 1047.5,391.9 1032.9,400.0 1023.0,406.7 1032.7,412.0 1024.9,418.8 1026.1,426.7 1017.8,432.3 1020.3,437.6 1022.6,443.4 1021.0,449.6 1019.9,457.9 1018.8,463.2 1017.8,467.7 1026.3,473.2 1012.5,479.4 1012.3,486.8 1022.9,494.3 1026.1,501.5 1023.6,506.1 1032.5,513.0 1022.3,520.3 1011.2,524.9 1021.4,531.4 1019.9,539.9 1019.0,547.1 1020.9,554.0 1038.4,561.4 1036.3,569.5 1027.5,575.9 1014.1,580.9 1023.2,585.5 1015.2,593.5 1020.0,598.4 1027.4,603.6 1017.9,611.5 1023.9,618.7 1018.0,627.1 1026.7,635.4 1026.7,643.3 1026.0,650.4 1023.6,658.0 1030.9,665.8 1022.7,674.2 1023.2,681.2 1007.0,689.2 1025.6,696.7 1040.1,701.5 1025.8,706.8 1034.7,712.7 1015.9,719.4 1019.3,727.0 1020.1,735.3 1029.3,741.0 1043.0,745.8 1039.9,750.7 1033.1,757.7 1033.4,763.6 1024.8,770.0 1036.4,778.1 1041.1,784.9 1040.7,792.6 1033.1,798.7 1026.8,804.5 1027.6,810.6 1033.3,816.6 1025.2,821.4 1030.5,827.2 1028.3,832.4 1035.3,838.6 1049.8,844.4 1042.3,849.9 1040.7,856.8"/><polyline points="1082.0,7.1 1056.5,11.9 1071.9,20.4 1056.9,27.8 1062.3,35.2 1070.0,42.1 1020.8,49.2 1000.8,56.9 1036.9,61.7 1063.8,66.2 1072.4,72.2 1017.9,77.7 1028.4,85.5 1006.9,93.9 1003.8,100.2 1000.8,108.4 1029.6,114.2 1062.7,121.8 1071.8,129.4 1025.8,136.5 1036.4,144.5 1028.2,151.7 1025.1,158.1 1001.3,164.8 1025.9,171.4 1012.3,176.5 1024.7,182.4 1032.4,190.7 1036.7,197.8 1001.8,202.4 1006.0,209.2 1023.6,215.0 1009.6,222.4 1010.8,228.6 1016.2,237.1 1024.8,242.0 1016.2,247.3 1018.3,254.7 1018.6,262.5 1033.6,269.2 1022.9,276.9 1010.3,284.5 1013.1,291.9 1017.1,300.1 1019.3,305.1 1012.0,311.1 1025.9,318.9 1015.2,325.6 1018.3,331.5 1013.2,337.0 1010.0,345.5 1013.0,353.1 1013.0,360.1 1009.7,368.6 1014.5,376.7 1013.2,384.4 1015.8,390.5 1019.3,396.3 1022.4,403.8 1017.2,412.1 1018.5,416.6 1022.9,422.8 1017.7,430.1 1014.1,435.2 1021.5,441.5 1016.0,449.5 1023.0,455.0 1016.1,463.5 1015.0,470.9 1016.1,479.0 1018.2,484.2 1016.4,490.9 1011.3,496.5 1013.8,504.0 1010.6,509.4 1021.5,516.0 1021.8,523.5 1032.2,531.6 1012.5,538.4 1016.7,543.3 1015.5,550.3 1014.8,557.9 1008.7,562.7 1013.3,570.1 1007.0,575.9 1013.9,580.6 1016.0,585.8 1007.0,594.0 1010.0,600.5 1009.7,605.2 1018.7,610.0 1012.6,614.6 1014.8,622.1 1008.2,628.9 1007.0,636.2 1013.0,643.5 1010.9,649.9 1010.3,655.2 1008.7,660.3 1014.1,667.2 1013.2,672.0 1015.0,680.3 1015.8,685.1 1013.5,692.5 1011.6,698.8 1012.2,705.1 1009.2,713.2 1010.4,719.1 1007.0,724.8 1013.6,730.6 1018.0,736.8 1014.6,741.5 1031.8,748.2 1039.3,756.1 1048.0,763.2 1026.5,771.1 1013.5,776.4 1016.0,783.1 1012.8,787.6 1007.4,795.9 1013.4,804.0 1020.7,811.2 1019.4,816.5 1019.5,823.8 1027.7,829.5 1023.1,834.2 1007.0,841.6 1012.7,846.3 1021.6,851.4 1026.6,858.0"/><polyline points="1126.3,7.1 1143.1,12.4 1111.2,18.0 1095.1,23.4 1074.0,28.7 1071.5,34.9 1029.0,42.8 1061.8,49.3 1049.7,56.3 1047.1,62.6 1027.8,69.6 1054.0,76.7 1042.9,84.9 1053.7,93.0 1063.1,100.4 1026.2,108.5 1044.4,114.8 1047.1,121.0 1031.0,127.8 1027.6,132.7 1021.6,138.3 1017.7,142.9 1000.8,147.4 1016.7,155.0 1024.6,160.4 1002.9,167.4 1025.1,173.4 1045.8,180.5 1006.8,188.9 1040.3,194.5 1028.4,202.0 1049.9,210.2 1039.8,217.6 1026.2,225.8 1016.4,234.0 1015.3,240.5 986.5,247.5 991.8,254.8 1015.1,262.5 1013.3,269.2 1015.4,276.5 1017.5,282.9 1013.7,288.3 1006.3,294.1 1015.6,299.9 1016.2,304.5 1010.8,311.2 1021.8,318.6 1025.9,326.6 1021.0,334.7 1019.1,341.3 1016.9,347.2 1015.0,352.7 1024.0,358.1 1010.8,363.4 1012.5,371.2 1019.6,378.0 1020.0,384.8 1022.7,392.4 1020.7,399.3 1019.1,407.5 1012.3,415.0 1010.6,422.4 1010.6,428.3 1022.0,434.3 1011.6,441.2 1007.0,445.7 1011.5,453.8 1010.7,458.4 1013.7,466.9 1019.7,472.7 1022.3,480.1 1007.0,486.1 1013.8,494.3 1025.4,502.8 1014.9,510.9 1007.0,515.5 1012.6,521.2 1019.6,528.5 1021.2,534.6 1008.6,541.6 1009.7,548.8 1014.7,554.8 1014.9,560.9 1018.2,567.9 1011.0,572.8 1012.2,581.3 1022.1,588.8 1018.3,595.1 1016.3,602.0 1017.9,610.2 1027.0,614.9 1050.5,622.5 1059.6,629.1 1030.0,634.9 1020.7,642.4 1014.9,649.1 1016.3,657.6 1011.8,665.1 1016.7,672.7 1011.5,678.1 1009.7,683.8 1012.7,691.7 1013.6,699.4 1016.2,707.4 1018.3,714.1 1012.2,719.0 1008.2,726.2 1007.5,733.0 1010.4,739.3 1029.9,745.6 1011.8,752.1 1011.9,760.1 1012.4,767.0 1009.3,775.1 1009.2,782.9 1018.4,791.2 1021.0,799.1 1026.3,805.7 1022.9,810.7 1022.4,819.1 1026.5,824.6 1017.7,831.8 1009.3,840.1 1016.0,845.5 1019.1,850.2 1026.9,857.0"/><polyline points="1118.2,7.1 1092.3,13.8 1085.5,21.0 1103.4,28.6 1089.9,34.6 1097.2,40.3 1128.9,46.4 1084.3,51.3 1076.1,57.0 1056.5,65.1 1058.4,73.3 1032.7,78.2 1041.7,86.6 1044.3,91.3 1061.6,97.9 1027.8,103.4 1051.3,111.8 1061.1,119.3 1048.0,124.1 1063.6,130.1 1000.8,138.3 1042.7,144.9 1070.3,149.8 1056.3,155.5 1101.8,160.1 1100.2,167.8 1045.8,175.8 1050.8,180.6 1048.9,186.8 1095.7,193.8 1102.2,199.8 1058.3,204.6 1050.2,211.6 1086.1,217.9 1035.1,226.1 1036.4,234.4 1032.4,240.9 1050.6,247.6 1020.0,254.6 1029.0,261.8 1024.6,267.1 1018.9,274.4 1026.7,280.8 1023.7,286.1 1028.3,291.0 1023.2,296.7 1030.6,302.8 1029.5,308.7 1021.8,316.8 1022.1,325.2 1019.1,329.9 1013.1,337.0 1017.7,343.9 1010.6,349.8 1022.4,355.7 1025.7,362.6 1022.4,370.9 1024.5,377.5 1026.6,382.7 1024.1,387.7 1038.9,394.5 1031.1,401.7 1026.0,406.6 1041.7,412.8 1026.0,419.2 1024.8,425.7 1032.7,431.3 1024.8,437.9 1031.6,442.5 1026.6,447.7 1017.6,452.6 1020.5,459.3 1023.3,464.2 1041.6,470.3 1020.8,476.2 1028.1,482.7 1025.8,490.9 1019.2,496.8 1021.8,503.0 1020.9,509.3 1027.0,516.6 1020.5,522.8 1020.5,528.2 1027.1,535.7 1029.5,541.8 1026.9,549.6 1025.4,554.2 1022.9,560.3 1022.5,565.7 1017.6,572.2 1024.5,578.5 1060.3,583.2 1049.9,589.6 1017.3,595.8 1017.0,601.9 1019.4,609.0 1016.7,614.3 1018.9,620.0 1023.7,626.0 1014.7,630.9 1023.5,637.0 1023.4,641.8 1023.9,649.4 1019.2,655.8 1022.8,663.5 1024.1,668.0 1020.3,675.8 1019.8,683.1 1012.9,688.3 1008.1,694.8 1007.0,703.3 1017.5,708.5 1027.5,715.6 1027.5,722.6 1026.1,729.2 1013.1,735.1 1013.5,743.6 1025.1,748.1 1013.1,755.1 1014.2,761.4 1022.9,769.6 1021.2,777.0 1018.6,784.9 1017.6,790.3 1023.2,796.4 1023.6,801.2 1026.8,809.2 1016.5,814.7 1024.2,822.8 1024.3,828.3 1024.0,834.1 1020.7,841.4 1022.7,849.3 1022.3,855.8"/><polyline points="1095.6,7.1 1110.5,15.3 1121.3,22.4 1094.1,28.1 1057.9,32.9 1027.5,40.4 1017.2,44.9 1018.7,50.7 1018.2,58.8 1065.8,65.9 1063.1,73.1 1058.1,79.6 1071.7,87.5 1062.5,92.4 1074.4,97.0 1067.6,104.9 1135.9,110.6 1059.9,118.2 1073.3,124.1 1012.8,132.3 1027.5,137.0 1023.7,144.5 1014.1,151.3 1007.0,158.9 1018.3,164.7 1006.3,172.1 1001.3,179.2 1034.6,187.1 1004.2,193.7 1023.0,199.3 1042.9,206.5 1026.1,212.6 1017.9,219.2 1013.2,225.2 1012.3,233.1 1009.0,240.8 1013.5,248.6 1016.6,256.4 1024.8,263.2 1021.4,268.7 1019.6,273.7 1021.6,280.8 1012.7,288.9 1010.6,294.6 1011.1,300.7 1013.6,307.3 1007.3,311.9 1013.2,318.8 1019.8,326.5 1022.0,333.7 1020.4,338.7 1026.2,345.6 1018.9,351.4 1010.4,357.1 1006.7,363.7 1011.5,368.5 1013.6,375.4 1019.0,383.1 1020.5,389.8 1018.0,397.1 1018.2,405.3 1011.8,410.2 1019.6,415.0 1012.7,421.6 1007.0,428.8 1007.0,436.3 1012.8,444.0 1015.8,449.2 1017.9,457.1 1019.3,463.0 1010.4,469.7 1012.3,474.8 1010.0,482.1 1008.3,488.1 1008.0,496.1 1010.7,504.2 1012.6,512.6 1009.5,520.6 1012.1,528.1 1007.1,533.0 1007.0,539.8 1007.0,545.4 1007.8,553.0 1007.0,558.6 1007.0,563.5 1009.3,568.3 1015.2,574.5 1016.4,582.1 1017.0,588.5 1015.7,593.3 1019.1,597.8 1023.1,605.0 1014.2,610.2 1012.0,618.2 1025.7,623.8 1007.0,630.2 1007.0,638.6 1011.7,644.6 1015.1,651.1 1018.8,657.2 1022.5,663.5 1017.5,669.1 1022.9,674.7 1021.6,682.5 1018.7,690.0 1012.3,698.4 1019.3,704.4 1020.8,711.7 1020.3,716.6 1017.0,723.2 1014.1,730.8 1019.9,737.0 1019.8,745.0 1010.4,752.5 1019.1,758.9 1014.0,764.3 1013.2,768.9 1011.6,776.2 1009.2,780.8 1019.3,788.0 1024.4,795.5 1037.7,802.3 1013.1,807.4 1027.9,815.1 1023.7,823.2 1019.5,830.2 1009.8,837.7 1023.1,845.9 1018.2,850.5 1022.5,857.4"/><polyline points="1092.6,7.1 1114.9,13.6 1105.5,18.4 1087.7,25.4 1090.8,33.7 1110.8,40.4 1080.3,45.0 1061.5,52.8 1049.1,60.9 1076.1,66.0 1059.5,71.5 1085.6,78.7 1077.9,84.3 1083.5,89.1 1051.6,96.1 1055.3,101.9 1057.4,109.8 1034.2,115.6 1002.7,121.0 1026.8,126.5 1064.8,134.2 1123.8,141.7 1059.6,147.3 1065.9,152.4 1082.7,157.9 1078.8,165.9 1073.1,172.6 1112.8,177.7 1074.3,183.4 1128.8,188.6 1049.9,194.3 1058.2,202.5 1031.7,209.4 1044.9,214.6 1047.2,219.9 1056.1,225.7 1082.7,233.9 1035.9,242.0 1030.9,247.5 1054.6,253.8 1054.3,260.1 1025.8,265.4 1059.6,270.8 1026.5,278.8 1027.6,283.5 1029.5,290.7 1028.8,298.2 1030.8,306.1 1022.9,313.3 1027.1,319.3 1025.6,327.3 1019.3,335.7 1031.0,341.4 1025.9,347.6 1021.8,354.9 1023.2,362.4 1030.1,367.8 1024.4,372.5 1025.0,377.4 1018.6,383.0 1022.9,389.2 1028.9,396.9 1023.6,404.7 1017.7,411.7 1022.1,417.7 1019.7,425.5 1010.6,431.8 1026.0,438.4 1021.4,443.2 1018.6,449.6 1017.2,457.4 1017.8,463.3 1021.2,470.3 1020.8,476.7 1025.6,482.7 1026.4,488.5 1026.0,494.8 1083.0,501.5 1085.5,509.9 1029.8,514.9 1020.1,522.0 1029.7,529.2 1024.3,536.4 1014.1,543.1 1014.0,551.4 1026.0,557.4 1043.6,565.3 1060.8,572.0 1049.9,577.8 1020.9,582.6 1017.7,587.9 1032.4,593.8 1025.8,601.8 1034.1,608.2 1050.6,615.3 1032.4,622.1 1031.0,629.8 1019.3,637.3 1016.4,645.5 1013.1,650.0 1022.0,655.2 1040.9,661.0 1051.4,667.8 1028.4,676.0 1033.1,683.6 1018.3,689.5 1019.1,695.3 1022.1,700.9 1031.0,705.6 1032.8,712.1 1022.7,718.7 1017.0,725.1 1013.2,732.3 1019.1,737.9 1023.9,742.7 1024.1,748.2 1024.3,755.7 1020.8,761.5 1015.4,767.2 1016.2,773.0 1025.8,778.7 1020.5,785.0 1024.8,793.3 1021.0,798.7 1024.0,807.1 1020.9,812.5 1026.0,817.3 1023.8,825.8 1016.8,833.4 1021.9,838.8 1022.8,846.1 1011.5,854.2"/><polyline points="1148.4,7.1 1117.7,14.3 1144.8,22.7 1180.5,31.0 1177.6,36.5 1126.8,44.3 1057.8,52.5 1142.0,60.7 1191.5,68.6 1143.0,75.6 1150.7,80.2 1146.2,87.1 1083.8,92.9 1072.2,98.8 1156.6,106.5 1119.5,113.2 1102.2,120.2 1146.6,128.7 1173.1,134.9 1140.8,142.4 1219.7,147.8 1108.2,155.2 1083.6,160.0 1154.6,165.3 1129.9,172.2 1186.7,177.8 1136.0,186.3 1178.6,193.6 1167.3,201.3 1176.8,205.9 1101.5,212.3 1088.9,218.2 1169.4,223.0 1126.2,230.1 1136.6,234.8 1100.7,240.1 1081.7,246.5 1114.7,254.7 1060.4,262.5 1030.4,270.6 1042.9,277.9 1038.1,286.1 1049.9,292.2 1050.7,298.3 1044.1,306.4 1052.6,313.7 1064.5,321.8 1044.2,328.2 1031.5,335.2 1020.0,340.1 1036.7,346.7 1033.3,354.4 1048.7,361.3 1028.2,366.7 1039.6,372.6 1035.9,377.4 1031.1,384.4 1039.7,392.5 1056.3,400.6 1054.9,407.1 1037.6,412.3 1053.5,419.2 1053.6,425.1 1045.3,431.9 1054.9,438.6 1061.5,446.6 1070.3,454.8 1057.5,463.0 1045.7,470.1 1054.0,477.6 1039.4,484.7 1047.7,489.4 1034.9,494.0 1040.6,501.7 1024.6,507.4 1035.2,512.8 1027.6,517.3 1039.3,525.3 1041.4,533.5 1039.1,538.4 1036.8,543.2 1037.4,549.7 1070.6,557.8 1053.2,564.2 1069.6,571.4 1042.0,578.3 1043.1,583.4 1066.1,589.2 1064.9,595.5 1053.5,600.4 1045.6,605.6 1046.8,612.8 1052.6,619.0 1057.2,625.1 1030.3,631.1 1046.6,636.8 1059.9,644.5 1065.8,652.1 1059.0,657.3 1061.7,663.9 1066.1,671.7 1059.7,678.7 1049.9,683.9 1053.4,689.1 1050.2,696.2 1052.0,702.5 1024.2,709.7 1028.8,717.4 1036.1,723.9 1034.5,732.2 1027.7,737.7 1031.4,742.9 1040.5,748.8 1038.2,754.0 1039.1,759.0 1036.6,764.0 1047.1,769.5 1042.5,777.0 1048.2,782.9 1049.0,790.5 1045.0,798.4 1041.3,806.4 1050.0,810.9 1060.9,819.4 1048.8,826.6 1047.1,832.1 1042.1,836.8 1054.0,845.0 1026.1,851.0"/><polyline points="1198.8,7.1 1176.4,13.5 1149.8,18.1 1176.9,25.1 1153.4,30.5 1150.6,36.8 1175.6,42.0 1135.6,49.5 1171.0,57.9 1226.3,65.5 1142.0,71.6 1098.2,78.9 1077.0,85.5 1064.8,93.8 1081.7,101.4 1157.3,106.6 1239.1,112.8 1126.6,118.8 1085.2,123.5 1142.3,131.2 1171.0,137.4 1215.2,142.4 1121.6,149.5 1146.3,155.9 1162.6,162.0 1079.7,168.9 1164.5,175.4 1167.1,183.1 1134.2,187.9 1178.2,192.8 1136.7,197.8 1147.6,205.1 1156.5,210.2 1116.2,216.2 1107.3,222.1 1056.0,228.1 1080.4,234.7 1045.6,240.0 1051.5,247.7 1048.8,254.0 1040.2,262.4 1025.5,267.8 1026.7,272.4 1018.1,277.7 1032.5,282.9 1041.1,287.5 1031.9,295.5 1024.1,303.0 1026.2,309.9 1044.9,318.0 1045.0,326.4 1040.2,334.3 1035.4,340.3 1053.8,348.6 1044.3,354.7 1036.3,362.4 1051.4,369.4 1030.0,375.1 1022.3,381.7 1015.2,389.2 1018.9,396.2 1022.6,401.2 1042.4,407.0 1035.4,413.6 1024.8,420.0 1021.1,428.4 1023.9,436.5 1023.9,444.8 1032.4,450.2 1035.1,457.1 1036.5,464.7 1044.1,472.0 1026.5,479.9 1027.3,487.1 1028.9,492.0 1035.6,497.9 1028.3,503.7 1025.6,509.0 1024.6,514.3 1039.8,519.4 1024.9,525.7 1019.9,531.4 1022.9,536.5 1040.5,544.8 1030.3,550.5 1035.8,558.1 1034.2,563.1 1036.7,571.5 1013.4,579.8 1034.9,587.3 1052.0,593.3 1046.6,599.7 1023.0,604.7 1030.6,609.9 1026.2,616.7 1023.8,622.0 1024.8,628.5 1038.3,635.5 1040.9,642.2 1036.2,646.9 1024.2,653.9 1020.1,659.2 1030.1,666.2 1043.0,673.9 1026.0,682.1 1016.2,689.6 1022.3,695.5 1026.1,702.0 1025.0,709.1 1024.4,713.9 1026.6,721.4 1021.6,729.7 1024.7,735.1 1029.1,743.2 1029.9,750.7 1020.4,755.4 1029.3,759.9 1028.6,765.6 1047.4,772.4 1029.6,777.3 1037.6,784.8 1031.8,789.4 1046.8,794.2 1042.9,800.0 1055.1,805.1 1043.2,810.9 1037.2,819.0 1052.6,824.7 1044.6,832.7 1041.3,837.3 1037.1,844.6 1030.2,850.4 1031.1,857.7"/><polyline points="1113.1,7.1 1101.9,12.4 1111.5,17.2 1087.8,23.4 1094.5,29.2 1067.6,35.3 1028.5,43.6 1004.2,51.8 1044.9,57.9 1040.8,62.8 1034.9,69.7 1048.9,74.3 1050.7,82.7 1053.1,91.0 1058.5,98.8 1038.5,106.8 1021.5,112.5 1032.4,119.5 1044.3,127.0 1095.1,131.7 1049.9,138.3 1065.2,144.3 1024.7,149.4 1034.9,154.6 1052.3,159.7 1081.3,167.4 1034.3,174.5 1063.8,179.0 1050.0,183.9 1049.3,190.4 1035.7,196.0 1038.3,203.6 1040.3,212.1 1021.2,219.2 1002.8,227.3 1019.9,234.5 1014.8,240.6 1037.4,248.3 1004.6,253.8 1011.6,258.7 1008.3,267.0 1014.6,272.6 1024.1,279.6 1039.1,286.6 1029.0,291.1 1008.0,299.0 1007.8,304.6 1008.9,312.4 1006.4,317.4 1007.8,324.5 1013.4,330.6 1013.5,337.6 1012.3,342.8 1006.5,347.4 1006.6,352.8 1013.0,357.8 1019.0,366.1 1019.2,371.2 1018.2,378.3 1026.6,383.2 1024.0,390.3 1021.1,394.8 1017.7,402.4 1010.9,407.8 1007.0,413.0 1011.9,420.9 1017.3,426.5 1014.6,433.7 1011.9,438.5 1012.1,446.9 1007.6,453.8 1007.0,461.5 1009.4,469.7 1007.0,476.3 1015.4,484.2 1019.2,491.2 1009.5,498.8 1018.7,503.4 1013.9,511.6 1013.4,518.9 1010.0,527.2 1015.0,531.8 1016.8,536.4 1011.8,543.2 1014.8,550.0 1022.8,555.9 1021.3,560.7 1022.1,567.2 1021.7,575.1 1017.3,580.0 1014.5,587.4 1013.6,594.6 1018.9,602.3 1017.1,608.9 1022.5,615.1 1022.8,622.3 1008.3,628.1 1002.5,636.2 995.4,641.2 1014.2,646.6 1007.0,651.3 1011.6,657.8 1014.7,664.3 1011.8,670.6 1012.2,678.4 1028.0,686.3 1024.7,691.2 1009.8,697.0 1011.3,702.8 1012.6,709.9 1012.4,715.3 1012.3,721.5 1020.2,727.9 1020.9,734.5 1027.2,739.1 1037.0,745.2 1060.1,749.9 1030.3,756.6 1022.0,762.9 1021.8,768.5 1017.3,775.2 1026.5,781.7 1017.5,788.5 1024.3,795.8 1023.1,802.9 1022.0,808.2 1023.9,813.4 1021.2,820.9 1016.2,827.0 1010.8,832.3 1014.5,838.9 1019.5,846.4 1014.4,853.4 1015.6,858.5"/><polyline points="1108.2,7.1 1101.9,14.9 1134.4,20.7 1122.2,25.8 1117.1,33.6 1137.8,38.3 1162.5,45.9 1084.0,52.7 1075.1,61.2 1087.7,66.6 1088.9,75.0 1082.0,79.9 1068.9,86.1 1046.1,94.6 1117.6,102.2 1112.7,108.9 1079.6,113.5 1042.8,120.5 1069.2,126.1 1043.4,133.2 1059.0,140.2 1106.4,147.1 1097.1,152.4 1107.3,159.5 1128.2,165.8 1062.2,172.2 1061.9,177.1 1071.5,183.5 1058.1,189.6 1050.8,197.8 1041.3,205.6 1054.3,213.5 1062.2,218.3 1050.9,224.0 1066.3,230.1 1047.5,236.0 1028.7,243.7 1010.8,250.6 1014.7,255.7 1019.5,263.5 1018.3,268.7 1026.2,274.0 1024.8,279.7 1029.6,286.2 1031.7,291.0 1034.8,298.0 1037.3,304.2 1028.9,310.3 1028.2,318.3 1014.4,323.4 1021.3,330.3 1034.8,334.9 1018.4,340.2 1019.8,345.7 1026.4,352.0 1035.5,358.3 1040.4,366.2 1026.9,372.8 1019.4,378.1 1015.5,383.7 1018.7,391.2 1016.4,396.0 1024.2,403.9 1024.7,411.1 1023.8,416.4 1021.4,421.8 1024.0,428.3 1026.0,435.8 1027.7,444.3 1022.0,448.9 1046.5,454.8 1020.7,462.0 1023.2,468.3 1032.3,473.4 1021.3,480.8 1022.9,487.4 1028.9,492.2 1028.0,497.7 1024.6,502.5 1025.4,508.8 1020.4,514.7 1037.3,522.3 1023.8,527.4 1016.0,534.8 1013.1,541.7 1024.0,550.2 1021.4,555.2 1016.2,560.6 1013.4,565.5 1018.2,570.2 1023.6,575.1 1019.7,581.5 1027.1,587.8 1022.5,595.4 1020.5,603.9 1035.3,612.1 1018.6,619.4 1028.0,627.2 1035.6,635.6 1044.2,642.0 1012.4,647.1 1021.6,651.9 1016.2,658.0 1011.2,663.1 1018.3,668.8 1022.7,674.2 1019.9,679.8 1022.0,685.8 1026.4,693.6 1028.3,701.2 1022.9,709.3 1028.4,714.3 1027.0,719.5 1015.2,727.7 1011.4,735.3 1020.4,743.1 1025.3,751.0 1010.6,756.8 1023.1,761.6 1012.5,769.5 1015.0,777.5 1017.6,782.4 1021.0,789.1 1021.9,797.0 1024.8,803.7 1026.0,811.3 1027.7,818.5 1031.1,825.2 1027.9,831.2 1027.5,837.8 1030.1,843.2 1036.7,849.8 1025.2,858.1"/><polyline points="1070.1,7.1 1074.7,14.7 1061.4,22.8 1087.2,30.2 1073.9,37.1 1047.5,42.6 1057.5,49.1 1013.7,55.2 1011.5,61.3 1053.1,69.5 1007.2,75.8 1011.7,83.3 1033.2,90.9 1033.6,97.7 1027.1,103.3 1039.9,108.8 1038.0,113.5 1052.8,121.0 1037.0,128.3 1033.0,135.8 1042.9,143.8 1046.3,148.8 1055.8,153.7 1061.3,161.9 1031.5,169.1 1076.2,174.8 1025.3,181.5 1024.3,186.2 1012.5,191.2 1023.7,198.7 1051.4,206.2 1054.3,213.8 1040.7,219.4 1036.1,224.0 1016.9,232.0 1028.7,237.2 1020.4,243.0 1020.3,249.8 1015.7,258.1 1025.2,266.4 1025.3,271.7 1023.6,279.3 1015.9,284.2 1019.3,292.4 1023.5,299.2 1022.8,306.7 1023.0,312.1 1026.9,319.0 1016.1,326.3 1027.6,332.2 1022.2,337.9 1014.5,342.5 1019.8,347.5 1020.5,352.5 1022.3,359.1 1016.8,364.8 1040.8,370.3 1011.0,376.2 1012.0,381.2 1016.8,385.9 1037.4,392.8 1035.9,399.3 1009.4,404.5 1016.0,412.4 1012.8,418.7 1036.3,424.6 1022.6,430.3 1017.4,434.8 1020.0,441.3 1020.8,447.7 1021.0,452.5 1023.4,458.6 1023.0,464.3 1020.8,469.4 1021.7,476.1 1019.0,482.7 1026.9,490.6 1021.8,498.9 1028.6,504.7 1023.7,511.1 1026.9,516.6 1027.2,522.2 1020.8,529.6 1022.4,535.8 1027.9,541.1 1026.0,547.1 1020.3,552.2 1035.7,559.1 1027.2,567.3 1027.9,572.0 1024.9,577.7 1028.4,582.4 1037.2,589.6 1032.4,594.3 1034.8,599.1 1030.7,603.8 1022.7,609.4 1027.2,615.5 1040.4,621.5 1036.8,627.7 1025.0,635.8 1019.8,642.8 1020.9,648.8 1028.2,657.3 1020.6,664.9 1021.5,672.4 1033.5,678.7 1034.1,684.4 1032.3,691.8 1026.6,698.3 1024.8,706.5 1026.4,714.8 1027.2,719.3 1020.0,725.0 1026.1,733.0 1022.1,739.0 1020.8,743.8 1020.0,749.7 1022.9,754.8 1019.3,762.3 1022.0,768.8 1026.9,776.2 1025.0,784.0 1029.4,790.6 1026.0,797.8 1019.8,804.6 1024.7,809.4 1037.6,815.3 1061.9,821.0 1040.5,828.0 1041.6,833.4 1020.9,840.0 1032.2,845.3 1024.0,850.5 1021.6,858.0"/><polyline points="1209.1,7.1 1173.8,14.2 1183.9,20.6 1168.4,29.1 1238.8,34.2 1255.0,41.3 1258.7,47.9 1236.2,53.7 1127.7,59.6 1263.7,67.5 1253.7,72.7 1245.8,78.3 1250.3,84.1 1221.0,91.7 1243.3,97.6 1283.3,105.6 1259.6,112.6 1237.1,118.1 1185.8,124.9 1117.5,131.6 1089.6,138.3 1178.6,145.2 1092.4,151.7 1104.1,156.7 1093.3,163.6 1159.0,169.5 1087.7,175.7 1081.0,184.2 1117.1,190.1 1127.2,196.6 1116.6,204.0 1111.1,211.4 1170.3,218.9 1137.9,226.3 1111.8,231.3 1095.5,239.6 1094.1,246.1 1082.3,254.5 1072.4,261.2 1049.4,266.9 1048.2,274.3 1047.2,279.6 1037.7,286.1 1046.3,292.6 1041.2,301.1 1045.8,306.3 1052.7,313.6 1042.8,318.5 1059.0,325.1 1057.1,331.2 1043.9,339.6 1050.5,345.1 1048.0,350.0 1027.7,357.4 1042.6,364.7 1043.6,371.8 1027.0,378.1 1034.2,385.7 1035.3,392.5 1050.2,397.7 1047.3,405.3 1027.0,413.0 1034.5,419.3 1045.2,427.2 1043.7,432.2 1044.4,439.7 1046.7,447.2 1045.9,454.1 1038.7,459.3 1038.5,466.4 1055.1,471.0 1057.3,477.0 1052.2,484.4 1030.2,491.2 1043.3,498.2 1045.2,502.9 1044.0,510.6 1044.7,518.8 1036.7,524.1 1034.9,529.1 1039.0,537.1 1045.9,542.3 1070.7,550.7 1070.8,558.7 1070.8,566.1 1070.8,571.0 1070.8,575.8 1069.4,583.2 1069.1,588.3 1054.7,593.7 1051.7,602.2 1049.7,607.2 1035.6,614.6 1051.1,620.5 1042.9,626.9 1050.9,633.7 1042.2,640.6 1041.3,648.8 1055.7,656.7 1044.1,661.7 1050.6,669.1 1054.6,676.6 1061.9,681.8 1058.6,686.7 1069.4,694.5 1056.9,702.7 1053.3,710.8 1071.5,718.3 1056.6,725.7 1059.2,732.4 1048.7,738.2 1052.8,743.3 1044.9,750.8 1042.7,756.6 1066.1,761.5 1068.6,767.0 1064.9,772.4 1054.2,778.3 1049.3,783.7 1043.3,792.1 1070.4,797.0 1061.0,802.3 1071.9,807.8 1071.9,815.8 1072.0,823.9 1061.3,830.3 1045.3,838.0 1060.4,844.1 1049.5,852.6 1060.1,858.5"/><polyline points="1180.2,7.1 1128.8,13.5 1184.0,21.3 1176.9,28.9 1126.8,36.9 1165.9,44.1 1169.6,51.4 1167.4,59.2 1194.4,66.5 1103.4,72.0 1073.4,78.4 1017.5,85.2 988.5,91.6 1021.1,97.8 1209.7,104.7 1127.3,112.3 1123.6,120.3 1107.0,127.4 1058.6,134.6 1106.1,142.9 1101.2,148.8 1086.3,154.9 1164.3,160.6 1133.9,168.2 1235.7,176.0 1289.8,182.8 1199.6,190.5 1057.1,198.5 1143.7,206.0 1092.6,212.6 1065.1,220.9 1069.3,226.8 1033.8,232.6 1039.2,239.5 1035.8,246.7 1030.0,251.9 1051.5,257.4 1034.9,265.9 1039.2,273.8 1045.0,280.4 1034.2,286.8 1034.6,295.0 1048.6,303.2 1041.1,310.9 1035.9,318.0 1018.9,322.7 1035.1,329.7 1033.4,336.5 1017.9,342.3 1020.6,347.8 1024.8,355.5 1027.2,360.7 1028.6,365.4 1027.3,371.7 1023.8,378.9 1048.0,383.8 1030.0,389.8 1025.2,396.9 1028.9,401.9 1042.4,406.5 1025.9,414.8 1033.4,421.2 1036.7,428.4 1025.9,434.3 1025.1,441.8 1023.2,447.3 1023.9,453.4 1023.6,461.2 1027.8,468.9 1030.7,474.1 1028.1,481.4 1021.6,486.3 1040.0,492.5 1038.2,500.0 1026.4,505.2 1038.4,510.5 1025.5,518.4 1037.5,525.6 1030.2,533.1 1045.4,540.8 1029.9,548.2 1027.7,553.3 1024.4,560.6 1025.8,568.8 1017.8,574.9 1015.0,580.1 1014.5,584.7 1025.7,591.7 1021.0,597.4 1029.6,602.6 1021.7,610.7 1020.8,617.0 1029.9,623.8 1022.9,629.4 1021.2,637.6 1025.2,642.3 1036.8,649.9 1041.6,655.9 1023.3,663.2 1027.1,671.0 1026.8,678.4 1022.8,684.5 1025.1,691.5 1016.0,697.7 1014.0,706.1 1018.3,713.9 1011.7,718.8 1019.4,724.3 1022.7,730.9 1023.5,737.0 1025.3,743.1 1020.0,749.1 1023.7,755.4 1028.8,762.1 1074.9,768.1 1072.9,773.8 1035.3,778.4 1019.8,784.0 1023.9,792.4 1031.1,799.6 1032.2,806.7 1025.0,813.2 1030.3,818.5 1025.3,824.8 1018.9,831.7 1025.0,836.4 1024.1,841.7 1023.7,847.2 1040.5,853.8"/><polyline points="1082.2,7.1 1056.5,14.2 1095.1,20.2 1081.4,28.7 1046.1,34.7 1064.9,40.2 1079.2,44.8 1078.9,52.8 1105.9,57.4 1088.9,62.9 1033.7,70.5 1000.8,76.5 1034.8,82.4 1057.4,87.3 1086.7,95.2 1139.1,101.7 1095.1,110.2 1059.1,118.0 1044.4,125.9 1036.7,134.1 1041.4,141.3 1049.0,146.1 1065.7,153.5 1062.6,160.7 1065.7,167.9 1072.2,175.4 1141.5,180.6 1097.2,185.9 1064.2,190.5 1064.4,197.1 1031.6,205.4 1053.6,213.5 1049.7,218.0 1037.7,226.0 1029.2,231.3 1025.0,238.0 1034.2,245.1 1022.1,252.1 1012.7,257.4 1024.7,262.3 1033.9,268.6 1022.3,275.6 1019.7,281.4 1022.9,289.2 1030.6,296.8 1024.4,302.1 1016.6,306.9 1020.3,313.8 1017.4,321.3 1009.6,325.8 1014.2,334.3 1011.3,338.9 1014.9,343.6 1015.8,351.3 1017.0,358.8 1009.2,366.0 1008.1,371.7 1014.6,376.7 1006.9,384.8 1006.9,389.5 1013.4,395.1 1019.3,403.5 1018.7,410.8 1023.3,415.6 1027.5,420.1 1030.2,427.6 1033.8,433.6 1027.0,440.5 1026.0,447.9 1014.2,455.0 1016.1,461.3 1016.7,469.7 1020.0,475.4 1014.8,480.8 1020.1,488.2 1026.7,495.5 1022.4,501.1 1021.5,508.5 1019.6,513.0 1025.0,521.3 1022.9,529.7 1025.2,537.5 1019.7,544.8 1016.3,549.8 1016.9,557.5 1022.4,566.0 1020.6,571.1 1018.7,576.3 1019.5,581.2 1020.8,588.0 1017.3,595.5 1022.5,603.6 1024.1,609.9 1020.5,616.9 1012.2,623.3 1017.1,629.7 1014.3,637.7 1007.0,643.0 1007.0,650.7 1009.4,657.3 1014.3,662.6 1020.3,667.4 1022.6,672.7 1023.0,680.0 1019.3,688.0 1018.4,695.7 1010.7,701.1 1010.2,708.2 1021.9,714.4 1019.3,720.5 1007.0,727.7 1023.2,735.4 1046.5,743.6 1027.5,749.0 1021.6,757.0 1024.3,764.5 1020.9,771.2 1019.4,776.8 1028.4,781.7 1032.0,788.7 1025.6,793.8 1043.2,800.5 1034.0,806.8 1023.8,813.8 1024.5,821.7 1015.1,829.8 1010.5,834.3 1015.9,839.4 1026.1,846.1 1021.9,853.4"/><polyline points="1160.0,7.1 1167.4,11.8 1125.7,17.1 1133.9,25.5 1148.8,33.5 1121.9,38.1 1097.0,42.7 1124.5,48.2 1170.2,55.1 1127.0,63.2 1039.7,69.7 1058.3,76.7 1095.8,84.3 1226.7,89.9 1205.2,95.3 1148.3,103.1 1132.2,108.9 1165.8,114.8 1102.9,121.2 1080.7,126.0 1179.4,130.9 1185.9,139.1 1091.4,145.1 1136.0,151.8 1083.1,157.8 1102.1,165.3 1139.8,172.4 1126.9,180.0 1142.1,186.9 1067.0,194.6 1087.0,200.1 1130.1,207.2 1091.3,212.0 1083.6,217.4 1100.5,222.9 1051.5,228.4 1066.0,235.3 1032.1,241.4 1056.0,248.2 1050.7,253.5 1069.1,259.2 1082.1,264.3 1040.2,269.7 1046.8,274.7 1046.3,282.9 1038.6,289.6 1037.6,295.3 1046.5,303.0 1051.7,308.4 1041.1,315.6 1038.0,323.7 1044.8,331.2 1043.7,336.7 1049.3,344.8 1044.6,351.1 1040.9,359.5 1036.6,367.2 1043.4,375.0 1043.7,380.2 1046.4,388.7 1049.7,393.4 1052.5,401.3 1045.4,408.5 1043.3,415.8 1038.8,421.6 1016.5,428.9 1018.8,434.4 1026.5,442.0 1057.4,448.3 1044.1,456.8 1053.6,463.8 1047.3,469.9 1039.2,474.8 1049.7,481.3 1043.2,486.7 1046.0,492.0 1031.1,498.1 1035.9,506.3 1033.1,513.4 1037.3,521.7 1041.7,526.4 1022.7,534.5 1041.3,539.2 1044.4,544.0 1049.0,552.2 1065.7,559.1 1067.8,566.6 1061.9,573.1 1064.8,579.6 1041.4,584.8 1056.7,592.6 1041.8,601.0 1042.2,605.8 1038.9,612.8 1048.7,619.9 1046.9,624.8 1040.2,631.3 1036.8,638.9 1048.7,646.1 1032.1,650.9 1043.5,656.4 1065.4,661.8 1045.6,669.5 1054.4,674.7 1064.2,680.9 1064.9,687.1 1063.7,693.9 1067.0,701.4 1054.4,707.6 1055.2,713.5 1054.9,719.6 1055.5,724.5 1062.7,730.0 1055.6,737.9 1067.9,742.6 1067.5,749.4 1058.8,754.2 1030.8,761.3 1040.4,766.6 1036.1,774.7 1040.2,780.1 1047.5,785.5 1053.5,791.3 1051.0,796.1 1041.8,802.8 1040.0,809.1 1027.2,815.7 1039.0,820.5 1043.3,825.0 1061.8,830.6 1050.2,837.7 1057.3,845.1 1045.8,850.9"/><polyline points="1186.4,7.1 1230.6,12.4 1223.1,18.9 1200.7,24.7 1208.5,30.8 1143.7,36.8 1120.9,42.1 1145.6,48.6 1178.1,53.7 1300.3,58.8 1320.6,64.6 1220.8,70.4 1137.8,75.1 1194.3,81.7 1241.6,88.0 1135.6,92.8 1220.4,98.6 1201.9,106.5 1146.3,111.8 1164.5,120.0 1289.5,128.0 1218.5,135.0 1152.7,142.1 1120.8,147.8 1161.5,153.4 1101.2,161.5 1143.6,168.3 1138.3,176.4 1144.2,183.3 1176.8,190.1 1188.5,195.2 1181.5,203.4 1122.5,208.4 1102.2,215.1 1049.7,222.9 1041.8,227.5 1107.8,234.1 1097.7,239.6 1043.7,246.2 1094.0,253.9 1040.6,258.9 1020.6,263.5 1040.5,268.2 1049.5,276.6 1049.9,284.6 1047.8,291.9 1036.4,300.2 1021.4,307.9 1044.6,313.8 1037.0,319.9 1042.5,326.4 1027.4,334.1 1045.6,342.4 1028.1,347.1 1048.2,352.0 1047.5,356.9 1022.6,364.8 1032.6,370.9 1034.5,377.5 1054.3,385.1 1048.2,392.6 1045.9,399.6 1044.9,406.7 1031.9,411.5 1029.3,417.1 1049.1,425.4 1044.1,431.7 1033.4,440.0 1041.0,445.1 1050.4,450.1 1029.7,457.0 1030.6,463.4 1035.0,468.7 1024.0,477.2 1019.8,483.7 1042.0,488.5 1024.4,495.7 1011.5,500.8 1021.3,507.1 1036.8,511.7 1033.6,516.7 1026.3,521.3 1020.9,529.0 1026.4,535.8 1051.1,543.4 1039.5,548.0 1038.7,554.8 1037.3,560.9 1035.6,566.7 1034.6,574.2 1015.2,581.6 1022.6,586.9 1026.2,595.3 1023.8,600.6 1035.5,608.3 1030.4,614.1 1024.7,620.2 1021.6,628.1 1030.1,633.3 1040.0,639.7 1034.1,647.6 1026.7,652.2 1023.3,657.0 1041.7,662.2 1046.5,666.9 1034.6,674.7 1056.9,683.0 1041.9,689.6 1067.1,695.8 1044.5,703.9 1045.1,710.1 1054.0,717.7 1040.6,725.7 1043.9,731.8 1042.7,738.8 1032.6,745.3 1039.1,751.0 1038.7,756.1 1031.7,762.5 1052.2,767.0 1043.7,774.7 1045.7,781.4 1022.9,787.6 1024.6,792.4 1033.7,799.0 1052.8,803.9 1027.6,808.5 1045.2,815.6 1042.0,821.7 1049.3,827.7 1051.8,833.4 1072.0,839.0 1054.1,843.8 1054.8,850.5 1026.4,856.9"/><polyline points="1171.2,7.1 1204.2,12.9 1132.7,18.1 1140.6,22.8 1178.3,28.2 1197.7,36.0 1228.9,42.2 1178.4,49.6 1228.2,56.4 1192.3,64.6 1224.2,72.0 1127.9,80.4 1182.7,88.7 1138.3,93.8 1136.6,101.0 1065.0,106.8 1073.5,114.2 1131.3,119.0 1106.9,124.7 1194.3,129.4 1278.2,135.1 1286.4,140.2 1289.5,146.7 1264.8,155.1 1265.6,162.1 1332.9,167.3 1210.0,175.6 1200.9,182.4 1211.9,190.7 1198.6,199.0 1200.4,203.8 1170.5,209.4 1150.7,217.8 1111.7,225.8 1112.2,231.2 1146.4,237.2 1182.4,243.0 1143.7,251.3 1080.1,257.8 1044.2,262.6 1029.9,269.0 1057.0,276.7 1039.0,282.7 1054.0,291.0 1053.0,296.2 1042.0,302.0 1051.4,306.7 1053.9,313.5 1042.2,320.3 1038.1,326.4 1040.9,331.9 1049.0,336.5 1073.0,341.6 1109.8,349.7 1090.3,355.7 1074.2,360.9 1050.2,369.0 1066.8,374.3 1059.5,381.6 1054.0,386.3 1069.5,392.8 1070.0,398.6 1062.3,405.4 1058.5,413.1 1052.8,421.4 1052.9,427.5 1044.5,433.3 1063.0,438.7 1070.3,445.6 1056.3,451.8 1048.8,457.4 1031.8,463.8 1027.9,468.8 1040.6,475.6 1036.6,482.8 1037.2,487.9 1046.3,494.3 1063.7,499.3 1038.9,505.5 1021.7,513.5 1043.7,520.5 1033.5,525.7 1028.7,533.0 1034.7,539.1 1043.4,546.4 1036.0,553.1 1039.7,559.2 1044.4,566.7 1048.2,574.0 1048.0,582.1 1036.6,587.9 1070.4,595.5 1049.4,600.1 1047.5,607.0 1059.7,613.5 1047.7,621.3 1055.1,626.7 1054.8,634.9 1052.1,641.5 1043.6,648.2 1054.1,654.5 1065.7,661.6 1041.2,666.4 1045.3,671.8 1060.7,676.9 1060.1,684.7 1067.0,689.4 1049.9,697.1 1038.0,704.3 1027.5,709.2 1035.0,716.6 1051.3,721.2 1045.5,725.9 1040.1,734.2 1035.6,740.6 1028.9,749.0 1063.6,754.0 1065.3,760.9 1056.4,765.9 1054.0,771.7 1057.2,778.5 1053.1,784.9 1039.0,791.6 1055.6,799.4 1057.9,805.7 1053.3,812.6 1037.0,817.2 1037.3,822.3 1048.1,828.8 1054.1,834.5 1064.7,840.7 1035.6,849.0 1043.4,855.5"/><polyline points="1154.0,7.1 1207.2,12.0 1189.3,17.9 1180.2,24.9 1225.3,32.8 1222.4,37.7 1257.7,46.1 1210.1,52.3 1234.2,58.4 1242.6,63.9 1187.1,69.3 1187.2,76.7 1204.8,83.5 1289.5,89.2 1183.1,97.6 1224.6,102.6 1254.0,109.3 1262.2,117.1 1243.1,124.1 1237.2,130.6 1276.8,137.9 1253.5,145.9 1198.2,153.4 1192.9,158.6 1278.4,163.5 1194.4,170.5 1167.9,177.4 1239.2,184.5 1171.2,192.0 1190.7,197.2 1233.9,203.5 1168.4,210.0 1143.7,217.7 1093.8,226.1 1127.4,231.4 1122.1,236.7 1095.5,242.3 1097.1,249.9 1084.3,255.9 1069.4,261.3 1048.0,266.9 1047.0,275.3 1032.4,281.4 1044.6,289.1 1061.1,294.4 1048.2,302.8 1053.3,308.0 1045.8,316.0 1057.2,321.1 1048.7,328.3 1051.0,333.3 1045.9,341.3 1043.5,347.0 1042.8,355.3 1048.4,362.5 1061.3,369.3 1066.9,375.5 1068.9,383.3 1058.5,388.0 1053.8,394.6 1049.2,399.6 1036.6,404.6 1057.1,411.2 1045.9,418.0 1058.0,424.0 1042.1,430.0 1062.7,435.4 1044.0,440.8 1044.4,448.4 1035.6,456.5 1043.4,463.5 1024.4,470.8 1023.1,477.9 1029.9,482.7 1034.0,488.9 1044.4,495.3 1055.5,502.8 1043.1,510.3 1044.5,516.7 1043.5,521.9 1039.7,528.0 1050.3,533.4 1038.1,540.2 1026.4,546.5 1030.6,551.5 1036.9,559.6 1070.8,565.8 1041.8,573.4 1042.7,581.8 1060.8,587.0 1072.6,594.1 1052.6,600.5 1057.4,606.6 1046.8,614.9 1044.3,619.7 1064.5,624.3 1047.6,631.6 1036.7,636.9 1030.8,644.9 1028.0,652.2 1034.0,659.1 1043.2,665.3 1052.8,671.2 1047.8,676.1 1026.7,684.6 1029.6,689.2 1044.0,696.7 1041.8,702.7 1038.6,709.5 1027.1,716.6 1028.9,723.3 1034.6,731.1 1048.3,738.8 1034.7,744.9 1045.5,753.4 1064.3,759.7 1049.3,766.8 1057.0,774.1 1037.9,781.7 1033.0,788.8 1042.1,797.0 1029.3,804.6 1037.8,809.3 1027.2,815.4 1023.7,821.0 1026.9,826.0 1048.9,832.7 1045.6,839.5 1029.5,846.4 1036.8,854.7"/><polyline points="1170.0,7.1 1198.3,15.4 1165.9,21.9 1162.5,29.2 1138.5,37.1 1159.3,42.2 1090.8,49.6 1189.2,56.8 1162.2,63.7 1077.9,71.9 1084.0,78.6 1071.5,85.4 1108.2,90.2 1260.5,95.6 1173.3,100.8 1152.1,109.2 1087.1,115.7 1083.5,124.1 1085.9,131.6 1105.8,140.0 1203.4,145.3 1157.1,150.4 1147.9,158.5 1094.2,163.2 1107.2,170.5 1086.0,178.7 1105.0,185.2 1123.9,191.7 1081.5,197.9 1090.4,205.6 1072.0,210.2 1080.4,218.6 1137.4,223.9 1143.0,230.6 1098.1,238.4 1088.6,243.8 1037.3,251.9 1057.2,259.8 1031.2,266.9 1032.1,273.0 1041.1,281.3 1035.6,287.0 1034.5,293.6 1022.7,298.1 1037.0,305.0 1044.2,309.6 1055.3,317.6 1031.8,323.3 1050.6,328.4 1051.2,333.1 1041.7,340.7 1039.6,349.0 1060.7,357.2 1048.8,361.9 1048.6,367.7 1041.2,374.1 1060.3,380.5 1051.4,387.0 1048.6,392.7 1048.6,400.2 1081.4,406.8 1100.2,412.3 1091.0,418.0 1056.6,422.8 1052.1,430.1 1043.7,436.9 1060.7,444.7 1087.0,451.6 1116.8,456.9 1095.1,464.5 1048.3,472.4 1048.6,479.5 1040.5,486.3 1045.9,493.9 1046.4,498.6 1029.1,503.7 1043.8,508.4 1046.7,515.4 1053.6,522.7 1055.3,530.7 1048.1,535.2 1049.4,540.4 1045.3,548.0 1043.0,555.6 1033.9,563.7 1055.0,570.0 1043.4,577.5 1057.3,585.3 1056.8,591.5 1063.5,596.5 1058.5,603.6 1062.9,611.5 1050.0,617.1 1052.2,625.0 1032.1,629.7 1040.2,638.1 1070.6,643.5 1056.9,650.3 1046.1,656.9 1038.2,664.8 1032.7,673.1 1038.2,679.5 1039.1,686.6 1060.7,693.5 1034.9,700.8 1050.6,707.8 1055.0,713.0 1055.2,718.9 1043.5,726.0 1051.7,732.9 1051.5,741.1 1031.0,747.8 1027.3,754.4 1047.9,760.7 1051.8,765.3 1042.0,773.2 1059.4,780.4 1039.2,787.4 1047.5,793.8 1063.3,801.5 1041.1,807.1 1044.6,812.9 1026.3,817.4 1037.1,824.2 1028.4,830.1 1056.2,837.7 1062.7,843.1 1062.8,851.1 1072.1,859.1"/><polyline points="1177.5,7.1 1182.7,13.1 1177.4,20.1 1189.3,25.5 1133.8,33.5 1193.5,40.6 1162.6,48.2 1165.7,54.2 1165.1,59.7 1139.3,67.5 1156.9,72.2 1244.0,79.1 1289.5,86.2 1249.9,91.9 1256.2,99.0 1289.5,104.1 1265.6,109.7 1289.5,116.3 1289.5,124.4 1278.0,130.0 1226.5,135.1 1175.6,142.1 1179.1,148.7 1098.8,153.2 1278.7,159.1 1275.7,166.8 1194.1,175.3 1199.7,183.1 1224.8,189.7 1229.5,196.9 1240.1,203.6 1282.5,210.5 1290.1,217.7 1126.2,225.4 1129.2,232.5 1104.4,239.4 1115.4,246.5 1053.5,251.7 1059.2,259.8 1055.7,268.0 1053.4,276.4 1059.0,284.5 1050.5,292.3 1056.7,297.4 1063.1,303.1 1048.4,308.4 1039.3,314.6 1039.7,321.6 1035.4,327.2 1035.9,333.9 1046.8,340.5 1052.4,345.7 1049.0,353.3 1034.8,360.2 1031.9,367.3 1049.2,375.6 1054.1,382.4 1052.2,388.2 1069.6,394.0 1070.1,402.4 1070.1,408.8 1064.0,413.7 1062.0,420.8 1069.4,429.1 1053.5,435.6 1046.5,443.4 1060.9,448.9 1055.1,456.7 1033.9,461.5 1043.4,468.4 1037.7,476.4 1038.1,484.7 1060.2,491.0 1055.2,499.0 1040.0,504.5 1052.1,512.5 1046.0,517.1 1045.4,524.7 1055.5,533.0 1067.1,538.8 1050.4,546.3 1061.3,550.9 1051.4,557.8 1049.8,564.8 1051.7,572.1 1057.3,577.4 1074.0,585.1 1121.4,592.1 1088.6,599.5 1025.8,606.9 1025.9,612.6 1027.5,618.1 1031.0,623.4 1064.4,631.5 1073.4,639.9 1058.3,646.4 1044.9,652.4 1032.3,660.4 1048.7,666.2 1050.2,674.5 1037.5,680.2 1057.7,687.8 1048.9,692.7 1044.4,697.8 1051.1,704.7 1027.0,711.4 1031.0,718.2 1049.8,723.9 1054.6,729.1 1051.7,734.8 1044.3,743.0 1051.0,749.0 1046.5,754.2 1039.9,762.1 1043.6,770.5 1061.0,776.9 1042.3,785.2 1046.8,792.7 1054.2,797.8 1063.9,805.0 1040.6,811.8 1024.4,819.8 1028.7,825.6 1046.7,831.5 1056.6,836.6 1058.1,841.2 1041.1,848.5 1032.3,855.6"/><polyline points="1113.8,7.1 1144.4,14.4 1105.2,19.6 1104.7,24.4 1133.6,32.1 1102.3,39.8 1089.8,44.5 1065.7,49.4 1042.4,55.5 1055.6,63.2 1045.4,69.8 1049.1,76.1 1024.9,81.5 1039.1,88.0 1025.0,94.3 1056.8,101.4 1089.2,108.3 1104.5,115.4 1108.9,122.2 1072.2,127.6 1050.0,134.3 1052.3,141.1 1054.6,148.6 1053.2,155.8 1049.2,160.8 1073.6,166.2 1055.7,174.6 1051.2,179.3 1043.9,184.1 1039.5,192.5 1045.7,198.3 1055.8,204.2 1016.9,212.2 975.5,218.9 998.5,225.4 1004.6,233.4 1022.9,240.6 1041.2,247.7 1027.2,253.2 1025.6,259.3 1017.0,264.8 1019.0,270.3 1022.2,277.3 1013.8,284.7 1025.3,290.2 1032.3,294.9 1029.8,301.5 1015.8,309.4 1019.3,315.1 1012.4,319.9 1022.3,324.7 1019.9,333.1 1010.4,339.2 1006.5,345.2 1012.4,351.7 1018.7,359.4 1023.5,364.0 1024.3,371.9 1026.0,379.0 1021.2,385.2 1017.1,390.3 1028.3,397.6 1016.1,404.9 1016.5,412.6 1020.4,418.0 1022.9,425.0 1011.4,432.8 1019.2,437.4 1020.0,444.6 1020.2,450.1 1021.8,457.1 1014.0,463.5 1022.5,469.7 1024.4,476.4 1019.7,483.3 1011.6,491.0 1016.8,498.7 1011.1,505.4 1014.6,513.2 1013.7,521.1 1010.8,528.1 1021.3,534.4 1016.7,541.5 1019.0,547.1 1019.8,554.5 1025.3,559.2 1018.3,565.5 1023.0,571.2 1024.2,578.9 1022.8,583.4 1019.2,588.6 1025.3,595.9 1022.9,601.9 1025.8,607.4 1029.2,612.1 1016.3,618.4 1022.5,625.4 1024.0,632.7 1020.3,637.4 1018.9,642.6 1027.5,651.0 1020.3,659.4 1025.3,666.3 1026.1,672.3 1044.5,679.2 1032.2,683.7 1050.2,688.3 1040.9,696.7 1026.6,704.1 1025.8,710.9 1033.5,718.3 1043.1,725.9 1041.1,730.6 1026.5,737.9 1019.9,744.3 1023.1,749.0 1018.7,757.1 1036.7,761.6 1026.3,768.1 1026.7,774.7 1050.2,780.4 1044.2,784.9 1031.9,792.0 1035.5,799.9 1034.3,805.4 1034.1,811.7 1027.1,817.6 1023.5,823.5 1023.2,829.5 1020.4,835.4 1032.4,841.2 1023.7,845.8 1030.8,850.7 1023.1,858.7"/><polyline points="1109.5,7.1 1093.5,12.2 1085.6,18.8 1081.5,26.6 1073.6,33.3 1055.9,41.7 1055.7,49.4 1028.2,54.2 1010.9,60.4 1035.5,66.1 1064.3,71.9 1070.0,80.3 1054.9,86.2 1048.9,90.7 1044.1,96.1 1034.7,103.3 1033.4,111.5 1028.4,118.5 1000.8,124.6 1050.2,131.3 1046.2,138.9 1020.2,146.8 1052.1,151.7 1061.8,156.6 1059.5,163.9 1021.4,170.4 1043.0,175.1 1050.1,182.4 1034.5,187.5 1032.9,192.7 1031.5,200.3 1030.2,206.3 1033.0,213.2 1038.8,219.5 1031.5,224.9 1011.0,230.3 1015.7,237.1 1028.2,243.8 1046.4,249.2 1032.3,255.2 1026.6,260.9 1044.4,265.5 1031.5,271.0 1019.2,278.4 1026.1,284.0 1025.3,289.8 1021.5,296.2 1021.8,301.2 1023.5,309.1 1031.0,314.0 1042.3,320.2 1047.8,327.7 1033.0,333.3 1024.9,339.6 1021.0,346.3 1017.0,353.8 1031.7,359.5 1024.4,366.3 1026.3,372.0 1014.7,378.6 1022.7,384.6 1023.2,389.8 1032.0,396.3 1026.5,401.0 1010.7,406.8 1015.5,415.1 1014.5,422.0 1016.9,426.5 1021.0,433.5 1016.4,439.7 1014.5,447.6 1007.0,453.1 1010.4,460.8 1018.0,466.5 1013.7,473.0 1017.6,480.2 1011.8,485.2 1018.8,493.0 1018.0,498.5 1019.0,505.0 1009.6,509.5 1007.0,514.7 1011.4,519.7 1020.4,527.0 1011.8,535.4 1018.2,541.6 1020.1,548.5 1019.4,554.6 1016.2,561.6 1008.7,569.8 1007.0,576.8 1013.2,584.1 1013.0,589.2 1015.9,595.9 1012.4,602.0 1008.9,607.9 1017.6,616.1 1016.7,622.8 1017.6,629.7 1006.1,638.1 990.5,644.4 995.3,649.6 1003.6,655.5 1016.7,660.0 1023.9,665.2 1019.3,670.1 1026.8,675.2 1025.3,680.8 1026.1,689.0 1027.1,697.1 1029.6,705.0 1038.0,713.4 1037.7,721.3 1021.8,727.1 1018.9,733.6 1015.9,739.4 1015.2,747.1 1027.6,755.4 1022.2,761.2 1018.8,767.1 1023.7,773.3 1008.6,779.6 1007.5,785.0 1023.1,792.0 1017.8,798.4 1023.2,805.9 1017.7,813.2 1018.0,819.8 1016.2,826.6 1021.1,832.4 1018.0,838.6 1019.7,846.8 1025.4,852.8"/><polyline points="1134.1,7.1 1123.8,12.2 1140.0,16.9 1127.2,24.9 1142.5,30.9 1114.7,36.3 1095.9,41.3 1091.0,46.3 1086.9,54.1 1070.9,59.2 1196.7,64.3 1161.6,70.5 1142.6,78.9 1167.1,85.5 1131.1,90.1 1109.1,95.4 1071.5,100.2 1047.5,104.7 1058.9,109.4 1072.2,117.8 1088.9,125.9 1062.8,131.6 1079.5,138.8 1121.8,146.6 1077.6,152.0 1084.4,159.9 1132.5,165.4 1114.5,172.0 1077.2,180.1 1138.6,187.3 1114.8,193.3 1058.4,201.7 1065.2,209.9 1042.4,218.0 1050.9,222.8 1032.0,228.8 1029.9,234.8 1028.5,239.7 1026.0,247.7 1020.7,253.6 1040.9,258.9 1034.9,263.9 1044.3,269.1 1039.1,277.4 1017.8,284.9 1016.2,292.5 1019.8,297.8 1023.9,302.7 1023.4,307.9 1028.7,315.2 1024.0,322.4 1020.1,329.8 1026.6,337.0 1030.8,344.0 1039.8,351.3 1045.6,358.3 1034.7,363.1 1022.4,368.4 1019.3,373.4 1016.5,381.2 1023.8,388.2 1025.7,393.9 1021.0,399.3 1025.3,407.6 1024.8,415.9 1019.9,424.3 1017.8,430.5 1019.4,437.3 1023.7,442.4 1025.5,449.4 1026.6,456.4 1029.9,463.8 1027.7,469.2 1030.9,474.4 1020.1,479.2 1029.0,483.9 1014.2,489.3 1016.5,497.0 1022.2,504.4 1026.3,512.1 1023.3,517.4 1028.8,524.1 1017.9,529.8 1030.9,536.3 1040.6,542.4 1039.2,550.2 1024.4,558.4 1032.5,566.5 1033.2,573.0 1023.4,581.0 1025.9,586.6 1014.7,591.3 1023.1,596.7 1015.2,604.1 1008.4,609.1 1009.1,616.6 1016.8,621.6 1027.8,626.7 1021.5,633.6 1024.7,640.2 1017.8,645.2 1016.5,653.6 1022.0,660.4 1022.6,668.9 1022.5,676.4 1024.7,684.7 1028.0,692.1 1013.6,696.9 1021.7,703.0 1021.6,711.1 1027.2,715.8 1021.3,724.2 1024.1,730.9 1022.5,738.3 1026.0,743.1 1027.5,751.2 1023.4,759.7 1017.3,765.1 1014.0,772.9 1024.8,780.7 1024.8,786.3 1018.8,790.9 1028.9,797.7 1026.8,803.9 1027.8,809.7 1024.2,817.9 1027.2,825.5 1027.2,831.4 1025.2,836.6 1021.7,841.9 1020.3,850.1 1023.5,856.4"/><polyline points="1200.0,215.0 1240.0,222.0 1264.0,225.5 1182.0,244.4 1209.0,257.0 1148.0,265.4 1110.0,272.0"/><polyline points="1060.0,678.0 1090.0,683.0 1117.0,688.0 1085.0,694.0 1060.0,700.0"/><polyline points="1065.0,795.0 1100.0,800.0 1132.0,804.0 1095.0,812.0 1065.0,818.0"/><polyline points="1060.0,833.0 1095.0,837.0 1121.0,841.0 1090.0,846.0 1062.0,850.0"/></g>
<polyline points="1197.7,8.8 1190.3,14.5 1133.5,19.7 1139.8,26.0 1123.0,31.3 1062.0,36.6 1080.9,41.8 1123.0,42.9 1177.7,46.0 1202.9,47.1 1257.6,51.3 1240.8,56.5 1202.9,60.7 1211.3,66.0 1213.5,72.3 1205.0,78.0 1205.0,84.9 1270.2,94.4 1261.8,98.6 1202.9,101.8 1165.1,104.9 1123.0,115.4 1123.0,127.0 1132.5,130.2 1108.3,141.3 1144.0,145.5 1148.2,151.8 1168.2,162.3 1165.1,167.6 1127.2,170.8 1097.8,175.0 1077.8,188.6 1043.1,192.8 1026.2,200.2 1019.9,208.6 1051.5,219.1 1049.6,225.0 1056.7,228.9 1055.1,240.7 1052.8,245.8 1059.0,247.4 1059.0,291.7 1051.2,295.6 1048.1,299.5 1052.5,302.9 1019.9,313.8 1051.5,325.0 1033.6,330.2 1045.2,334.4 1052.6,338.0 1052.6,405.0 1031.5,413.9 1030.4,421.3 1035.7,426.6 1040.0,445.0 1028.3,457.1 1040.0,470.0 1030.3,489.6 1045.0,495.0 1060.5,502.6 1045.0,506.0 1034.5,508.5 1029.5,511.0 1032.8,515.2 1017.8,521.0 1025.3,526.9 1012.7,532.3 1034.5,539.5 1040.0,550.0 1033.6,564.0 1040.0,585.0 1032.0,607.0 1040.0,630.0 1032.8,650.0 1038.0,665.0 1030.0,674.0 1030.0,679.0 1038.0,688.0 1032.8,695.5 1038.0,710.0 1033.6,722.3 1018.9,738.1 1033.6,742.3 1041.0,758.9 1041.0,768.6 1038.9,781.2 1031.5,793.6 1041.0,795.7 1062.0,801.0 1071.5,804.2 1068.3,809.4 1059.9,812.6 1039.9,826.2 1061.0,837.8 1045.0,852.0" fill="none" stroke="#ff00ff" stroke-width="3" stroke-linejoin="round"/>
<polyline points="1055.7,8.8 1026.2,15.5 1060.0,21.0 1091.4,25.0 1127.2,27.1 1141.9,32.3 1123.0,36.6 1070.4,42.9 1046.2,48.1 1049.4,54.4 1010.5,59.3 1015.7,63.9 1012.6,68.1 1015.7,74.4 1005.2,80.7 1022.0,89.1 1034.7,93.3 1036.8,98.6 1032.6,102.8 1064.1,109.1 1063.1,114.4 1102.0,119.6 1177.7,123.8 1211.3,126.0 1253.4,131.2 1278.7,139.6 1272.3,146.6 1232.4,149.7 1205.0,152.9 1184.0,155.0 1120.9,161.3 1139.8,167.6 1165.1,171.8 1205.0,175.0 1228.2,177.1 1229.2,182.3 1205.0,186.5 1181.9,191.8 1148.2,196.0 1131.4,202.3 1126.2,208.6 1148.2,213.9 1184.0,218.1 1190.0,222.0 1184.0,225.5 1131.4,229.7 1059.0,234.8 1034.7,236.0 1025.7,242.3 1026.9,247.7 1009.6,258.7 1058.3,270.1 1021.4,281.1 1017.9,287.0 1038.6,292.5 1045.7,298.7 1030.4,309.2 1038.9,316.5 1024.1,327.1 1030.4,334.4 1033.6,344.9 1023.1,354.4 1035.7,359.7 1038.0,400.0 1036.0,430.0 1022.0,444.4 1033.6,451.8 1031.5,458.1 1033.6,468.6 1015.2,483.4 1034.5,495.1 1038.0,500.0 1034.5,506.8 1014.4,512.2 1034.5,518.5 1038.0,530.0 1034.5,541.1 1027.0,546.2 1034.5,553.7 1033.6,567.1 1000.0,573.4 1000.0,586.0 1034.7,591.3 1033.6,609.1 1022.0,629.1 1033.6,636.5 1050.0,642.0 1072.5,647.0 1055.0,652.0 1026.2,663.4 1033.6,670.8 1033.6,684.4 1000.0,693.9 1000.0,698.1 1033.6,704.4 1035.0,720.0 1032.6,734.9 1021.0,741.2 1033.6,745.5 1041.0,761.0 1022.0,770.5 1041.0,772.6 1064.1,776.8 1061.0,782.1 1041.0,787.3 1000.0,791.5 1000.0,802.1 1041.0,808.4 1066.2,814.7 1062.0,821.0 1041.0,827.3 1028.3,832.6 1024.1,837.8 1026.2,847.3 1021.0,851.5" fill="none" stroke="#ff0000" stroke-width="3" stroke-linejoin="round"/>
<rect x="1104.60" y="20.61" width="16.60" height="105.14" fill="#b3b3b3" stroke="#000" stroke-width="2.5"/>
<line x1="1113.50" y1="21.61" x2="1113.50" y2="124.75" stroke="#000" stroke-width="2.7"/>
<rect x="1179.30" y="20.61" width="22.00" height="105.14" fill="#ff9999" stroke="#000" stroke-width="2.5"/>
<line x1="1192.40" y1="21.61" x2="1192.40" y2="124.75" stroke="#ff0000" stroke-width="3"/>
<rect x="1080.00" y="125.75" width="15.50" height="105.14" fill="#b3b3b3" stroke="#000" stroke-width="2.5"/>
<line x1="1088.30" y1="126.75" x2="1088.30" y2="229.89" stroke="#000" stroke-width="2.7"/>
<rect x="1185.20" y="125.75" width="19.10" height="105.14" fill="#ff9999" stroke="#000" stroke-width="2.5"/>
<line x1="1196.60" y1="126.75" x2="1196.60" y2="229.89" stroke="#ff0000" stroke-width="3"/>
<rect x="1060.70" y="230.89" width="14.80" height="105.14" fill="#b3b3b3" stroke="#000" stroke-width="2.5"/>
<line x1="1069.30" y1="231.89" x2="1069.30" y2="335.03" stroke="#000" stroke-width="2.7"/>
<rect x="1076.90" y="230.89" width="61.10" height="105.14" fill="#ff9999" stroke="#000" stroke-width="2.5"/>
<line x1="1119.40" y1="231.89" x2="1119.40" y2="335.03" stroke="#ff0000" stroke-width="3"/>
<rect x="1054.40" y="336.03" width="18.00" height="105.14" fill="#b3b3b3" stroke="#000" stroke-width="2.5"/>
<line x1="1065.20" y1="337.03" x2="1065.20" y2="440.16" stroke="#000" stroke-width="2.7"/>
<rect x="1038.60" y="336.03" width="12.20" height="105.14" fill="#ff9999" stroke="#000" stroke-width="2.5"/>
<line x1="1045.60" y1="337.03" x2="1045.60" y2="440.16" stroke="#ff0000" stroke-width="3"/>
<rect x="1047.40" y="441.16" width="9.80" height="105.14" fill="#b3b3b3" stroke="#000" stroke-width="2.5"/>
<line x1="1050.80" y1="442.16" x2="1050.80" y2="545.30" stroke="#000" stroke-width="2.7"/>
<rect x="1036.50" y="441.16" width="9.10" height="105.14" fill="#ff9999" stroke="#000" stroke-width="2.5"/>
<line x1="1042.00" y1="442.16" x2="1042.00" y2="545.30" stroke="#ff0000" stroke-width="3"/>
<rect x="1048.70" y="546.30" width="16.40" height="105.14" fill="#b3b3b3" stroke="#000" stroke-width="2.5"/>
<line x1="1058.70" y1="547.30" x2="1058.70" y2="650.44" stroke="#000" stroke-width="2.7"/>
<rect x="1036.50" y="546.30" width="10.30" height="105.14" fill="#ff9999" stroke="#000" stroke-width="2.5"/>
<line x1="1042.00" y1="547.30" x2="1042.00" y2="650.44" stroke="#ff0000" stroke-width="3"/>
<rect x="1036.50" y="651.44" width="4.80" height="105.14" fill="#b3b3b3" stroke="#000" stroke-width="2.5"/>
<line x1="1041.50" y1="652.44" x2="1041.50" y2="755.58" stroke="#000" stroke-width="2.7"/>
<rect x="1042.20" y="651.44" width="10.60" height="105.14" fill="#ff9999" stroke="#000" stroke-width="2.5"/>
<line x1="1047.50" y1="652.44" x2="1047.50" y2="755.58" stroke="#ff0000" stroke-width="3"/>
<rect x="1056.20" y="756.58" width="2.10" height="105.14" fill="#b3b3b3" stroke="#000" stroke-width="2.5"/>
<line x1="1057.00" y1="757.58" x2="1057.00" y2="860.71" stroke="#000" stroke-width="2.7"/>
<rect x="1043.20" y="756.58" width="12.60" height="105.14" fill="#ff9999" stroke="#000" stroke-width="2.5"/>
<line x1="1050.40" y1="757.58" x2="1050.40" y2="860.71" stroke="#ff0000" stroke-width="3"/>
</g>
<g transform="translate(127.2 53) scale(0.95 1)"><text x="0" y="0" style="font-size:43px;font-weight:bold">a</text></g>
<g transform="translate(427.0 53) scale(1.0 1)"><text x="0" y="0" style="font-size:43px;font-weight:bold">b</text></g>
<g transform="translate(717 53) scale(1.0 1)"><text x="0" y="0" style="font-size:43px;font-weight:bold">c</text></g>
<g transform="translate(1012 53) scale(1.0 1)"><text x="0" y="0" style="font-size:43px;font-weight:bold">d</text></g>
<text x="109.6" y="20.5" text-anchor="end">MLD</text>
<text x="1294" y="20.5">MLD</text>
<text x="109.6" y="125.6" text-anchor="end">10</text>
<text x="1294" y="125.6">10</text>
<text x="109.6" y="230.8" text-anchor="end">20</text>
<text x="1294" y="230.8">20</text>
<text x="109.6" y="335.9" text-anchor="end">30</text>
<text x="1294" y="335.9">30</text>
<text x="109.6" y="441.1" text-anchor="end">40</text>
<text x="1294" y="441.1">40</text>
<text x="109.6" y="546.2" text-anchor="end">50</text>
<text x="1294" y="546.2">50</text>
<text x="109.6" y="651.3" text-anchor="end">60</text>
<text x="1294" y="651.3">60</text>
<text x="109.6" y="756.5" text-anchor="end">70</text>
<text x="1294" y="756.5">70</text>
<text x="109.6" y="861.6" text-anchor="end">80</text>
<text x="1294" y="861.6">80</text>
<text x="123.0" y="893.5" text-anchor="middle">10<tspan font-size="20.5" dy="-12.5">−10</tspan></text>
<text x="218.4" y="893.5" text-anchor="middle">10<tspan font-size="20.5" dy="-12.5">−8</tspan></text>
<text x="318.3" y="893.5" text-anchor="middle">10<tspan font-size="20.5" dy="-12.5">−6</tspan></text>
<text x="445.7" y="893.5" text-anchor="middle">10<tspan font-size="20.5" dy="-12.5">−2</tspan></text>
<text x="636.8" y="893.5" text-anchor="middle">10<tspan font-size="20.5" dy="-12.5">0</tspan></text>
<text x="765.6" y="893.5" text-anchor="middle">10<tspan font-size="20.5" dy="-12.5">−6</tspan></text>
<text x="876.2" y="893.5" text-anchor="middle">10<tspan font-size="20.5" dy="-12.5">−4</tspan></text>
<text x="988.9" y="893.5" text-anchor="middle">10<tspan font-size="20.5" dy="-12.5">−2</tspan></text>
<text x="1113.6" y="893.5" text-anchor="middle">10<tspan font-size="20.5" dy="-12.5">1</tspan></text>
<text x="1224.2" y="893.5" text-anchor="middle">10<tspan font-size="20.5" dy="-12.5">3</tspan></text>
<g transform="translate(199.8 942.5) scale(1.0 1.03)"><text x="0" y="0" style="font-size:29.5px"><tspan font-style="italic">ϵ</tspan><tspan dx="2"> [m</tspan><tspan font-size="20.5" dy="-12.5">2</tspan><tspan dy="12.5"> s</tspan><tspan font-size="20.5" dy="-12.5">−3</tspan><tspan dy="12.5">]</tspan></text></g>
<g transform="translate(461.8 942.5) scale(1.014 1.03)"><text x="0" y="0" style="font-size:29.5px">d<tspan font-style="italic">T</tspan>/d<tspan font-style="italic">z</tspan> [°C m<tspan font-size="20.5" dy="-12.5">−1</tspan><tspan dy="12.5">]</tspan></text></g>
<g transform="translate(782 942.5) scale(0.988 1.03)"><text x="0" y="0" style="font-size:29.5px"><tspan font-style="italic">K</tspan><tspan font-size="20.5" font-style="italic" dy="6">ρ</tspan><tspan dy="-6"> [m</tspan><tspan font-size="20.5" dy="-12.5">2</tspan><tspan dy="12.5"> s</tspan><tspan font-size="20.5" dy="-12.5">−1</tspan><tspan dy="12.5">]</tspan></text></g>
<g transform="translate(1023 942.5) scale(0.997 1.03)"><text x="0" y="0" style="font-size:29.5px">Abs (<tspan font-style="italic">J</tspan><tspan font-size="20.5" dy="6">heat</tspan><tspan dy="-6">) [W m</tspan><tspan font-size="20.5" dy="-12.5">−2</tspan><tspan dy="12.5">]</tspan></text></g>
<g transform="translate(23.6 430) rotate(-90) scale(1.1 1.03)"><text x="0" y="0" text-anchor="middle" style="font-size:29.5px">Depth below ML [m]</text></g>
</svg></body></html>
